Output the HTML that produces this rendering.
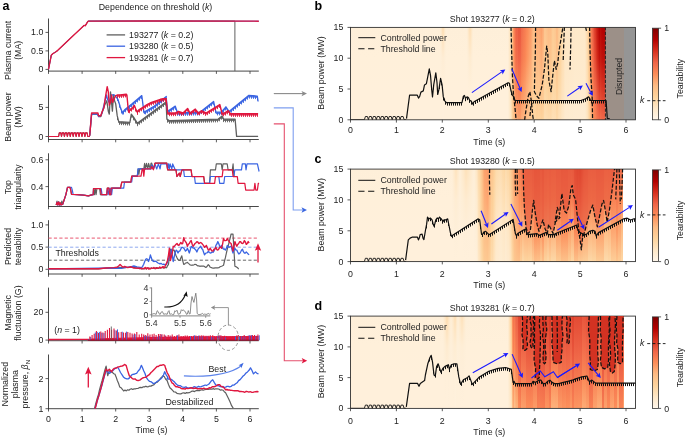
<!DOCTYPE html>
<html><head><meta charset="utf-8"><style>
html,body{margin:0;padding:0;background:#fff;}
svg{display:block;will-change:transform;}
text{font-family:"Liberation Sans", sans-serif;}
</style></head><body>
<svg width="685" height="437" viewBox="0 0 685 437">
<defs><linearGradient id="cmap" x1="0" y1="1" x2="0" y2="0"><stop offset="0.000" stop-color="#fff7ec"/><stop offset="0.125" stop-color="#fee8c8"/><stop offset="0.250" stop-color="#fdd49e"/><stop offset="0.375" stop-color="#fdbb84"/><stop offset="0.500" stop-color="#fc8d59"/><stop offset="0.625" stop-color="#ef6548"/><stop offset="0.750" stop-color="#d7301f"/><stop offset="0.875" stop-color="#b30000"/><stop offset="1.000" stop-color="#7f0000"/></linearGradient><clipPath id="clipb"><rect x="350.5" y="27.4" width="285" height="92.4"/></clipPath><clipPath id="clipc"><rect x="350.5" y="169.1" width="285" height="92.5"/></clipPath><clipPath id="clipd"><rect x="350.5" y="316.1" width="285" height="92.3"/></clipPath><linearGradient id="hb0" x1="0" y1="0" x2="0" y2="1"><stop offset="0" stop-color="#feefd9"/><stop offset=".33" stop-color="#fff0da"/><stop offset=".67" stop-color="#fff0db"/><stop offset="1" stop-color="#fff0db"/></linearGradient><linearGradient id="hb1" x1="0" y1="0" x2="0" y2="1"><stop offset="0" stop-color="#feedd3"/><stop offset=".33" stop-color="#feefd9"/><stop offset=".67" stop-color="#fff0db"/><stop offset="1" stop-color="#fff0db"/></linearGradient><linearGradient id="hb2" x1="0" y1="0" x2="0" y2="1"><stop offset="0" stop-color="#fee8c7"/><stop offset=".33" stop-color="#feeed7"/><stop offset=".67" stop-color="#fff0da"/><stop offset="1" stop-color="#fff0db"/></linearGradient><linearGradient id="hb3" x1="0" y1="0" x2="0" y2="1"><stop offset="0" stop-color="#fedfb6"/><stop offset=".33" stop-color="#feedd5"/><stop offset=".67" stop-color="#fff0db"/><stop offset="1" stop-color="#fff0dc"/></linearGradient><linearGradient id="hb4" x1="0" y1="0" x2="0" y2="1"><stop offset="0" stop-color="#feecd3"/><stop offset=".33" stop-color="#feefd8"/><stop offset=".67" stop-color="#fff0db"/><stop offset="1" stop-color="#fff0db"/></linearGradient><linearGradient id="hb5" x1="0" y1="0" x2="0" y2="1"><stop offset="0" stop-color="#fee7c5"/><stop offset=".33" stop-color="#feedd5"/><stop offset=".67" stop-color="#fff0da"/><stop offset="1" stop-color="#fff0db"/></linearGradient><linearGradient id="hb6" x1="0" y1="0" x2="0" y2="1"><stop offset="0" stop-color="#fee0b8"/><stop offset=".33" stop-color="#feecd1"/><stop offset=".67" stop-color="#fff0da"/><stop offset="1" stop-color="#fff0db"/></linearGradient><linearGradient id="hb7" x1="0" y1="0" x2="0" y2="1"><stop offset="0" stop-color="#feecd3"/><stop offset=".33" stop-color="#feedd4"/><stop offset=".67" stop-color="#feeed5"/><stop offset="1" stop-color="#feeed7"/></linearGradient><linearGradient id="hb8" x1="0" y1="0" x2="0" y2="1"><stop offset="0" stop-color="#fee7c5"/><stop offset=".33" stop-color="#fee8c8"/><stop offset=".67" stop-color="#fee9cb"/><stop offset="1" stop-color="#feebce"/></linearGradient><linearGradient id="hb9" x1="0" y1="0" x2="0" y2="1"><stop offset="0" stop-color="#fee0b7"/><stop offset=".33" stop-color="#fee1ba"/><stop offset=".67" stop-color="#fee4c0"/><stop offset="1" stop-color="#fee7c5"/></linearGradient><linearGradient id="hb10" x1="0" y1="0" x2="0" y2="1"><stop offset="0" stop-color="#fdd29c"/><stop offset=".33" stop-color="#fdd5a0"/><stop offset=".67" stop-color="#fddaaa"/><stop offset="1" stop-color="#fedeb4"/></linearGradient><linearGradient id="hb11" x1="0" y1="0" x2="0" y2="1"><stop offset="0" stop-color="#fdb780"/><stop offset=".33" stop-color="#fdbe87"/><stop offset=".67" stop-color="#fdc891"/><stop offset="1" stop-color="#fdd29c"/></linearGradient><linearGradient id="hb12" x1="0" y1="0" x2="0" y2="1"><stop offset="0" stop-color="#fc9560"/><stop offset=".33" stop-color="#fca06b"/><stop offset=".67" stop-color="#fdb780"/><stop offset="1" stop-color="#fdc690"/></linearGradient><linearGradient id="hb13" x1="0" y1="0" x2="0" y2="1"><stop offset="0" stop-color="#f77f53"/><stop offset=".33" stop-color="#fb8857"/><stop offset=".67" stop-color="#fca26c"/><stop offset="1" stop-color="#fdbd86"/></linearGradient><linearGradient id="hb14" x1="0" y1="0" x2="0" y2="1"><stop offset="0" stop-color="#f16c4b"/><stop offset=".33" stop-color="#f4754f"/><stop offset=".67" stop-color="#fc8e5a"/><stop offset="1" stop-color="#fdb07a"/></linearGradient><linearGradient id="hb15" x1="0" y1="0" x2="0" y2="1"><stop offset="0" stop-color="#ed6145"/><stop offset=".33" stop-color="#f16c4b"/><stop offset=".67" stop-color="#f98556"/><stop offset="1" stop-color="#fda973"/></linearGradient><linearGradient id="hb16" x1="0" y1="0" x2="0" y2="1"><stop offset="0" stop-color="#e9583e"/><stop offset=".33" stop-color="#ef6448"/><stop offset=".67" stop-color="#f77e53"/><stop offset="1" stop-color="#fca16b"/></linearGradient><linearGradient id="hb17" x1="0" y1="0" x2="0" y2="1"><stop offset="0" stop-color="#eb5b40"/><stop offset=".33" stop-color="#f06749"/><stop offset=".67" stop-color="#f88054"/><stop offset="1" stop-color="#fca26d"/></linearGradient><linearGradient id="hb18" x1="0" y1="0" x2="0" y2="1"><stop offset="0" stop-color="#f16c4b"/><stop offset=".33" stop-color="#f4754f"/><stop offset=".67" stop-color="#fc8d59"/><stop offset="1" stop-color="#fdae78"/></linearGradient><linearGradient id="hb19" x1="0" y1="0" x2="0" y2="1"><stop offset="0" stop-color="#f3714d"/><stop offset=".33" stop-color="#f67b51"/><stop offset=".67" stop-color="#fc925e"/><stop offset="1" stop-color="#fdb17b"/></linearGradient><linearGradient id="hb20" x1="0" y1="0" x2="0" y2="1"><stop offset="0" stop-color="#f5764f"/><stop offset=".33" stop-color="#f88053"/><stop offset=".67" stop-color="#fc9763"/><stop offset="1" stop-color="#fdb47e"/></linearGradient><linearGradient id="hb21" x1="0" y1="0" x2="0" y2="1"><stop offset="0" stop-color="#f67b51"/><stop offset=".33" stop-color="#f98455"/><stop offset=".67" stop-color="#fc9d68"/><stop offset="1" stop-color="#fdb982"/></linearGradient><linearGradient id="hb22" x1="0" y1="0" x2="0" y2="1"><stop offset="0" stop-color="#f88053"/><stop offset=".33" stop-color="#fb8957"/><stop offset=".67" stop-color="#fca26d"/><stop offset="1" stop-color="#fdbc85"/></linearGradient><linearGradient id="hb23" x1="0" y1="0" x2="0" y2="1"><stop offset="0" stop-color="#fa8656"/><stop offset=".33" stop-color="#fc905c"/><stop offset=".67" stop-color="#fdaa74"/><stop offset="1" stop-color="#fdc089"/></linearGradient><linearGradient id="hb24" x1="0" y1="0" x2="0" y2="1"><stop offset="0" stop-color="#fb8b58"/><stop offset=".33" stop-color="#fc9661"/><stop offset=".67" stop-color="#fdaf79"/><stop offset="1" stop-color="#fdc28c"/></linearGradient><linearGradient id="hb25" x1="0" y1="0" x2="0" y2="1"><stop offset="0" stop-color="#fc915d"/><stop offset=".33" stop-color="#fc9c67"/><stop offset=".67" stop-color="#fdb57e"/><stop offset="1" stop-color="#fdc58e"/></linearGradient><linearGradient id="hb26" x1="0" y1="0" x2="0" y2="1"><stop offset="0" stop-color="#fc9863"/><stop offset=".33" stop-color="#fca36d"/><stop offset=".67" stop-color="#fdba83"/><stop offset="1" stop-color="#fdc791"/></linearGradient><linearGradient id="hb27" x1="0" y1="0" x2="0" y2="1"><stop offset="0" stop-color="#fc9b66"/><stop offset=".33" stop-color="#fda671"/><stop offset=".67" stop-color="#fdbc85"/><stop offset="1" stop-color="#fdc892"/></linearGradient><linearGradient id="hb28" x1="0" y1="0" x2="0" y2="1"><stop offset="0" stop-color="#fda46f"/><stop offset=".33" stop-color="#fdaf79"/><stop offset=".67" stop-color="#fdc089"/><stop offset="1" stop-color="#fdcc95"/></linearGradient><linearGradient id="hb29" x1="0" y1="0" x2="0" y2="1"><stop offset="0" stop-color="#fdb17b"/><stop offset=".33" stop-color="#fdbc85"/><stop offset=".67" stop-color="#fdc790"/><stop offset="1" stop-color="#fdd09a"/></linearGradient><linearGradient id="hb30" x1="0" y1="0" x2="0" y2="1"><stop offset="0" stop-color="#fdbc85"/><stop offset=".33" stop-color="#fdc28b"/><stop offset=".67" stop-color="#fdcc96"/><stop offset="1" stop-color="#fdd49f"/></linearGradient><linearGradient id="hb31" x1="0" y1="0" x2="0" y2="1"><stop offset="0" stop-color="#fdbd86"/><stop offset=".33" stop-color="#fdc48d"/><stop offset=".67" stop-color="#fdce98"/><stop offset="1" stop-color="#fdd6a2"/></linearGradient><linearGradient id="hb32" x1="0" y1="0" x2="0" y2="1"><stop offset="0" stop-color="#fdba83"/><stop offset=".33" stop-color="#fdc28b"/><stop offset=".67" stop-color="#fdcd96"/><stop offset="1" stop-color="#fdd6a2"/></linearGradient><linearGradient id="hb33" x1="0" y1="0" x2="0" y2="1"><stop offset="0" stop-color="#fdae77"/><stop offset=".33" stop-color="#fdbb84"/><stop offset=".67" stop-color="#fdc790"/><stop offset="1" stop-color="#fdd39d"/></linearGradient><linearGradient id="hb34" x1="0" y1="0" x2="0" y2="1"><stop offset="0" stop-color="#fda973"/><stop offset=".33" stop-color="#fdb881"/><stop offset=".67" stop-color="#fdc68f"/><stop offset="1" stop-color="#fdd39d"/></linearGradient><linearGradient id="hb35" x1="0" y1="0" x2="0" y2="1"><stop offset="0" stop-color="#fdab75"/><stop offset=".33" stop-color="#fdba83"/><stop offset=".67" stop-color="#fdc891"/><stop offset="1" stop-color="#fdd59f"/></linearGradient><linearGradient id="hb36" x1="0" y1="0" x2="0" y2="1"><stop offset="0" stop-color="#fda772"/><stop offset=".33" stop-color="#fdb680"/><stop offset=".67" stop-color="#fdc790"/><stop offset="1" stop-color="#fdd49e"/></linearGradient><linearGradient id="hb37" x1="0" y1="0" x2="0" y2="1"><stop offset="0" stop-color="#fca46e"/><stop offset=".33" stop-color="#fdb37c"/><stop offset=".67" stop-color="#fdc68f"/><stop offset="1" stop-color="#fdd49e"/></linearGradient><linearGradient id="hb38" x1="0" y1="0" x2="0" y2="1"><stop offset="0" stop-color="#fca06a"/><stop offset=".33" stop-color="#fdae78"/><stop offset=".67" stop-color="#fdc38c"/><stop offset="1" stop-color="#fdd29c"/></linearGradient><linearGradient id="hb39" x1="0" y1="0" x2="0" y2="1"><stop offset="0" stop-color="#fda973"/><stop offset=".33" stop-color="#fdb680"/><stop offset=".67" stop-color="#fdc690"/><stop offset="1" stop-color="#fdd49f"/></linearGradient><linearGradient id="hb40" x1="0" y1="0" x2="0" y2="1"><stop offset="0" stop-color="#fdb27c"/><stop offset=".33" stop-color="#fdbd86"/><stop offset=".67" stop-color="#fdc993"/><stop offset="1" stop-color="#fdd7a3"/></linearGradient><linearGradient id="hb41" x1="0" y1="0" x2="0" y2="1"><stop offset="0" stop-color="#fdc58f"/><stop offset=".33" stop-color="#fdcb95"/><stop offset=".67" stop-color="#fdd5a1"/><stop offset="1" stop-color="#fddeb3"/></linearGradient><linearGradient id="hb42" x1="0" y1="0" x2="0" y2="1"><stop offset="0" stop-color="#fdc690"/><stop offset=".33" stop-color="#fdcc96"/><stop offset=".67" stop-color="#fdd6a2"/><stop offset="1" stop-color="#fedeb4"/></linearGradient><linearGradient id="hb43" x1="0" y1="0" x2="0" y2="1"><stop offset="0" stop-color="#fdc38c"/><stop offset=".33" stop-color="#fdca93"/><stop offset=".67" stop-color="#fdd49f"/><stop offset="1" stop-color="#fddeb2"/></linearGradient><linearGradient id="hb44" x1="0" y1="0" x2="0" y2="1"><stop offset="0" stop-color="#fdc089"/><stop offset=".33" stop-color="#fdc791"/><stop offset=".67" stop-color="#fdd39d"/><stop offset="1" stop-color="#fdddb1"/></linearGradient><linearGradient id="hb45" x1="0" y1="0" x2="0" y2="1"><stop offset="0" stop-color="#fdbd86"/><stop offset=".33" stop-color="#fdc48e"/><stop offset=".67" stop-color="#fdd09a"/><stop offset="1" stop-color="#fddcaf"/></linearGradient><linearGradient id="hb46" x1="0" y1="0" x2="0" y2="1"><stop offset="0" stop-color="#fdbe87"/><stop offset=".33" stop-color="#fdc58e"/><stop offset=".67" stop-color="#fdd19a"/><stop offset="1" stop-color="#fddcaf"/></linearGradient><linearGradient id="hb47" x1="0" y1="0" x2="0" y2="1"><stop offset="0" stop-color="#fdbe87"/><stop offset=".33" stop-color="#fdc58e"/><stop offset=".67" stop-color="#fdcf99"/><stop offset="1" stop-color="#fddbae"/></linearGradient><linearGradient id="hb48" x1="0" y1="0" x2="0" y2="1"><stop offset="0" stop-color="#fdc38c"/><stop offset=".33" stop-color="#fdc992"/><stop offset=".67" stop-color="#fdd29c"/><stop offset="1" stop-color="#fdddb1"/></linearGradient><linearGradient id="hb49" x1="0" y1="0" x2="0" y2="1"><stop offset="0" stop-color="#fdcb94"/><stop offset=".33" stop-color="#fdcf99"/><stop offset=".67" stop-color="#fdd6a3"/><stop offset="1" stop-color="#fee0b6"/></linearGradient><linearGradient id="hb50" x1="0" y1="0" x2="0" y2="1"><stop offset="0" stop-color="#fdcc95"/><stop offset=".33" stop-color="#fdd09a"/><stop offset=".67" stop-color="#fdd7a5"/><stop offset="1" stop-color="#fee0b7"/></linearGradient><linearGradient id="hb51" x1="0" y1="0" x2="0" y2="1"><stop offset="0" stop-color="#fdc992"/><stop offset=".33" stop-color="#fdce98"/><stop offset=".67" stop-color="#fdd6a3"/><stop offset="1" stop-color="#fedfb6"/></linearGradient><linearGradient id="hb52" x1="0" y1="0" x2="0" y2="1"><stop offset="0" stop-color="#fdc68f"/><stop offset=".33" stop-color="#fdcc96"/><stop offset=".67" stop-color="#fdd6a2"/><stop offset="1" stop-color="#fedfb4"/></linearGradient><linearGradient id="hb53" x1="0" y1="0" x2="0" y2="1"><stop offset="0" stop-color="#fdbc85"/><stop offset=".33" stop-color="#fdc38d"/><stop offset=".67" stop-color="#fdcf99"/><stop offset="1" stop-color="#fddbac"/></linearGradient><linearGradient id="hb54" x1="0" y1="0" x2="0" y2="1"><stop offset="0" stop-color="#fdbd86"/><stop offset=".33" stop-color="#fdc48e"/><stop offset=".67" stop-color="#fdd09a"/><stop offset="1" stop-color="#fddbad"/></linearGradient><linearGradient id="hb55" x1="0" y1="0" x2="0" y2="1"><stop offset="0" stop-color="#fdc791"/><stop offset=".33" stop-color="#fdce98"/><stop offset=".67" stop-color="#fdd7a5"/><stop offset="1" stop-color="#fedfb5"/></linearGradient><linearGradient id="hb56" x1="0" y1="0" x2="0" y2="1"><stop offset="0" stop-color="#fdcc96"/><stop offset=".33" stop-color="#fdd29c"/><stop offset=".67" stop-color="#fdd9a9"/><stop offset="1" stop-color="#fee1b9"/></linearGradient><linearGradient id="hb57" x1="0" y1="0" x2="0" y2="1"><stop offset="0" stop-color="#fdd19b"/><stop offset=".33" stop-color="#fdd5a1"/><stop offset=".67" stop-color="#fddcae"/><stop offset="1" stop-color="#fee2bc"/></linearGradient><linearGradient id="hb58" x1="0" y1="0" x2="0" y2="1"><stop offset="0" stop-color="#fdd7a5"/><stop offset=".33" stop-color="#fddaab"/><stop offset=".67" stop-color="#fedfb6"/><stop offset="1" stop-color="#fee5c1"/></linearGradient><linearGradient id="hb59" x1="0" y1="0" x2="0" y2="1"><stop offset="0" stop-color="#fddcae"/><stop offset=".33" stop-color="#fedeb3"/><stop offset=".67" stop-color="#fee2bc"/><stop offset="1" stop-color="#fee7c6"/></linearGradient><linearGradient id="hb60" x1="0" y1="0" x2="0" y2="1"><stop offset="0" stop-color="#fedeb4"/><stop offset=".33" stop-color="#fee0b8"/><stop offset=".67" stop-color="#fee4bf"/><stop offset="1" stop-color="#fee8c9"/></linearGradient><linearGradient id="hb61" x1="0" y1="0" x2="0" y2="1"><stop offset="0" stop-color="#fee3be"/><stop offset=".33" stop-color="#fee5c2"/><stop offset=".67" stop-color="#fee7c6"/><stop offset="1" stop-color="#feeacd"/></linearGradient><linearGradient id="hb62" x1="0" y1="0" x2="0" y2="1"><stop offset="0" stop-color="#fee6c3"/><stop offset=".33" stop-color="#fee7c7"/><stop offset=".67" stop-color="#fee9ca"/><stop offset="1" stop-color="#feebcf"/></linearGradient><linearGradient id="hb63" x1="0" y1="0" x2="0" y2="1"><stop offset="0" stop-color="#fee6c4"/><stop offset=".33" stop-color="#fee8c7"/><stop offset=".67" stop-color="#fee9ca"/><stop offset="1" stop-color="#feebd0"/></linearGradient><linearGradient id="hb64" x1="0" y1="0" x2="0" y2="1"><stop offset="0" stop-color="#fee6c5"/><stop offset=".33" stop-color="#fee8c8"/><stop offset=".67" stop-color="#fee9cb"/><stop offset="1" stop-color="#feebd0"/></linearGradient><linearGradient id="hb65" x1="0" y1="0" x2="0" y2="1"><stop offset="0" stop-color="#fee7c5"/><stop offset=".33" stop-color="#fee8c9"/><stop offset=".67" stop-color="#fee9cb"/><stop offset="1" stop-color="#feebd0"/></linearGradient><linearGradient id="hb66" x1="0" y1="0" x2="0" y2="1"><stop offset="0" stop-color="#fee7c6"/><stop offset=".33" stop-color="#fee8c9"/><stop offset=".67" stop-color="#feeacc"/><stop offset="1" stop-color="#feecd0"/></linearGradient><linearGradient id="hb67" x1="0" y1="0" x2="0" y2="1"><stop offset="0" stop-color="#fee7c7"/><stop offset=".33" stop-color="#fee9ca"/><stop offset=".67" stop-color="#feeacd"/><stop offset="1" stop-color="#feecd1"/></linearGradient><linearGradient id="hb68" x1="0" y1="0" x2="0" y2="1"><stop offset="0" stop-color="#fee8c7"/><stop offset=".33" stop-color="#fee9ca"/><stop offset=".67" stop-color="#feeacd"/><stop offset="1" stop-color="#feecd1"/></linearGradient><linearGradient id="hb69" x1="0" y1="0" x2="0" y2="1"><stop offset="0" stop-color="#fee8c8"/><stop offset=".33" stop-color="#fee9cb"/><stop offset=".67" stop-color="#feeace"/><stop offset="1" stop-color="#feecd1"/></linearGradient><linearGradient id="hb70" x1="0" y1="0" x2="0" y2="1"><stop offset="0" stop-color="#fee8c9"/><stop offset=".33" stop-color="#fee9cb"/><stop offset=".67" stop-color="#feebce"/><stop offset="1" stop-color="#feecd2"/></linearGradient><linearGradient id="hb71" x1="0" y1="0" x2="0" y2="1"><stop offset="0" stop-color="#fee8c9"/><stop offset=".33" stop-color="#feeacc"/><stop offset=".67" stop-color="#feebcf"/><stop offset="1" stop-color="#feecd2"/></linearGradient><linearGradient id="hb72" x1="0" y1="0" x2="0" y2="1"><stop offset="0" stop-color="#fee9c9"/><stop offset=".33" stop-color="#feeacc"/><stop offset=".67" stop-color="#feebcf"/><stop offset="1" stop-color="#feecd2"/></linearGradient><linearGradient id="hb73" x1="0" y1="0" x2="0" y2="1"><stop offset="0" stop-color="#fee5c2"/><stop offset=".33" stop-color="#fee7c6"/><stop offset=".67" stop-color="#fee9ca"/><stop offset="1" stop-color="#feebce"/></linearGradient><linearGradient id="hb74" x1="0" y1="0" x2="0" y2="1"><stop offset="0" stop-color="#fedfb6"/><stop offset=".33" stop-color="#fee1ba"/><stop offset=".67" stop-color="#fee4c1"/><stop offset="1" stop-color="#fee8c7"/></linearGradient><linearGradient id="hb75" x1="0" y1="0" x2="0" y2="1"><stop offset="0" stop-color="#fdd9a8"/><stop offset=".33" stop-color="#fddbad"/><stop offset=".67" stop-color="#fedfb6"/><stop offset="1" stop-color="#fee4bf"/></linearGradient><linearGradient id="hb76" x1="0" y1="0" x2="0" y2="1"><stop offset="0" stop-color="#fdca93"/><stop offset=".33" stop-color="#fdce98"/><stop offset=".67" stop-color="#fdd6a1"/><stop offset="1" stop-color="#fddcaf"/></linearGradient><linearGradient id="hb77" x1="0" y1="0" x2="0" y2="1"><stop offset="0" stop-color="#fdbb84"/><stop offset=".33" stop-color="#fdbf88"/><stop offset=".67" stop-color="#fdc892"/><stop offset="1" stop-color="#fdd29c"/></linearGradient><linearGradient id="hb78" x1="0" y1="0" x2="0" y2="1"><stop offset="0" stop-color="#fc9762"/><stop offset=".33" stop-color="#fc9e69"/><stop offset=".67" stop-color="#fdb27c"/><stop offset="1" stop-color="#fdc18a"/></linearGradient><linearGradient id="hb79" x1="0" y1="0" x2="0" y2="1"><stop offset="0" stop-color="#f77d52"/><stop offset=".33" stop-color="#f98455"/><stop offset=".67" stop-color="#fc9a65"/><stop offset="1" stop-color="#fdb27b"/></linearGradient><linearGradient id="hb80" x1="0" y1="0" x2="0" y2="1"><stop offset="0" stop-color="#f16a4a"/><stop offset=".33" stop-color="#f4744e"/><stop offset=".67" stop-color="#fb8957"/><stop offset="1" stop-color="#fca46e"/></linearGradient><linearGradient id="hb81" x1="0" y1="0" x2="0" y2="1"><stop offset="0" stop-color="#e8563c"/><stop offset=".33" stop-color="#ef6548"/><stop offset=".67" stop-color="#f67b51"/><stop offset="1" stop-color="#fc9863"/></linearGradient><linearGradient id="hb82" x1="0" y1="0" x2="0" y2="1"><stop offset="0" stop-color="#df422d"/><stop offset=".33" stop-color="#e7533a"/><stop offset=".67" stop-color="#f26f4c"/><stop offset="1" stop-color="#fc8c59"/></linearGradient><linearGradient id="hb83" x1="0" y1="0" x2="0" y2="1"><stop offset="0" stop-color="#d93523"/><stop offset=".33" stop-color="#e14630"/><stop offset=".67" stop-color="#f06949"/><stop offset="1" stop-color="#fa8556"/></linearGradient><linearGradient id="hb84" x1="0" y1="0" x2="0" y2="1"><stop offset="0" stop-color="#cf2518"/><stop offset=".33" stop-color="#d93523"/><stop offset=".67" stop-color="#eb5d42"/><stop offset="1" stop-color="#f67c52"/></linearGradient><linearGradient id="hb85" x1="0" y1="0" x2="0" y2="1"><stop offset="0" stop-color="#c51810"/><stop offset=".33" stop-color="#d12719"/><stop offset=".67" stop-color="#e65138"/><stop offset="1" stop-color="#f4744e"/></linearGradient><linearGradient id="hb86" x1="0" y1="0" x2="0" y2="1"><stop offset="0" stop-color="#bd0e09"/><stop offset=".33" stop-color="#c91d13"/><stop offset=".67" stop-color="#e14630"/><stop offset="1" stop-color="#f26f4c"/></linearGradient><linearGradient id="hb87" x1="0" y1="0" x2="0" y2="1"><stop offset="0" stop-color="#b60402"/><stop offset=".33" stop-color="#c1130c"/><stop offset=".67" stop-color="#dc3a27"/><stop offset="1" stop-color="#f06a4a"/></linearGradient><linearGradient id="hb88" x1="0" y1="0" x2="0" y2="1"><stop offset="0" stop-color="#ba0a06"/><stop offset=".33" stop-color="#c61910"/><stop offset=".67" stop-color="#df412c"/><stop offset="1" stop-color="#f3704d"/></linearGradient><linearGradient id="hb89" x1="0" y1="0" x2="0" y2="1"><stop offset="0" stop-color="#b60403"/><stop offset=".33" stop-color="#c2140d"/><stop offset=".67" stop-color="#dc3b28"/><stop offset="1" stop-color="#f16c4b"/></linearGradient><linearGradient id="hb90" x1="0" y1="0" x2="0" y2="1"><stop offset="0" stop-color="#b40101"/><stop offset=".33" stop-color="#bf100b"/><stop offset=".67" stop-color="#da3825"/><stop offset="1" stop-color="#f0694a"/></linearGradient><linearGradient id="hb91" x1="0" y1="0" x2="0" y2="1"><stop offset="0" stop-color="#b30000"/><stop offset=".33" stop-color="#bf0f0a"/><stop offset=".67" stop-color="#da3624"/><stop offset="1" stop-color="#f06849"/></linearGradient><linearGradient id="hb92" x1="0" y1="0" x2="0" y2="1"><stop offset="0" stop-color="#b50302"/><stop offset=".33" stop-color="#c1130c"/><stop offset=".67" stop-color="#db3a27"/><stop offset="1" stop-color="#f16b4a"/></linearGradient><linearGradient id="hb93" x1="0" y1="0" x2="0" y2="1"><stop offset="0" stop-color="#b70504"/><stop offset=".33" stop-color="#c3150d"/><stop offset=".67" stop-color="#dd3c29"/><stop offset="1" stop-color="#f26d4b"/></linearGradient><linearGradient id="hc0" x1="0" y1="0" x2="0" y2="1"><stop offset="0" stop-color="#feefd9"/><stop offset=".33" stop-color="#fff0da"/><stop offset=".67" stop-color="#fff0db"/><stop offset="1" stop-color="#fff0db"/></linearGradient><linearGradient id="hc1" x1="0" y1="0" x2="0" y2="1"><stop offset="0" stop-color="#feeed6"/><stop offset=".33" stop-color="#feefd9"/><stop offset=".67" stop-color="#fff0db"/><stop offset="1" stop-color="#fff0db"/></linearGradient><linearGradient id="hc2" x1="0" y1="0" x2="0" y2="1"><stop offset="0" stop-color="#feebcf"/><stop offset=".33" stop-color="#feeed7"/><stop offset=".67" stop-color="#fff0da"/><stop offset="1" stop-color="#fff0db"/></linearGradient><linearGradient id="hc3" x1="0" y1="0" x2="0" y2="1"><stop offset="0" stop-color="#fee8c8"/><stop offset=".33" stop-color="#feedd5"/><stop offset=".67" stop-color="#feefda"/><stop offset="1" stop-color="#fff0db"/></linearGradient><linearGradient id="hc4" x1="0" y1="0" x2="0" y2="1"><stop offset="0" stop-color="#fee4c0"/><stop offset=".33" stop-color="#feedd3"/><stop offset=".67" stop-color="#feefd9"/><stop offset="1" stop-color="#fff0db"/></linearGradient><linearGradient id="hc5" x1="0" y1="0" x2="0" y2="1"><stop offset="0" stop-color="#feeed7"/><stop offset=".33" stop-color="#feefd9"/><stop offset=".67" stop-color="#fff0db"/><stop offset="1" stop-color="#fff0db"/></linearGradient><linearGradient id="hc6" x1="0" y1="0" x2="0" y2="1"><stop offset="0" stop-color="#feecd2"/><stop offset=".33" stop-color="#feeed7"/><stop offset=".67" stop-color="#fff0da"/><stop offset="1" stop-color="#fff0db"/></linearGradient><linearGradient id="hc7" x1="0" y1="0" x2="0" y2="1"><stop offset="0" stop-color="#feeacd"/><stop offset=".33" stop-color="#feeed6"/><stop offset=".67" stop-color="#fff0da"/><stop offset="1" stop-color="#fff0db"/></linearGradient><linearGradient id="hc8" x1="0" y1="0" x2="0" y2="1"><stop offset="0" stop-color="#fee8c8"/><stop offset=".33" stop-color="#feedd4"/><stop offset=".67" stop-color="#feefda"/><stop offset="1" stop-color="#fff0db"/></linearGradient><linearGradient id="hc9" x1="0" y1="0" x2="0" y2="1"><stop offset="0" stop-color="#fee5c2"/><stop offset=".33" stop-color="#feecd2"/><stop offset=".67" stop-color="#feefda"/><stop offset="1" stop-color="#fff0db"/></linearGradient><linearGradient id="hc10" x1="0" y1="0" x2="0" y2="1"><stop offset="0" stop-color="#fee2bc"/><stop offset=".33" stop-color="#feebd0"/><stop offset=".67" stop-color="#feefd9"/><stop offset="1" stop-color="#fff0db"/></linearGradient><linearGradient id="hc11" x1="0" y1="0" x2="0" y2="1"><stop offset="0" stop-color="#fee2bb"/><stop offset=".33" stop-color="#feebd0"/><stop offset=".67" stop-color="#feefd9"/><stop offset="1" stop-color="#fff0db"/></linearGradient><linearGradient id="hc12" x1="0" y1="0" x2="0" y2="1"><stop offset="0" stop-color="#fee4c0"/><stop offset=".33" stop-color="#feecd1"/><stop offset=".67" stop-color="#feefda"/><stop offset="1" stop-color="#fff0db"/></linearGradient><linearGradient id="hc13" x1="0" y1="0" x2="0" y2="1"><stop offset="0" stop-color="#fee6c4"/><stop offset=".33" stop-color="#feecd3"/><stop offset=".67" stop-color="#feefda"/><stop offset="1" stop-color="#fff0db"/></linearGradient><linearGradient id="hc14" x1="0" y1="0" x2="0" y2="1"><stop offset="0" stop-color="#feeacc"/><stop offset=".33" stop-color="#feeed5"/><stop offset=".67" stop-color="#fff0da"/><stop offset="1" stop-color="#fff0db"/></linearGradient><linearGradient id="hc15" x1="0" y1="0" x2="0" y2="1"><stop offset="0" stop-color="#feebd0"/><stop offset=".33" stop-color="#feeed7"/><stop offset=".67" stop-color="#fff0da"/><stop offset="1" stop-color="#fff0db"/></linearGradient><linearGradient id="hc16" x1="0" y1="0" x2="0" y2="1"><stop offset="0" stop-color="#feedd4"/><stop offset=".33" stop-color="#feefd8"/><stop offset=".67" stop-color="#fff0da"/><stop offset="1" stop-color="#fff0db"/></linearGradient><linearGradient id="hc17" x1="0" y1="0" x2="0" y2="1"><stop offset="0" stop-color="#feeed6"/><stop offset=".33" stop-color="#feefd8"/><stop offset=".67" stop-color="#feefda"/><stop offset="1" stop-color="#fff0db"/></linearGradient><linearGradient id="hc18" x1="0" y1="0" x2="0" y2="1"><stop offset="0" stop-color="#feebce"/><stop offset=".33" stop-color="#feedd5"/><stop offset=".67" stop-color="#feefd8"/><stop offset="1" stop-color="#fff0da"/></linearGradient><linearGradient id="hc19" x1="0" y1="0" x2="0" y2="1"><stop offset="0" stop-color="#fee8c7"/><stop offset=".33" stop-color="#feecd1"/><stop offset=".67" stop-color="#feeed6"/><stop offset="1" stop-color="#feefda"/></linearGradient><linearGradient id="hc20" x1="0" y1="0" x2="0" y2="1"><stop offset="0" stop-color="#fee1ba"/><stop offset=".33" stop-color="#fee8c7"/><stop offset=".67" stop-color="#feeacd"/><stop offset="1" stop-color="#feedd3"/></linearGradient><linearGradient id="hc21" x1="0" y1="0" x2="0" y2="1"><stop offset="0" stop-color="#fddaab"/><stop offset=".33" stop-color="#fee0b7"/><stop offset=".67" stop-color="#fee3bd"/><stop offset="1" stop-color="#fee7c6"/></linearGradient><linearGradient id="hc22" x1="0" y1="0" x2="0" y2="1"><stop offset="0" stop-color="#fdd7a4"/><stop offset=".33" stop-color="#fddcae"/><stop offset=".67" stop-color="#fedfb6"/><stop offset="1" stop-color="#fee4bf"/></linearGradient><linearGradient id="hc23" x1="0" y1="0" x2="0" y2="1"><stop offset="0" stop-color="#fdd09a"/><stop offset=".33" stop-color="#fdd5a0"/><stop offset=".67" stop-color="#fdd9a8"/><stop offset="1" stop-color="#fedeb4"/></linearGradient><linearGradient id="hc24" x1="0" y1="0" x2="0" y2="1"><stop offset="0" stop-color="#fdc791"/><stop offset=".33" stop-color="#fdcc96"/><stop offset=".67" stop-color="#fdd39d"/><stop offset="1" stop-color="#fdd9a9"/></linearGradient><linearGradient id="hc25" x1="0" y1="0" x2="0" y2="1"><stop offset="0" stop-color="#fdbd86"/><stop offset=".33" stop-color="#fdc38c"/><stop offset=".67" stop-color="#fdcb94"/><stop offset="1" stop-color="#fdd5a0"/></linearGradient><linearGradient id="hc26" x1="0" y1="0" x2="0" y2="1"><stop offset="0" stop-color="#fdad77"/><stop offset=".33" stop-color="#fdb982"/><stop offset=".67" stop-color="#fdc38c"/><stop offset="1" stop-color="#fdcf98"/></linearGradient><linearGradient id="hc27" x1="0" y1="0" x2="0" y2="1"><stop offset="0" stop-color="#fca26d"/><stop offset=".33" stop-color="#fdaf78"/><stop offset=".67" stop-color="#fdbe87"/><stop offset="1" stop-color="#fdcb94"/></linearGradient><linearGradient id="hc28" x1="0" y1="0" x2="0" y2="1"><stop offset="0" stop-color="#fc9f6a"/><stop offset=".33" stop-color="#fdac76"/><stop offset=".67" stop-color="#fdbd86"/><stop offset="1" stop-color="#fdca93"/></linearGradient><linearGradient id="hc29" x1="0" y1="0" x2="0" y2="1"><stop offset="0" stop-color="#fc9d68"/><stop offset=".33" stop-color="#fda973"/><stop offset=".67" stop-color="#fdbc85"/><stop offset="1" stop-color="#fdc992"/></linearGradient><linearGradient id="hc30" x1="0" y1="0" x2="0" y2="1"><stop offset="0" stop-color="#fc9a65"/><stop offset=".33" stop-color="#fda671"/><stop offset=".67" stop-color="#fdbb84"/><stop offset="1" stop-color="#fdc891"/></linearGradient><linearGradient id="hc31" x1="0" y1="0" x2="0" y2="1"><stop offset="0" stop-color="#fca16c"/><stop offset=".33" stop-color="#fdae78"/><stop offset=".67" stop-color="#fdbf88"/><stop offset="1" stop-color="#fdcb95"/></linearGradient><linearGradient id="hc32" x1="0" y1="0" x2="0" y2="1"><stop offset="0" stop-color="#fdad77"/><stop offset=".33" stop-color="#fdba83"/><stop offset=".67" stop-color="#fdc48d"/><stop offset="1" stop-color="#fdce98"/></linearGradient><linearGradient id="hc33" x1="0" y1="0" x2="0" y2="1"><stop offset="0" stop-color="#fdbd86"/><stop offset=".33" stop-color="#fdc48d"/><stop offset=".67" stop-color="#fdcd96"/><stop offset="1" stop-color="#fdd6a2"/></linearGradient><linearGradient id="hc34" x1="0" y1="0" x2="0" y2="1"><stop offset="0" stop-color="#fdc68f"/><stop offset=".33" stop-color="#fdcd97"/><stop offset=".67" stop-color="#fdd5a1"/><stop offset="1" stop-color="#fddcaf"/></linearGradient><linearGradient id="hc35" x1="0" y1="0" x2="0" y2="1"><stop offset="0" stop-color="#fdc791"/><stop offset=".33" stop-color="#fdcf98"/><stop offset=".67" stop-color="#fdd5a1"/><stop offset="1" stop-color="#fddcb0"/></linearGradient><linearGradient id="hc36" x1="0" y1="0" x2="0" y2="1"><stop offset="0" stop-color="#fdcd96"/><stop offset=".33" stop-color="#fdd49f"/><stop offset=".67" stop-color="#fddbac"/><stop offset="1" stop-color="#fee1b8"/></linearGradient><linearGradient id="hc37" x1="0" y1="0" x2="0" y2="1"><stop offset="0" stop-color="#fdd29c"/><stop offset=".33" stop-color="#fdd9a9"/><stop offset=".67" stop-color="#fee0b6"/><stop offset="1" stop-color="#fee5c1"/></linearGradient><linearGradient id="hc38" x1="0" y1="0" x2="0" y2="1"><stop offset="0" stop-color="#fdd7a5"/><stop offset=".33" stop-color="#fddeb3"/><stop offset=".67" stop-color="#fee5c1"/><stop offset="1" stop-color="#fee9ca"/></linearGradient><linearGradient id="hc39" x1="0" y1="0" x2="0" y2="1"><stop offset="0" stop-color="#fddbac"/><stop offset=".33" stop-color="#fee1ba"/><stop offset=".67" stop-color="#fee8c8"/><stop offset="1" stop-color="#feebce"/></linearGradient><linearGradient id="hc40" x1="0" y1="0" x2="0" y2="1"><stop offset="0" stop-color="#fddcae"/><stop offset=".33" stop-color="#fee2bc"/><stop offset=".67" stop-color="#fee9ca"/><stop offset="1" stop-color="#feebcf"/></linearGradient><linearGradient id="hc41" x1="0" y1="0" x2="0" y2="1"><stop offset="0" stop-color="#fdddb1"/><stop offset=".33" stop-color="#fee3be"/><stop offset=".67" stop-color="#feeacc"/><stop offset="1" stop-color="#feebd0"/></linearGradient><linearGradient id="hc42" x1="0" y1="0" x2="0" y2="1"><stop offset="0" stop-color="#fddeb2"/><stop offset=".33" stop-color="#fee4c0"/><stop offset=".67" stop-color="#feeace"/><stop offset="1" stop-color="#feecd1"/></linearGradient><linearGradient id="hc43" x1="0" y1="0" x2="0" y2="1"><stop offset="0" stop-color="#fdddb2"/><stop offset=".33" stop-color="#fee4c0"/><stop offset=".67" stop-color="#feeace"/><stop offset="1" stop-color="#feecd1"/></linearGradient><linearGradient id="hc44" x1="0" y1="0" x2="0" y2="1"><stop offset="0" stop-color="#fddcaf"/><stop offset=".33" stop-color="#fee3be"/><stop offset=".67" stop-color="#feeacc"/><stop offset="1" stop-color="#feecd1"/></linearGradient><linearGradient id="hc45" x1="0" y1="0" x2="0" y2="1"><stop offset="0" stop-color="#fdd9a9"/><stop offset=".33" stop-color="#fee1b9"/><stop offset=".67" stop-color="#fee9ca"/><stop offset="1" stop-color="#feebcf"/></linearGradient><linearGradient id="hc46" x1="0" y1="0" x2="0" y2="1"><stop offset="0" stop-color="#fdd8a6"/><stop offset=".33" stop-color="#fee0b6"/><stop offset=".67" stop-color="#fee8c8"/><stop offset="1" stop-color="#feebce"/></linearGradient><linearGradient id="hc47" x1="0" y1="0" x2="0" y2="1"><stop offset="0" stop-color="#fdd6a3"/><stop offset=".33" stop-color="#fedfb4"/><stop offset=".67" stop-color="#fee7c7"/><stop offset="1" stop-color="#feeace"/></linearGradient><linearGradient id="hc48" x1="0" y1="0" x2="0" y2="1"><stop offset="0" stop-color="#fddbad"/><stop offset=".33" stop-color="#fee3bd"/><stop offset=".67" stop-color="#feeacc"/><stop offset="1" stop-color="#feecd1"/></linearGradient><linearGradient id="hc49" x1="0" y1="0" x2="0" y2="1"><stop offset="0" stop-color="#fddbac"/><stop offset=".33" stop-color="#fee2bc"/><stop offset=".67" stop-color="#fee9cb"/><stop offset="1" stop-color="#feebd0"/></linearGradient><linearGradient id="hc50" x1="0" y1="0" x2="0" y2="1"><stop offset="0" stop-color="#fdd8a7"/><stop offset=".33" stop-color="#fee0b7"/><stop offset=".67" stop-color="#fee8c7"/><stop offset="1" stop-color="#feeace"/></linearGradient><linearGradient id="hc51" x1="0" y1="0" x2="0" y2="1"><stop offset="0" stop-color="#fdd7a5"/><stop offset=".33" stop-color="#fedfb5"/><stop offset=".67" stop-color="#fee7c5"/><stop offset="1" stop-color="#feeacd"/></linearGradient><linearGradient id="hc52" x1="0" y1="0" x2="0" y2="1"><stop offset="0" stop-color="#fdd39d"/><stop offset=".33" stop-color="#fddbad"/><stop offset=".67" stop-color="#fee3be"/><stop offset="1" stop-color="#fee8c9"/></linearGradient><linearGradient id="hc53" x1="0" y1="0" x2="0" y2="1"><stop offset="0" stop-color="#fdce97"/><stop offset=".33" stop-color="#fdd7a4"/><stop offset=".67" stop-color="#fedfb5"/><stop offset="1" stop-color="#fee5c1"/></linearGradient><linearGradient id="hc54" x1="0" y1="0" x2="0" y2="1"><stop offset="0" stop-color="#fdc58e"/><stop offset=".33" stop-color="#fdce98"/><stop offset=".67" stop-color="#fdd7a5"/><stop offset="1" stop-color="#fedfb4"/></linearGradient><linearGradient id="hc55" x1="0" y1="0" x2="0" y2="1"><stop offset="0" stop-color="#fdbc85"/><stop offset=".33" stop-color="#fdc38d"/><stop offset=".67" stop-color="#fdcd97"/><stop offset="1" stop-color="#fdd7a5"/></linearGradient><linearGradient id="hc56" x1="0" y1="0" x2="0" y2="1"><stop offset="0" stop-color="#fdad77"/><stop offset=".33" stop-color="#fdba83"/><stop offset=".67" stop-color="#fdc48e"/><stop offset="1" stop-color="#fdd09a"/></linearGradient><linearGradient id="hc57" x1="0" y1="0" x2="0" y2="1"><stop offset="0" stop-color="#fca06b"/><stop offset=".33" stop-color="#fdac76"/><stop offset=".67" stop-color="#fdbc85"/><stop offset="1" stop-color="#fdc891"/></linearGradient><linearGradient id="hc58" x1="0" y1="0" x2="0" y2="1"><stop offset="0" stop-color="#fc9c67"/><stop offset=".33" stop-color="#fda872"/><stop offset=".67" stop-color="#fdb982"/><stop offset="1" stop-color="#fdc58f"/></linearGradient><linearGradient id="hc59" x1="0" y1="0" x2="0" y2="1"><stop offset="0" stop-color="#fc9762"/><stop offset=".33" stop-color="#fca36e"/><stop offset=".67" stop-color="#fdb47e"/><stop offset="1" stop-color="#fdc38c"/></linearGradient><linearGradient id="hc60" x1="0" y1="0" x2="0" y2="1"><stop offset="0" stop-color="#fc935f"/><stop offset=".33" stop-color="#fc9f6a"/><stop offset=".67" stop-color="#fdb17a"/><stop offset="1" stop-color="#fdc28b"/></linearGradient><linearGradient id="hc61" x1="0" y1="0" x2="0" y2="1"><stop offset="0" stop-color="#fc8c58"/><stop offset=".33" stop-color="#fc9864"/><stop offset=".67" stop-color="#fdac76"/><stop offset="1" stop-color="#fdc18b"/></linearGradient><linearGradient id="hc62" x1="0" y1="0" x2="0" y2="1"><stop offset="0" stop-color="#f88254"/><stop offset=".33" stop-color="#fc8f5b"/><stop offset=".67" stop-color="#fda771"/><stop offset="1" stop-color="#fdc28b"/></linearGradient><linearGradient id="hc63" x1="0" y1="0" x2="0" y2="1"><stop offset="0" stop-color="#f88054"/><stop offset=".33" stop-color="#fc915d"/><stop offset=".67" stop-color="#fdb37d"/><stop offset="1" stop-color="#fdce98"/></linearGradient><linearGradient id="hc64" x1="0" y1="0" x2="0" y2="1"><stop offset="0" stop-color="#f5764f"/><stop offset=".33" stop-color="#fa8857"/><stop offset=".67" stop-color="#fdae78"/><stop offset="1" stop-color="#fdcf99"/></linearGradient><linearGradient id="hc65" x1="0" y1="0" x2="0" y2="1"><stop offset="0" stop-color="#f4744e"/><stop offset=".33" stop-color="#fb8957"/><stop offset=".67" stop-color="#fdb982"/><stop offset="1" stop-color="#fdd9a8"/></linearGradient><linearGradient id="hc66" x1="0" y1="0" x2="0" y2="1"><stop offset="0" stop-color="#f26f4c"/><stop offset=".33" stop-color="#f98556"/><stop offset=".67" stop-color="#fdb67f"/><stop offset="1" stop-color="#fdd9a8"/></linearGradient><linearGradient id="hc67" x1="0" y1="0" x2="0" y2="1"><stop offset="0" stop-color="#f16c4b"/><stop offset=".33" stop-color="#f88254"/><stop offset=".67" stop-color="#fdb07a"/><stop offset="1" stop-color="#fdd6a2"/></linearGradient><linearGradient id="hc68" x1="0" y1="0" x2="0" y2="1"><stop offset="0" stop-color="#f16b4a"/><stop offset=".33" stop-color="#f88154"/><stop offset=".67" stop-color="#fdaf79"/><stop offset="1" stop-color="#fdd5a1"/></linearGradient><linearGradient id="hc69" x1="0" y1="0" x2="0" y2="1"><stop offset="0" stop-color="#f16a4a"/><stop offset=".33" stop-color="#f88154"/><stop offset=".67" stop-color="#fdae78"/><stop offset="1" stop-color="#fdd5a0"/></linearGradient><linearGradient id="hc70" x1="0" y1="0" x2="0" y2="1"><stop offset="0" stop-color="#f0694a"/><stop offset=".33" stop-color="#f88054"/><stop offset=".67" stop-color="#fdad77"/><stop offset="1" stop-color="#fdd49f"/></linearGradient><linearGradient id="hc71" x1="0" y1="0" x2="0" y2="1"><stop offset="0" stop-color="#f06a4a"/><stop offset=".33" stop-color="#f88254"/><stop offset=".67" stop-color="#fdb079"/><stop offset="1" stop-color="#fdd6a2"/></linearGradient><linearGradient id="hc72" x1="0" y1="0" x2="0" y2="1"><stop offset="0" stop-color="#f0694a"/><stop offset=".33" stop-color="#f88254"/><stop offset=".67" stop-color="#fdaf78"/><stop offset="1" stop-color="#fdd6a1"/></linearGradient><linearGradient id="hc73" x1="0" y1="0" x2="0" y2="1"><stop offset="0" stop-color="#f0694a"/><stop offset=".33" stop-color="#f98355"/><stop offset=".67" stop-color="#fdb07a"/><stop offset="1" stop-color="#fdd7a3"/></linearGradient><linearGradient id="hc74" x1="0" y1="0" x2="0" y2="1"><stop offset="0" stop-color="#f0694a"/><stop offset=".33" stop-color="#f98254"/><stop offset=".67" stop-color="#fdb07a"/><stop offset="1" stop-color="#fdd6a3"/></linearGradient><linearGradient id="hc75" x1="0" y1="0" x2="0" y2="1"><stop offset="0" stop-color="#ee6246"/><stop offset=".33" stop-color="#f67951"/><stop offset=".67" stop-color="#fca06b"/><stop offset="1" stop-color="#fdcd97"/></linearGradient><linearGradient id="hc76" x1="0" y1="0" x2="0" y2="1"><stop offset="0" stop-color="#ee6246"/><stop offset=".33" stop-color="#f57950"/><stop offset=".67" stop-color="#fca06b"/><stop offset="1" stop-color="#fdcd97"/></linearGradient><linearGradient id="hc77" x1="0" y1="0" x2="0" y2="1"><stop offset="0" stop-color="#e9573d"/><stop offset=".33" stop-color="#f26d4b"/><stop offset=".67" stop-color="#fc8c59"/><stop offset="1" stop-color="#fdc08a"/></linearGradient><linearGradient id="hc78" x1="0" y1="0" x2="0" y2="1"><stop offset="0" stop-color="#e9573d"/><stop offset=".33" stop-color="#f26d4b"/><stop offset=".67" stop-color="#fc8c59"/><stop offset="1" stop-color="#fdc089"/></linearGradient><linearGradient id="hc79" x1="0" y1="0" x2="0" y2="1"><stop offset="0" stop-color="#e9573d"/><stop offset=".33" stop-color="#f16c4b"/><stop offset=".67" stop-color="#fc8c58"/><stop offset="1" stop-color="#fdc089"/></linearGradient><linearGradient id="hc80" x1="0" y1="0" x2="0" y2="1"><stop offset="0" stop-color="#e9593e"/><stop offset=".33" stop-color="#f26e4c"/><stop offset=".67" stop-color="#fc8f5a"/><stop offset="1" stop-color="#fdc28b"/></linearGradient><linearGradient id="hc81" x1="0" y1="0" x2="0" y2="1"><stop offset="0" stop-color="#e9593e"/><stop offset=".33" stop-color="#f26e4c"/><stop offset=".67" stop-color="#fc8e5a"/><stop offset="1" stop-color="#fdc28b"/></linearGradient><linearGradient id="hc82" x1="0" y1="0" x2="0" y2="1"><stop offset="0" stop-color="#ee6245"/><stop offset=".33" stop-color="#f5764f"/><stop offset=".67" stop-color="#fc9d68"/><stop offset="1" stop-color="#fdcb95"/></linearGradient><linearGradient id="hc83" x1="0" y1="0" x2="0" y2="1"><stop offset="0" stop-color="#ee6246"/><stop offset=".33" stop-color="#f57750"/><stop offset=".67" stop-color="#fc9e69"/><stop offset="1" stop-color="#fdcc95"/></linearGradient><linearGradient id="hc84" x1="0" y1="0" x2="0" y2="1"><stop offset="0" stop-color="#e9583e"/><stop offset=".33" stop-color="#f16d4b"/><stop offset=".67" stop-color="#fc8c59"/><stop offset="1" stop-color="#fdc18a"/></linearGradient><linearGradient id="hc85" x1="0" y1="0" x2="0" y2="1"><stop offset="0" stop-color="#e9593e"/><stop offset=".33" stop-color="#f26d4b"/><stop offset=".67" stop-color="#fc8c59"/><stop offset="1" stop-color="#fdc18a"/></linearGradient><linearGradient id="hc86" x1="0" y1="0" x2="0" y2="1"><stop offset="0" stop-color="#f06849"/><stop offset=".33" stop-color="#f77e53"/><stop offset=".67" stop-color="#fda973"/><stop offset="1" stop-color="#fdd49e"/></linearGradient><linearGradient id="hc87" x1="0" y1="0" x2="0" y2="1"><stop offset="0" stop-color="#f0694a"/><stop offset=".33" stop-color="#f77e53"/><stop offset=".67" stop-color="#fda974"/><stop offset="1" stop-color="#fdd49e"/></linearGradient><linearGradient id="hc88" x1="0" y1="0" x2="0" y2="1"><stop offset="0" stop-color="#f0694a"/><stop offset=".33" stop-color="#f77e53"/><stop offset=".67" stop-color="#fdaa74"/><stop offset="1" stop-color="#fdd49f"/></linearGradient><linearGradient id="hc89" x1="0" y1="0" x2="0" y2="1"><stop offset="0" stop-color="#f16c4b"/><stop offset=".33" stop-color="#f98255"/><stop offset=".67" stop-color="#fdb17a"/><stop offset="1" stop-color="#fdd8a6"/></linearGradient><linearGradient id="hc90" x1="0" y1="0" x2="0" y2="1"><stop offset="0" stop-color="#f16c4b"/><stop offset=".33" stop-color="#f98355"/><stop offset=".67" stop-color="#fdb17b"/><stop offset="1" stop-color="#fdd8a7"/></linearGradient><linearGradient id="hc91" x1="0" y1="0" x2="0" y2="1"><stop offset="0" stop-color="#f06749"/><stop offset=".33" stop-color="#f67c52"/><stop offset=".67" stop-color="#fda56f"/><stop offset="1" stop-color="#fdd29c"/></linearGradient><linearGradient id="hc92" x1="0" y1="0" x2="0" y2="1"><stop offset="0" stop-color="#f06849"/><stop offset=".33" stop-color="#f77c52"/><stop offset=".67" stop-color="#fda570"/><stop offset="1" stop-color="#fdd29c"/></linearGradient><linearGradient id="hc93" x1="0" y1="0" x2="0" y2="1"><stop offset="0" stop-color="#f26d4b"/><stop offset=".33" stop-color="#f98355"/><stop offset=".67" stop-color="#fdb17b"/><stop offset="1" stop-color="#fdd8a7"/></linearGradient><linearGradient id="hc94" x1="0" y1="0" x2="0" y2="1"><stop offset="0" stop-color="#f26e4c"/><stop offset=".33" stop-color="#f98455"/><stop offset=".67" stop-color="#fdb27b"/><stop offset="1" stop-color="#fdd8a7"/></linearGradient><linearGradient id="hc95" x1="0" y1="0" x2="0" y2="1"><stop offset="0" stop-color="#f26e4c"/><stop offset=".33" stop-color="#f98455"/><stop offset=".67" stop-color="#fdb27c"/><stop offset="1" stop-color="#fdd8a7"/></linearGradient><linearGradient id="hc96" x1="0" y1="0" x2="0" y2="1"><stop offset="0" stop-color="#ef6447"/><stop offset=".33" stop-color="#f57750"/><stop offset=".67" stop-color="#fc9c67"/><stop offset="1" stop-color="#fdcb94"/></linearGradient><linearGradient id="hc97" x1="0" y1="0" x2="0" y2="1"><stop offset="0" stop-color="#ef6548"/><stop offset=".33" stop-color="#f57850"/><stop offset=".67" stop-color="#fc9c67"/><stop offset="1" stop-color="#fdcb94"/></linearGradient><linearGradient id="hc98" x1="0" y1="0" x2="0" y2="1"><stop offset="0" stop-color="#ef6548"/><stop offset=".33" stop-color="#f57850"/><stop offset=".67" stop-color="#fc9d68"/><stop offset="1" stop-color="#fdcb94"/></linearGradient><linearGradient id="hc99" x1="0" y1="0" x2="0" y2="1"><stop offset="0" stop-color="#ef6648"/><stop offset=".33" stop-color="#f57850"/><stop offset=".67" stop-color="#fc9d68"/><stop offset="1" stop-color="#fdcb94"/></linearGradient><linearGradient id="hc100" x1="0" y1="0" x2="0" y2="1"><stop offset="0" stop-color="#eb5d42"/><stop offset=".33" stop-color="#f2704c"/><stop offset=".67" stop-color="#fc8e5a"/><stop offset="1" stop-color="#fdc18a"/></linearGradient><linearGradient id="hc101" x1="0" y1="0" x2="0" y2="1"><stop offset="0" stop-color="#ec5e43"/><stop offset=".33" stop-color="#f3714d"/><stop offset=".67" stop-color="#fc8f5b"/><stop offset="1" stop-color="#fdc28b"/></linearGradient><linearGradient id="hc102" x1="0" y1="0" x2="0" y2="1"><stop offset="0" stop-color="#f06749"/><stop offset=".33" stop-color="#f67a51"/><stop offset=".67" stop-color="#fca16b"/><stop offset="1" stop-color="#fdcd96"/></linearGradient><linearGradient id="hc103" x1="0" y1="0" x2="0" y2="1"><stop offset="0" stop-color="#ef6548"/><stop offset=".33" stop-color="#f57950"/><stop offset=".67" stop-color="#fca06a"/><stop offset="1" stop-color="#fdcd96"/></linearGradient><linearGradient id="hc104" x1="0" y1="0" x2="0" y2="1"><stop offset="0" stop-color="#f06849"/><stop offset=".33" stop-color="#f77f53"/><stop offset=".67" stop-color="#fdaf78"/><stop offset="1" stop-color="#fdd6a3"/></linearGradient><linearGradient id="hc105" x1="0" y1="0" x2="0" y2="1"><stop offset="0" stop-color="#ee6347"/><stop offset=".33" stop-color="#f67b51"/><stop offset=".67" stop-color="#fdad77"/><stop offset="1" stop-color="#fdd6a2"/></linearGradient><linearGradient id="hc106" x1="0" y1="0" x2="0" y2="1"><stop offset="0" stop-color="#ec5e42"/><stop offset=".33" stop-color="#f57750"/><stop offset=".67" stop-color="#fdab75"/><stop offset="1" stop-color="#fdd6a2"/></linearGradient><linearGradient id="hc107" x1="0" y1="0" x2="0" y2="1"><stop offset="0" stop-color="#e1452f"/><stop offset=".33" stop-color="#ec5f43"/><stop offset=".67" stop-color="#fb8957"/><stop offset="1" stop-color="#fdc18a"/></linearGradient><linearGradient id="hc108" x1="0" y1="0" x2="0" y2="1"><stop offset="0" stop-color="#de3f2b"/><stop offset=".33" stop-color="#ea5a3f"/><stop offset=".67" stop-color="#fa8757"/><stop offset="1" stop-color="#fdc18a"/></linearGradient><linearGradient id="hc109" x1="0" y1="0" x2="0" y2="1"><stop offset="0" stop-color="#dc3a27"/><stop offset=".33" stop-color="#e8553c"/><stop offset=".67" stop-color="#fa8656"/><stop offset="1" stop-color="#fdc18a"/></linearGradient><linearGradient id="hc110" x1="0" y1="0" x2="0" y2="1"><stop offset="0" stop-color="#d93523"/><stop offset=".33" stop-color="#e65139"/><stop offset=".67" stop-color="#f98455"/><stop offset="1" stop-color="#fdc18a"/></linearGradient><linearGradient id="hc111" x1="0" y1="0" x2="0" y2="1"><stop offset="0" stop-color="#db3926"/><stop offset=".33" stop-color="#ea5a40"/><stop offset=".67" stop-color="#fc925e"/><stop offset="1" stop-color="#fdcb95"/></linearGradient><linearGradient id="hc112" x1="0" y1="0" x2="0" y2="1"><stop offset="0" stop-color="#d93422"/><stop offset=".33" stop-color="#e8563c"/><stop offset=".67" stop-color="#fc905c"/><stop offset="1" stop-color="#fdcb95"/></linearGradient><linearGradient id="hc113" x1="0" y1="0" x2="0" y2="1"><stop offset="0" stop-color="#d93422"/><stop offset=".33" stop-color="#e8563c"/><stop offset=".67" stop-color="#fc8e5a"/><stop offset="1" stop-color="#fdca94"/></linearGradient><linearGradient id="hc114" x1="0" y1="0" x2="0" y2="1"><stop offset="0" stop-color="#dd3e2a"/><stop offset=".33" stop-color="#ed6044"/><stop offset=".67" stop-color="#fc935f"/><stop offset="1" stop-color="#fdcb95"/></linearGradient><linearGradient id="hc115" x1="0" y1="0" x2="0" y2="1"><stop offset="0" stop-color="#e24731"/><stop offset=".33" stop-color="#f06849"/><stop offset=".67" stop-color="#fc9863"/><stop offset="1" stop-color="#fdcc96"/></linearGradient><linearGradient id="hc116" x1="0" y1="0" x2="0" y2="1"><stop offset="0" stop-color="#e65239"/><stop offset=".33" stop-color="#f3704d"/><stop offset=".67" stop-color="#fc9e69"/><stop offset="1" stop-color="#fdce98"/></linearGradient><linearGradient id="hc117" x1="0" y1="0" x2="0" y2="1"><stop offset="0" stop-color="#e9583e"/><stop offset=".33" stop-color="#f4744f"/><stop offset=".67" stop-color="#fca06b"/><stop offset="1" stop-color="#fdce98"/></linearGradient><linearGradient id="hc118" x1="0" y1="0" x2="0" y2="1"><stop offset="0" stop-color="#ea5a3f"/><stop offset=".33" stop-color="#f4764f"/><stop offset=".67" stop-color="#fca16c"/><stop offset="1" stop-color="#fdcf99"/></linearGradient><linearGradient id="hc119" x1="0" y1="0" x2="0" y2="1"><stop offset="0" stop-color="#eb5c41"/><stop offset=".33" stop-color="#f57750"/><stop offset=".67" stop-color="#fca26d"/><stop offset="1" stop-color="#fdcf99"/></linearGradient><linearGradient id="hc120" x1="0" y1="0" x2="0" y2="1"><stop offset="0" stop-color="#ec5e43"/><stop offset=".33" stop-color="#f57850"/><stop offset=".67" stop-color="#fca36e"/><stop offset="1" stop-color="#fdcf99"/></linearGradient><linearGradient id="hc121" x1="0" y1="0" x2="0" y2="1"><stop offset="0" stop-color="#f06849"/><stop offset=".33" stop-color="#f88254"/><stop offset=".67" stop-color="#fdb37d"/><stop offset="1" stop-color="#fdd8a6"/></linearGradient><linearGradient id="hc122" x1="0" y1="0" x2="0" y2="1"><stop offset="0" stop-color="#f0694a"/><stop offset=".33" stop-color="#f98355"/><stop offset=".67" stop-color="#fdb47e"/><stop offset="1" stop-color="#fdd8a6"/></linearGradient><linearGradient id="hc123" x1="0" y1="0" x2="0" y2="1"><stop offset="0" stop-color="#f16b4b"/><stop offset=".33" stop-color="#f98455"/><stop offset=".67" stop-color="#fdb57e"/><stop offset="1" stop-color="#fdd8a7"/></linearGradient><linearGradient id="hc124" x1="0" y1="0" x2="0" y2="1"><stop offset="0" stop-color="#f16d4b"/><stop offset=".33" stop-color="#fa8656"/><stop offset=".67" stop-color="#fdb67f"/><stop offset="1" stop-color="#fdd8a7"/></linearGradient><linearGradient id="hc125" x1="0" y1="0" x2="0" y2="1"><stop offset="0" stop-color="#f16b4b"/><stop offset=".33" stop-color="#f98355"/><stop offset=".67" stop-color="#fdb17b"/><stop offset="1" stop-color="#fdd6a2"/></linearGradient><linearGradient id="hc126" x1="0" y1="0" x2="0" y2="1"><stop offset="0" stop-color="#ee6347"/><stop offset=".33" stop-color="#f67951"/><stop offset=".67" stop-color="#fca06b"/><stop offset="1" stop-color="#fdcc96"/></linearGradient><linearGradient id="hc127" x1="0" y1="0" x2="0" y2="1"><stop offset="0" stop-color="#ee6447"/><stop offset=".33" stop-color="#f67a51"/><stop offset=".67" stop-color="#fca06b"/><stop offset="1" stop-color="#fdcb95"/></linearGradient><linearGradient id="hc128" x1="0" y1="0" x2="0" y2="1"><stop offset="0" stop-color="#ef6447"/><stop offset=".33" stop-color="#f67b51"/><stop offset=".67" stop-color="#fca06b"/><stop offset="1" stop-color="#fdcb95"/></linearGradient><linearGradient id="hc129" x1="0" y1="0" x2="0" y2="1"><stop offset="0" stop-color="#ef6548"/><stop offset=".33" stop-color="#f67b52"/><stop offset=".67" stop-color="#fca16c"/><stop offset="1" stop-color="#fdcb95"/></linearGradient><linearGradient id="hc130" x1="0" y1="0" x2="0" y2="1"><stop offset="0" stop-color="#f3714d"/><stop offset=".33" stop-color="#fc8d59"/><stop offset=".67" stop-color="#fdbc85"/><stop offset="1" stop-color="#fddbac"/></linearGradient><linearGradient id="hc131" x1="0" y1="0" x2="0" y2="1"><stop offset="0" stop-color="#f3724d"/><stop offset=".33" stop-color="#fc8d59"/><stop offset=".67" stop-color="#fdbd86"/><stop offset="1" stop-color="#fddbac"/></linearGradient><linearGradient id="hc132" x1="0" y1="0" x2="0" y2="1"><stop offset="0" stop-color="#f3724e"/><stop offset=".33" stop-color="#fc8e5a"/><stop offset=".67" stop-color="#fdbd86"/><stop offset="1" stop-color="#fddbac"/></linearGradient><linearGradient id="hc133" x1="0" y1="0" x2="0" y2="1"><stop offset="0" stop-color="#f3734e"/><stop offset=".33" stop-color="#fc8f5b"/><stop offset=".67" stop-color="#fdbd86"/><stop offset="1" stop-color="#fddbac"/></linearGradient><linearGradient id="hc134" x1="0" y1="0" x2="0" y2="1"><stop offset="0" stop-color="#f3704d"/><stop offset=".33" stop-color="#fc8c59"/><stop offset=".67" stop-color="#fdb982"/><stop offset="1" stop-color="#fdd8a6"/></linearGradient><linearGradient id="hc135" x1="0" y1="0" x2="0" y2="1"><stop offset="0" stop-color="#f3714d"/><stop offset=".33" stop-color="#fc8d59"/><stop offset=".67" stop-color="#fdba83"/><stop offset="1" stop-color="#fdd8a7"/></linearGradient><linearGradient id="hc136" x1="0" y1="0" x2="0" y2="1"><stop offset="0" stop-color="#f0694a"/><stop offset=".33" stop-color="#f88254"/><stop offset=".67" stop-color="#fda671"/><stop offset="1" stop-color="#fdce97"/></linearGradient><linearGradient id="hc137" x1="0" y1="0" x2="0" y2="1"><stop offset="0" stop-color="#f0694a"/><stop offset=".33" stop-color="#f88254"/><stop offset=".67" stop-color="#fda771"/><stop offset="1" stop-color="#fdce98"/></linearGradient><linearGradient id="hc138" x1="0" y1="0" x2="0" y2="1"><stop offset="0" stop-color="#f16a4a"/><stop offset=".33" stop-color="#f98255"/><stop offset=".67" stop-color="#fda772"/><stop offset="1" stop-color="#fdce98"/></linearGradient><linearGradient id="hc139" x1="0" y1="0" x2="0" y2="1"><stop offset="0" stop-color="#f16a4a"/><stop offset=".33" stop-color="#f98355"/><stop offset=".67" stop-color="#fda872"/><stop offset="1" stop-color="#fdce98"/></linearGradient><linearGradient id="hc140" x1="0" y1="0" x2="0" y2="1"><stop offset="0" stop-color="#f16b4a"/><stop offset=".33" stop-color="#f98355"/><stop offset=".67" stop-color="#fda873"/><stop offset="1" stop-color="#fdcf98"/></linearGradient><linearGradient id="hc141" x1="0" y1="0" x2="0" y2="1"><stop offset="0" stop-color="#ef6447"/><stop offset=".33" stop-color="#f67b51"/><stop offset=".67" stop-color="#fc9964"/><stop offset="1" stop-color="#fdc68f"/></linearGradient><linearGradient id="hc142" x1="0" y1="0" x2="0" y2="1"><stop offset="0" stop-color="#ef6548"/><stop offset=".33" stop-color="#f67b51"/><stop offset=".67" stop-color="#fc9a65"/><stop offset="1" stop-color="#fdc68f"/></linearGradient><linearGradient id="hc143" x1="0" y1="0" x2="0" y2="1"><stop offset="0" stop-color="#f16a4a"/><stop offset=".33" stop-color="#f98355"/><stop offset=".67" stop-color="#fda771"/><stop offset="1" stop-color="#fdcd96"/></linearGradient><linearGradient id="hc144" x1="0" y1="0" x2="0" y2="1"><stop offset="0" stop-color="#f16b4b"/><stop offset=".33" stop-color="#f98355"/><stop offset=".67" stop-color="#fda771"/><stop offset="1" stop-color="#fdcd96"/></linearGradient><linearGradient id="hc145" x1="0" y1="0" x2="0" y2="1"><stop offset="0" stop-color="#f16b4b"/><stop offset=".33" stop-color="#f98455"/><stop offset=".67" stop-color="#fda872"/><stop offset="1" stop-color="#fdcd96"/></linearGradient><linearGradient id="hc146" x1="0" y1="0" x2="0" y2="1"><stop offset="0" stop-color="#f4754f"/><stop offset=".33" stop-color="#fc905c"/><stop offset=".67" stop-color="#fdbc85"/><stop offset="1" stop-color="#fdd7a5"/></linearGradient><linearGradient id="hc147" x1="0" y1="0" x2="0" y2="1"><stop offset="0" stop-color="#f4754f"/><stop offset=".33" stop-color="#fc915c"/><stop offset=".67" stop-color="#fdbc85"/><stop offset="1" stop-color="#fdd7a5"/></linearGradient><linearGradient id="hd0" x1="0" y1="0" x2="0" y2="1"><stop offset="0" stop-color="#feefd9"/><stop offset=".33" stop-color="#fff0da"/><stop offset=".67" stop-color="#fff0db"/><stop offset="1" stop-color="#fff0db"/></linearGradient><linearGradient id="hd1" x1="0" y1="0" x2="0" y2="1"><stop offset="0" stop-color="#feedd4"/><stop offset=".33" stop-color="#feefd9"/><stop offset=".67" stop-color="#fff0db"/><stop offset="1" stop-color="#fff0db"/></linearGradient><linearGradient id="hd2" x1="0" y1="0" x2="0" y2="1"><stop offset="0" stop-color="#fee9cb"/><stop offset=".33" stop-color="#feeed6"/><stop offset=".67" stop-color="#fff0da"/><stop offset="1" stop-color="#fff0db"/></linearGradient><linearGradient id="hd3" x1="0" y1="0" x2="0" y2="1"><stop offset="0" stop-color="#fee4c0"/><stop offset=".33" stop-color="#feedd3"/><stop offset=".67" stop-color="#feefda"/><stop offset="1" stop-color="#fff0db"/></linearGradient><linearGradient id="hd4" x1="0" y1="0" x2="0" y2="1"><stop offset="0" stop-color="#fdddb2"/><stop offset=".33" stop-color="#feebd0"/><stop offset=".67" stop-color="#fff0da"/><stop offset="1" stop-color="#fff0dc"/></linearGradient><linearGradient id="hd5" x1="0" y1="0" x2="0" y2="1"><stop offset="0" stop-color="#feedd5"/><stop offset=".33" stop-color="#feefd9"/><stop offset=".67" stop-color="#fff0db"/><stop offset="1" stop-color="#fff0db"/></linearGradient><linearGradient id="hd6" x1="0" y1="0" x2="0" y2="1"><stop offset="0" stop-color="#feeacd"/><stop offset=".33" stop-color="#feeed7"/><stop offset=".67" stop-color="#fff0da"/><stop offset="1" stop-color="#fff0db"/></linearGradient><linearGradient id="hd7" x1="0" y1="0" x2="0" y2="1"><stop offset="0" stop-color="#fee6c4"/><stop offset=".33" stop-color="#feedd5"/><stop offset=".67" stop-color="#feefda"/><stop offset="1" stop-color="#fff0db"/></linearGradient><linearGradient id="hd8" x1="0" y1="0" x2="0" y2="1"><stop offset="0" stop-color="#fee0b8"/><stop offset=".33" stop-color="#feedd3"/><stop offset=".67" stop-color="#fff0da"/><stop offset="1" stop-color="#fff0dc"/></linearGradient><linearGradient id="hd9" x1="0" y1="0" x2="0" y2="1"><stop offset="0" stop-color="#fee0b7"/><stop offset=".33" stop-color="#feedd3"/><stop offset=".67" stop-color="#fff0db"/><stop offset="1" stop-color="#fff1dd"/></linearGradient><linearGradient id="hd10" x1="0" y1="0" x2="0" y2="1"><stop offset="0" stop-color="#fee8c9"/><stop offset=".33" stop-color="#feeed6"/><stop offset=".67" stop-color="#fef0da"/><stop offset="1" stop-color="#fff0db"/></linearGradient><linearGradient id="hd11" x1="0" y1="0" x2="0" y2="1"><stop offset="0" stop-color="#feedd4"/><stop offset=".33" stop-color="#feefd9"/><stop offset=".67" stop-color="#fff0da"/><stop offset="1" stop-color="#fff0db"/></linearGradient><linearGradient id="hd12" x1="0" y1="0" x2="0" y2="1"><stop offset="0" stop-color="#feeed6"/><stop offset=".33" stop-color="#feefd9"/><stop offset=".67" stop-color="#fff0db"/><stop offset="1" stop-color="#fff0db"/></linearGradient><linearGradient id="hd13" x1="0" y1="0" x2="0" y2="1"><stop offset="0" stop-color="#feeace"/><stop offset=".33" stop-color="#feefd8"/><stop offset=".67" stop-color="#fff0da"/><stop offset="1" stop-color="#fff0db"/></linearGradient><linearGradient id="hd14" x1="0" y1="0" x2="0" y2="1"><stop offset="0" stop-color="#fee7c6"/><stop offset=".33" stop-color="#feeed7"/><stop offset=".67" stop-color="#feefda"/><stop offset="1" stop-color="#fff0db"/></linearGradient><linearGradient id="hd15" x1="0" y1="0" x2="0" y2="1"><stop offset="0" stop-color="#fee2bc"/><stop offset=".33" stop-color="#feeed6"/><stop offset=".67" stop-color="#feefda"/><stop offset="1" stop-color="#fff0db"/></linearGradient><linearGradient id="hd16" x1="0" y1="0" x2="0" y2="1"><stop offset="0" stop-color="#feeace"/><stop offset=".33" stop-color="#feecd1"/><stop offset=".67" stop-color="#feedd4"/><stop offset="1" stop-color="#feeed7"/></linearGradient><linearGradient id="hd17" x1="0" y1="0" x2="0" y2="1"><stop offset="0" stop-color="#fee1b9"/><stop offset=".33" stop-color="#fee5c2"/><stop offset=".67" stop-color="#fee9ca"/><stop offset="1" stop-color="#feebd0"/></linearGradient><linearGradient id="hd18" x1="0" y1="0" x2="0" y2="1"><stop offset="0" stop-color="#fdd6a3"/><stop offset=".33" stop-color="#fdddb1"/><stop offset=".67" stop-color="#fee3be"/><stop offset="1" stop-color="#fee9ca"/></linearGradient><linearGradient id="hd19" x1="0" y1="0" x2="0" y2="1"><stop offset="0" stop-color="#fdc58e"/><stop offset=".33" stop-color="#fdd09a"/><stop offset=".67" stop-color="#fddbac"/><stop offset="1" stop-color="#fee2bc"/></linearGradient><linearGradient id="hd20" x1="0" y1="0" x2="0" y2="1"><stop offset="0" stop-color="#fc8c59"/><stop offset=".33" stop-color="#fc9b66"/><stop offset=".67" stop-color="#fdab75"/><stop offset="1" stop-color="#fdbf89"/></linearGradient><linearGradient id="hd21" x1="0" y1="0" x2="0" y2="1"><stop offset="0" stop-color="#f4744e"/><stop offset=".33" stop-color="#f88154"/><stop offset=".67" stop-color="#fc925d"/><stop offset="1" stop-color="#fdad77"/></linearGradient><linearGradient id="hd22" x1="0" y1="0" x2="0" y2="1"><stop offset="0" stop-color="#f57850"/><stop offset=".33" stop-color="#fb8957"/><stop offset=".67" stop-color="#fda570"/><stop offset="1" stop-color="#fdc28b"/></linearGradient><linearGradient id="hd23" x1="0" y1="0" x2="0" y2="1"><stop offset="0" stop-color="#f16b4b"/><stop offset=".33" stop-color="#f77d52"/><stop offset=".67" stop-color="#fc9762"/><stop offset="1" stop-color="#fdbb84"/></linearGradient><linearGradient id="hd24" x1="0" y1="0" x2="0" y2="1"><stop offset="0" stop-color="#ee6347"/><stop offset=".33" stop-color="#f4754f"/><stop offset=".67" stop-color="#fc8e5a"/><stop offset="1" stop-color="#fdb47d"/></linearGradient><linearGradient id="hd25" x1="0" y1="0" x2="0" y2="1"><stop offset="0" stop-color="#ed6044"/><stop offset=".33" stop-color="#f3724e"/><stop offset=".67" stop-color="#fc8c58"/><stop offset="1" stop-color="#fdb17a"/></linearGradient><linearGradient id="hd26" x1="0" y1="0" x2="0" y2="1"><stop offset="0" stop-color="#e24832"/><stop offset=".33" stop-color="#ea5a40"/><stop offset=".67" stop-color="#f26f4c"/><stop offset="1" stop-color="#fc8c58"/></linearGradient><linearGradient id="hd27" x1="0" y1="0" x2="0" y2="1"><stop offset="0" stop-color="#e0452f"/><stop offset=".33" stop-color="#e9573d"/><stop offset=".67" stop-color="#f26d4c"/><stop offset="1" stop-color="#fb8957"/></linearGradient><linearGradient id="hd28" x1="0" y1="0" x2="0" y2="1"><stop offset="0" stop-color="#df412c"/><stop offset=".33" stop-color="#e7533a"/><stop offset=".67" stop-color="#f16b4b"/><stop offset="1" stop-color="#fa8656"/></linearGradient><linearGradient id="hd29" x1="0" y1="0" x2="0" y2="1"><stop offset="0" stop-color="#e54f37"/><stop offset=".33" stop-color="#ef6548"/><stop offset=".67" stop-color="#f88054"/><stop offset="1" stop-color="#fca16c"/></linearGradient><linearGradient id="hd30" x1="0" y1="0" x2="0" y2="1"><stop offset="0" stop-color="#e44d36"/><stop offset=".33" stop-color="#ee6447"/><stop offset=".67" stop-color="#f77f53"/><stop offset="1" stop-color="#fc9f6a"/></linearGradient><linearGradient id="hd31" x1="0" y1="0" x2="0" y2="1"><stop offset="0" stop-color="#e44d35"/><stop offset=".33" stop-color="#ee6347"/><stop offset=".67" stop-color="#f77f53"/><stop offset="1" stop-color="#fc9f69"/></linearGradient><linearGradient id="hd32" x1="0" y1="0" x2="0" y2="1"><stop offset="0" stop-color="#e44c35"/><stop offset=".33" stop-color="#ee6346"/><stop offset=".67" stop-color="#f77e53"/><stop offset="1" stop-color="#fc9e69"/></linearGradient><linearGradient id="hd33" x1="0" y1="0" x2="0" y2="1"><stop offset="0" stop-color="#e44c34"/><stop offset=".33" stop-color="#ee6246"/><stop offset=".67" stop-color="#f77e53"/><stop offset="1" stop-color="#fc9e69"/></linearGradient><linearGradient id="hd34" x1="0" y1="0" x2="0" y2="1"><stop offset="0" stop-color="#df422d"/><stop offset=".33" stop-color="#e8563d"/><stop offset=".67" stop-color="#f3724d"/><stop offset="1" stop-color="#fc8d59"/></linearGradient><linearGradient id="hd35" x1="0" y1="0" x2="0" y2="1"><stop offset="0" stop-color="#df422d"/><stop offset=".33" stop-color="#e8563c"/><stop offset=".67" stop-color="#f3714d"/><stop offset="1" stop-color="#fc8d59"/></linearGradient><linearGradient id="hd36" x1="0" y1="0" x2="0" y2="1"><stop offset="0" stop-color="#df412c"/><stop offset=".33" stop-color="#e8553c"/><stop offset=".67" stop-color="#f3714d"/><stop offset="1" stop-color="#fc8d59"/></linearGradient><linearGradient id="hd37" x1="0" y1="0" x2="0" y2="1"><stop offset="0" stop-color="#df412c"/><stop offset=".33" stop-color="#e8553b"/><stop offset=".67" stop-color="#f3704d"/><stop offset="1" stop-color="#fc8c59"/></linearGradient><linearGradient id="hd38" x1="0" y1="0" x2="0" y2="1"><stop offset="0" stop-color="#df422d"/><stop offset=".33" stop-color="#e8573d"/><stop offset=".67" stop-color="#f3724e"/><stop offset="1" stop-color="#fc8e5a"/></linearGradient><linearGradient id="hd39" x1="0" y1="0" x2="0" y2="1"><stop offset="0" stop-color="#e0432e"/><stop offset=".33" stop-color="#e9573d"/><stop offset=".67" stop-color="#f3734e"/><stop offset="1" stop-color="#fc8f5b"/></linearGradient><linearGradient id="hd40" x1="0" y1="0" x2="0" y2="1"><stop offset="0" stop-color="#e34b34"/><stop offset=".33" stop-color="#ed6044"/><stop offset=".67" stop-color="#f67c52"/><stop offset="1" stop-color="#fc9b66"/></linearGradient><linearGradient id="hd41" x1="0" y1="0" x2="0" y2="1"><stop offset="0" stop-color="#e34b34"/><stop offset=".33" stop-color="#ed6145"/><stop offset=".67" stop-color="#f77d52"/><stop offset="1" stop-color="#fc9c67"/></linearGradient><linearGradient id="hd42" x1="0" y1="0" x2="0" y2="1"><stop offset="0" stop-color="#e44c35"/><stop offset=".33" stop-color="#ee6246"/><stop offset=".67" stop-color="#f77d52"/><stop offset="1" stop-color="#fc9c67"/></linearGradient><linearGradient id="hd43" x1="0" y1="0" x2="0" y2="1"><stop offset="0" stop-color="#e44d35"/><stop offset=".33" stop-color="#ee6346"/><stop offset=".67" stop-color="#f77e53"/><stop offset="1" stop-color="#fc9d68"/></linearGradient><linearGradient id="hd44" x1="0" y1="0" x2="0" y2="1"><stop offset="0" stop-color="#dd3d29"/><stop offset=".33" stop-color="#e54e36"/><stop offset=".67" stop-color="#f06849"/><stop offset="1" stop-color="#f88254"/></linearGradient><linearGradient id="hd45" x1="0" y1="0" x2="0" y2="1"><stop offset="0" stop-color="#dd3e2a"/><stop offset=".33" stop-color="#e54f37"/><stop offset=".67" stop-color="#f06849"/><stop offset="1" stop-color="#f98255"/></linearGradient><linearGradient id="hd46" x1="0" y1="0" x2="0" y2="1"><stop offset="0" stop-color="#de3e2a"/><stop offset=".33" stop-color="#e55038"/><stop offset=".67" stop-color="#f0694a"/><stop offset="1" stop-color="#f98355"/></linearGradient><linearGradient id="hd47" x1="0" y1="0" x2="0" y2="1"><stop offset="0" stop-color="#dd3d29"/><stop offset=".33" stop-color="#e54e36"/><stop offset=".67" stop-color="#f06749"/><stop offset="1" stop-color="#f88154"/></linearGradient><linearGradient id="hd48" x1="0" y1="0" x2="0" y2="1"><stop offset="0" stop-color="#dd3c28"/><stop offset=".33" stop-color="#e44d36"/><stop offset=".67" stop-color="#f06749"/><stop offset="1" stop-color="#f88054"/></linearGradient><linearGradient id="hd49" x1="0" y1="0" x2="0" y2="1"><stop offset="0" stop-color="#dc3b28"/><stop offset=".33" stop-color="#e44d35"/><stop offset=".67" stop-color="#ef6648"/><stop offset="1" stop-color="#f88053"/></linearGradient><linearGradient id="hd50" x1="0" y1="0" x2="0" y2="1"><stop offset="0" stop-color="#dc3b27"/><stop offset=".33" stop-color="#e44c34"/><stop offset=".67" stop-color="#ef6548"/><stop offset="1" stop-color="#f77f53"/></linearGradient><linearGradient id="hd51" x1="0" y1="0" x2="0" y2="1"><stop offset="0" stop-color="#db3a26"/><stop offset=".33" stop-color="#e34b34"/><stop offset=".67" stop-color="#ef6548"/><stop offset="1" stop-color="#f77e53"/></linearGradient><linearGradient id="hd52" x1="0" y1="0" x2="0" y2="1"><stop offset="0" stop-color="#e24731"/><stop offset=".33" stop-color="#eb5c41"/><stop offset=".67" stop-color="#f57750"/><stop offset="1" stop-color="#fc9560"/></linearGradient><linearGradient id="hd53" x1="0" y1="0" x2="0" y2="1"><stop offset="0" stop-color="#e14730"/><stop offset=".33" stop-color="#eb5b41"/><stop offset=".67" stop-color="#f57750"/><stop offset="1" stop-color="#fc9460"/></linearGradient><linearGradient id="hd54" x1="0" y1="0" x2="0" y2="1"><stop offset="0" stop-color="#e14630"/><stop offset=".33" stop-color="#ea5a40"/><stop offset=".67" stop-color="#f5764f"/><stop offset="1" stop-color="#fc935f"/></linearGradient><linearGradient id="hd55" x1="0" y1="0" x2="0" y2="1"><stop offset="0" stop-color="#e0452f"/><stop offset=".33" stop-color="#ea5a3f"/><stop offset=".67" stop-color="#f4754f"/><stop offset="1" stop-color="#fc935e"/></linearGradient><linearGradient id="hd56" x1="0" y1="0" x2="0" y2="1"><stop offset="0" stop-color="#dc3c28"/><stop offset=".33" stop-color="#e54f37"/><stop offset=".67" stop-color="#f16a4a"/><stop offset="1" stop-color="#f98556"/></linearGradient><linearGradient id="hd57" x1="0" y1="0" x2="0" y2="1"><stop offset="0" stop-color="#dc3c28"/><stop offset=".33" stop-color="#e54e37"/><stop offset=".67" stop-color="#f16a4a"/><stop offset="1" stop-color="#f98556"/></linearGradient><linearGradient id="hd58" x1="0" y1="0" x2="0" y2="1"><stop offset="0" stop-color="#e8563c"/><stop offset=".33" stop-color="#f26d4b"/><stop offset=".67" stop-color="#fc8d59"/><stop offset="1" stop-color="#fdb17b"/></linearGradient><linearGradient id="hd59" x1="0" y1="0" x2="0" y2="1"><stop offset="0" stop-color="#e8573d"/><stop offset=".33" stop-color="#f26d4b"/><stop offset=".67" stop-color="#fc8d59"/><stop offset="1" stop-color="#fdb27b"/></linearGradient><linearGradient id="hd60" x1="0" y1="0" x2="0" y2="1"><stop offset="0" stop-color="#e9573d"/><stop offset=".33" stop-color="#f26d4c"/><stop offset=".67" stop-color="#fc8d59"/><stop offset="1" stop-color="#fdb27c"/></linearGradient><linearGradient id="hd61" x1="0" y1="0" x2="0" y2="1"><stop offset="0" stop-color="#e9573d"/><stop offset=".33" stop-color="#f26e4c"/><stop offset=".67" stop-color="#fc8e5a"/><stop offset="1" stop-color="#fdb27c"/></linearGradient><linearGradient id="hd62" x1="0" y1="0" x2="0" y2="1"><stop offset="0" stop-color="#e8563d"/><stop offset=".33" stop-color="#f26d4b"/><stop offset=".67" stop-color="#fc8c59"/><stop offset="1" stop-color="#fdb07a"/></linearGradient><linearGradient id="hd63" x1="0" y1="0" x2="0" y2="1"><stop offset="0" stop-color="#e9573d"/><stop offset=".33" stop-color="#f26d4b"/><stop offset=".67" stop-color="#fc8c59"/><stop offset="1" stop-color="#fdb17a"/></linearGradient><linearGradient id="hd64" x1="0" y1="0" x2="0" y2="1"><stop offset="0" stop-color="#e9573d"/><stop offset=".33" stop-color="#f26d4c"/><stop offset=".67" stop-color="#fc8d59"/><stop offset="1" stop-color="#fdb17b"/></linearGradient><linearGradient id="hd65" x1="0" y1="0" x2="0" y2="1"><stop offset="0" stop-color="#e34a33"/><stop offset=".33" stop-color="#ec5f44"/><stop offset=".67" stop-color="#f67b51"/><stop offset="1" stop-color="#fc9965"/></linearGradient><linearGradient id="hd66" x1="0" y1="0" x2="0" y2="1"><stop offset="0" stop-color="#e34a33"/><stop offset=".33" stop-color="#ed6044"/><stop offset=".67" stop-color="#f67b51"/><stop offset="1" stop-color="#fc9a65"/></linearGradient><linearGradient id="hd67" x1="0" y1="0" x2="0" y2="1"><stop offset="0" stop-color="#e34b34"/><stop offset=".33" stop-color="#ed6045"/><stop offset=".67" stop-color="#f67c52"/><stop offset="1" stop-color="#fc9a66"/></linearGradient><linearGradient id="hd68" x1="0" y1="0" x2="0" y2="1"><stop offset="0" stop-color="#e44c35"/><stop offset=".33" stop-color="#ed6145"/><stop offset=".67" stop-color="#f77c52"/><stop offset="1" stop-color="#fc9b66"/></linearGradient><linearGradient id="hd69" x1="0" y1="0" x2="0" y2="1"><stop offset="0" stop-color="#e24831"/><stop offset=".33" stop-color="#eb5c41"/><stop offset=".67" stop-color="#f5774f"/><stop offset="1" stop-color="#fc935f"/></linearGradient><linearGradient id="hd70" x1="0" y1="0" x2="0" y2="1"><stop offset="0" stop-color="#e24932"/><stop offset=".33" stop-color="#eb5d42"/><stop offset=".67" stop-color="#f57750"/><stop offset="1" stop-color="#fc9460"/></linearGradient><linearGradient id="hd71" x1="0" y1="0" x2="0" y2="1"><stop offset="0" stop-color="#e34a33"/><stop offset=".33" stop-color="#ec5e42"/><stop offset=".67" stop-color="#f57850"/><stop offset="1" stop-color="#fc9560"/></linearGradient><linearGradient id="hd72" x1="0" y1="0" x2="0" y2="1"><stop offset="0" stop-color="#e34a33"/><stop offset=".33" stop-color="#ec5f43"/><stop offset=".67" stop-color="#f57850"/><stop offset="1" stop-color="#fc9661"/></linearGradient><linearGradient id="hd73" x1="0" y1="0" x2="0" y2="1"><stop offset="0" stop-color="#e14731"/><stop offset=".33" stop-color="#ea5a40"/><stop offset=".67" stop-color="#f4734e"/><stop offset="1" stop-color="#fc8f5b"/></linearGradient><linearGradient id="hd74" x1="0" y1="0" x2="0" y2="1"><stop offset="0" stop-color="#e24831"/><stop offset=".33" stop-color="#ea5b40"/><stop offset=".67" stop-color="#f4744e"/><stop offset="1" stop-color="#fc905b"/></linearGradient><linearGradient id="hd75" x1="0" y1="0" x2="0" y2="1"><stop offset="0" stop-color="#e24932"/><stop offset=".33" stop-color="#eb5c41"/><stop offset=".67" stop-color="#f4754f"/><stop offset="1" stop-color="#fc905c"/></linearGradient><linearGradient id="hd76" x1="0" y1="0" x2="0" y2="1"><stop offset="0" stop-color="#e34933"/><stop offset=".33" stop-color="#eb5d42"/><stop offset=".67" stop-color="#f4754f"/><stop offset="1" stop-color="#fc915d"/></linearGradient><linearGradient id="hd77" x1="0" y1="0" x2="0" y2="1"><stop offset="0" stop-color="#e54f37"/><stop offset=".33" stop-color="#ee6347"/><stop offset=".67" stop-color="#f67c52"/><stop offset="1" stop-color="#fc9a65"/></linearGradient><linearGradient id="hd78" x1="0" y1="0" x2="0" y2="1"><stop offset="0" stop-color="#e54e36"/><stop offset=".33" stop-color="#ee6346"/><stop offset=".67" stop-color="#f67c52"/><stop offset="1" stop-color="#fc9a65"/></linearGradient><linearGradient id="hd79" x1="0" y1="0" x2="0" y2="1"><stop offset="0" stop-color="#df412c"/><stop offset=".33" stop-color="#e7523a"/><stop offset=".67" stop-color="#f16b4a"/><stop offset="1" stop-color="#f98455"/></linearGradient><linearGradient id="hd80" x1="0" y1="0" x2="0" y2="1"><stop offset="0" stop-color="#df412c"/><stop offset=".33" stop-color="#e65239"/><stop offset=".67" stop-color="#f16a4a"/><stop offset="1" stop-color="#f98455"/></linearGradient><linearGradient id="hd81" x1="0" y1="0" x2="0" y2="1"><stop offset="0" stop-color="#e44c34"/><stop offset=".33" stop-color="#ed6044"/><stop offset=".67" stop-color="#f67951"/><stop offset="1" stop-color="#fc9662"/></linearGradient><linearGradient id="hd82" x1="0" y1="0" x2="0" y2="1"><stop offset="0" stop-color="#e34b34"/><stop offset=".33" stop-color="#ec5f44"/><stop offset=".67" stop-color="#f57950"/><stop offset="1" stop-color="#fc9661"/></linearGradient><linearGradient id="hd83" x1="0" y1="0" x2="0" y2="1"><stop offset="0" stop-color="#e34b34"/><stop offset=".33" stop-color="#ec5f43"/><stop offset=".67" stop-color="#f57850"/><stop offset="1" stop-color="#fc9561"/></linearGradient><linearGradient id="hd84" x1="0" y1="0" x2="0" y2="1"><stop offset="0" stop-color="#e34a33"/><stop offset=".33" stop-color="#ec5f43"/><stop offset=".67" stop-color="#f57850"/><stop offset="1" stop-color="#fc9561"/></linearGradient><linearGradient id="hd85" x1="0" y1="0" x2="0" y2="1"><stop offset="0" stop-color="#e34b34"/><stop offset=".33" stop-color="#ed6044"/><stop offset=".67" stop-color="#f67951"/><stop offset="1" stop-color="#fc9762"/></linearGradient><linearGradient id="hd86" x1="0" y1="0" x2="0" y2="1"><stop offset="0" stop-color="#e34b34"/><stop offset=".33" stop-color="#ec5f43"/><stop offset=".67" stop-color="#f67951"/><stop offset="1" stop-color="#fc9662"/></linearGradient><linearGradient id="hd87" x1="0" y1="0" x2="0" y2="1"><stop offset="0" stop-color="#e34a33"/><stop offset=".33" stop-color="#ec5f43"/><stop offset=".67" stop-color="#f57950"/><stop offset="1" stop-color="#fc9661"/></linearGradient><linearGradient id="hd88" x1="0" y1="0" x2="0" y2="1"><stop offset="0" stop-color="#e24933"/><stop offset=".33" stop-color="#ec5e42"/><stop offset=".67" stop-color="#f57850"/><stop offset="1" stop-color="#fc9561"/></linearGradient><linearGradient id="hd89" x1="0" y1="0" x2="0" y2="1"><stop offset="0" stop-color="#e8573d"/><stop offset=".33" stop-color="#f16c4b"/><stop offset=".67" stop-color="#fb8a58"/><stop offset="1" stop-color="#fdad77"/></linearGradient><linearGradient id="hd90" x1="0" y1="0" x2="0" y2="1"><stop offset="0" stop-color="#e8563c"/><stop offset=".33" stop-color="#f16b4b"/><stop offset=".67" stop-color="#fb8957"/><stop offset="1" stop-color="#fdac76"/></linearGradient><linearGradient id="hd91" x1="0" y1="0" x2="0" y2="1"><stop offset="0" stop-color="#e8553b"/><stop offset=".33" stop-color="#f16b4a"/><stop offset=".67" stop-color="#fb8957"/><stop offset="1" stop-color="#fdab75"/></linearGradient><linearGradient id="hd92" x1="0" y1="0" x2="0" y2="1"><stop offset="0" stop-color="#e7543b"/><stop offset=".33" stop-color="#f16a4a"/><stop offset=".67" stop-color="#fa8857"/><stop offset="1" stop-color="#fdab75"/></linearGradient><linearGradient id="hd93" x1="0" y1="0" x2="0" y2="1"><stop offset="0" stop-color="#e54f37"/><stop offset=".33" stop-color="#ef6548"/><stop offset=".67" stop-color="#f88154"/><stop offset="1" stop-color="#fca26d"/></linearGradient><linearGradient id="hd94" x1="0" y1="0" x2="0" y2="1"><stop offset="0" stop-color="#e44e36"/><stop offset=".33" stop-color="#ef6448"/><stop offset=".67" stop-color="#f88154"/><stop offset="1" stop-color="#fca16c"/></linearGradient><linearGradient id="hd95" x1="0" y1="0" x2="0" y2="1"><stop offset="0" stop-color="#e44d35"/><stop offset=".33" stop-color="#ee6447"/><stop offset=".67" stop-color="#f88053"/><stop offset="1" stop-color="#fca06b"/></linearGradient><linearGradient id="hd96" x1="0" y1="0" x2="0" y2="1"><stop offset="0" stop-color="#dc3a27"/><stop offset=".33" stop-color="#e44c35"/><stop offset=".67" stop-color="#f06849"/><stop offset="1" stop-color="#f88254"/></linearGradient><linearGradient id="hd97" x1="0" y1="0" x2="0" y2="1"><stop offset="0" stop-color="#db3a27"/><stop offset=".33" stop-color="#e44c35"/><stop offset=".67" stop-color="#f06749"/><stop offset="1" stop-color="#f88254"/></linearGradient><linearGradient id="hd98" x1="0" y1="0" x2="0" y2="1"><stop offset="0" stop-color="#dc3a27"/><stop offset=".33" stop-color="#e44c35"/><stop offset=".67" stop-color="#f06849"/><stop offset="1" stop-color="#f98254"/></linearGradient><linearGradient id="hd99" x1="0" y1="0" x2="0" y2="1"><stop offset="0" stop-color="#dc3b27"/><stop offset=".33" stop-color="#e44d35"/><stop offset=".67" stop-color="#f06849"/><stop offset="1" stop-color="#f98355"/></linearGradient><linearGradient id="hd100" x1="0" y1="0" x2="0" y2="1"><stop offset="0" stop-color="#e44d36"/><stop offset=".33" stop-color="#ef6447"/><stop offset=".67" stop-color="#f88154"/><stop offset="1" stop-color="#fca16c"/></linearGradient><linearGradient id="hd101" x1="0" y1="0" x2="0" y2="1"><stop offset="0" stop-color="#e54e36"/><stop offset=".33" stop-color="#ef6548"/><stop offset=".67" stop-color="#f88154"/><stop offset="1" stop-color="#fca26c"/></linearGradient><linearGradient id="hd102" x1="0" y1="0" x2="0" y2="1"><stop offset="0" stop-color="#e54e36"/><stop offset=".33" stop-color="#ef6548"/><stop offset=".67" stop-color="#f88154"/><stop offset="1" stop-color="#fca26d"/></linearGradient><linearGradient id="hd103" x1="0" y1="0" x2="0" y2="1"><stop offset="0" stop-color="#e54f37"/><stop offset=".33" stop-color="#ef6548"/><stop offset=".67" stop-color="#f88254"/><stop offset="1" stop-color="#fca36d"/></linearGradient><linearGradient id="hd104" x1="0" y1="0" x2="0" y2="1"><stop offset="0" stop-color="#e8563c"/><stop offset=".33" stop-color="#f16c4b"/><stop offset=".67" stop-color="#fb8b58"/><stop offset="1" stop-color="#fdae78"/></linearGradient><linearGradient id="hd105" x1="0" y1="0" x2="0" y2="1"><stop offset="0" stop-color="#e8563d"/><stop offset=".33" stop-color="#f16c4b"/><stop offset=".67" stop-color="#fb8b58"/><stop offset="1" stop-color="#fdaf79"/></linearGradient><linearGradient id="hd106" x1="0" y1="0" x2="0" y2="1"><stop offset="0" stop-color="#e8573d"/><stop offset=".33" stop-color="#f16d4b"/><stop offset=".67" stop-color="#fb8b58"/><stop offset="1" stop-color="#fdaf79"/></linearGradient><linearGradient id="hd107" x1="0" y1="0" x2="0" y2="1"><stop offset="0" stop-color="#db3825"/><stop offset=".33" stop-color="#e34a33"/><stop offset=".67" stop-color="#ee6447"/><stop offset="1" stop-color="#f77e52"/></linearGradient><linearGradient id="hd108" x1="0" y1="0" x2="0" y2="1"><stop offset="0" stop-color="#db3825"/><stop offset=".33" stop-color="#e24932"/><stop offset=".67" stop-color="#ee6347"/><stop offset="1" stop-color="#f77d52"/></linearGradient><linearGradient id="hd109" x1="0" y1="0" x2="0" y2="1"><stop offset="0" stop-color="#e44d36"/><stop offset=".33" stop-color="#ef6447"/><stop offset=".67" stop-color="#f88054"/><stop offset="1" stop-color="#fca16c"/></linearGradient><linearGradient id="hd110" x1="0" y1="0" x2="0" y2="1"><stop offset="0" stop-color="#df412c"/><stop offset=".33" stop-color="#e8553c"/><stop offset=".67" stop-color="#f3714d"/><stop offset="1" stop-color="#fc8c59"/></linearGradient><linearGradient id="hd111" x1="0" y1="0" x2="0" y2="1"><stop offset="0" stop-color="#de402c"/><stop offset=".33" stop-color="#e7543b"/><stop offset=".67" stop-color="#f3704d"/><stop offset="1" stop-color="#fc8c58"/></linearGradient><linearGradient id="hd112" x1="0" y1="0" x2="0" y2="1"><stop offset="0" stop-color="#e54e36"/><stop offset=".33" stop-color="#ef6648"/><stop offset=".67" stop-color="#f98355"/><stop offset="1" stop-color="#fda46f"/></linearGradient><linearGradient id="hd113" x1="0" y1="0" x2="0" y2="1"><stop offset="0" stop-color="#e54f37"/><stop offset=".33" stop-color="#f06749"/><stop offset=".67" stop-color="#f98455"/><stop offset="1" stop-color="#fda570"/></linearGradient><linearGradient id="hd114" x1="0" y1="0" x2="0" y2="1"><stop offset="0" stop-color="#e54f37"/><stop offset=".33" stop-color="#f06749"/><stop offset=".67" stop-color="#f98455"/><stop offset="1" stop-color="#fda670"/></linearGradient><linearGradient id="hd115" x1="0" y1="0" x2="0" y2="1"><stop offset="0" stop-color="#e55038"/><stop offset=".33" stop-color="#f06849"/><stop offset=".67" stop-color="#f98556"/><stop offset="1" stop-color="#fda771"/></linearGradient><linearGradient id="hd116" x1="0" y1="0" x2="0" y2="1"><stop offset="0" stop-color="#df422d"/><stop offset=".33" stop-color="#e9583e"/><stop offset=".67" stop-color="#f3724e"/><stop offset="1" stop-color="#fc8e5a"/></linearGradient><linearGradient id="hd117" x1="0" y1="0" x2="0" y2="1"><stop offset="0" stop-color="#df422d"/><stop offset=".33" stop-color="#e9593e"/><stop offset=".67" stop-color="#f4734e"/><stop offset="1" stop-color="#fc8f5b"/></linearGradient><linearGradient id="hd118" x1="0" y1="0" x2="0" y2="1"><stop offset="0" stop-color="#df432d"/><stop offset=".33" stop-color="#ea5a3f"/><stop offset=".67" stop-color="#f4744e"/><stop offset="1" stop-color="#fc905c"/></linearGradient><linearGradient id="hd119" x1="0" y1="0" x2="0" y2="1"><stop offset="0" stop-color="#e9573d"/><stop offset=".33" stop-color="#f2704d"/><stop offset=".67" stop-color="#fc8f5b"/><stop offset="1" stop-color="#fdb37c"/></linearGradient><linearGradient id="hd120" x1="0" y1="0" x2="0" y2="1"><stop offset="0" stop-color="#e9573d"/><stop offset=".33" stop-color="#f3704d"/><stop offset=".67" stop-color="#fc8f5b"/><stop offset="1" stop-color="#fdb37d"/></linearGradient><linearGradient id="hd121" x1="0" y1="0" x2="0" y2="1"><stop offset="0" stop-color="#dc3b28"/><stop offset=".33" stop-color="#e65138"/><stop offset=".67" stop-color="#f16a4a"/><stop offset="1" stop-color="#f98455"/></linearGradient><linearGradient id="hd122" x1="0" y1="0" x2="0" y2="1"><stop offset="0" stop-color="#dc3c28"/><stop offset=".33" stop-color="#e65239"/><stop offset=".67" stop-color="#f16a4a"/><stop offset="1" stop-color="#f98455"/></linearGradient><linearGradient id="hd123" x1="0" y1="0" x2="0" y2="1"><stop offset="0" stop-color="#dd3d29"/><stop offset=".33" stop-color="#e7523a"/><stop offset=".67" stop-color="#f16b4a"/><stop offset="1" stop-color="#f98555"/></linearGradient><linearGradient id="hd124" x1="0" y1="0" x2="0" y2="1"><stop offset="0" stop-color="#dd3d29"/><stop offset=".33" stop-color="#e7533a"/><stop offset=".67" stop-color="#f16b4b"/><stop offset="1" stop-color="#f98556"/></linearGradient><linearGradient id="hd125" x1="0" y1="0" x2="0" y2="1"><stop offset="0" stop-color="#e54f37"/><stop offset=".33" stop-color="#f06849"/><stop offset=".67" stop-color="#f98355"/><stop offset="1" stop-color="#fca36d"/></linearGradient></defs>
<line x1="48.5" y1="18.5" x2="48.5" y2="71.6" stroke="#333" stroke-width="0.9" />
<line x1="48" y1="71.1" x2="258.8" y2="71.1" stroke="#333" stroke-width="0.9" />
<line x1="48.5" y1="71.1" x2="48.5" y2="73.9" stroke="#333" stroke-width="0.8" />
<line x1="82.1" y1="71.1" x2="82.1" y2="73.9" stroke="#333" stroke-width="0.8" />
<line x1="115.7" y1="71.1" x2="115.7" y2="73.9" stroke="#333" stroke-width="0.8" />
<line x1="149.2" y1="71.1" x2="149.2" y2="73.9" stroke="#333" stroke-width="0.8" />
<line x1="182.8" y1="71.1" x2="182.8" y2="73.9" stroke="#333" stroke-width="0.8" />
<line x1="216.4" y1="71.1" x2="216.4" y2="73.9" stroke="#333" stroke-width="0.8" />
<line x1="250" y1="71.1" x2="250" y2="73.9" stroke="#333" stroke-width="0.8" />
<line x1="45.5" y1="69.4" x2="48.5" y2="69.4" stroke="#333" stroke-width="0.8" />
<text x="43.3" y="72.4" font-size="8.8" text-anchor="end" fill="#222" >0</text>
<line x1="45.5" y1="50.9" x2="48.5" y2="50.9" stroke="#333" stroke-width="0.8" />
<text x="43.3" y="53.9" font-size="8.8" text-anchor="end" fill="#222" >0.5</text>
<line x1="45.5" y1="32.4" x2="48.5" y2="32.4" stroke="#333" stroke-width="0.8" />
<text x="43.3" y="35.4" font-size="8.8" text-anchor="end" fill="#222" >1.0</text>
<line x1="48.5" y1="85.3" x2="48.5" y2="140" stroke="#333" stroke-width="0.9" />
<line x1="48" y1="139.5" x2="258.8" y2="139.5" stroke="#333" stroke-width="0.9" />
<line x1="48.5" y1="139.5" x2="48.5" y2="142.3" stroke="#333" stroke-width="0.8" />
<line x1="82.1" y1="139.5" x2="82.1" y2="142.3" stroke="#333" stroke-width="0.8" />
<line x1="115.7" y1="139.5" x2="115.7" y2="142.3" stroke="#333" stroke-width="0.8" />
<line x1="149.2" y1="139.5" x2="149.2" y2="142.3" stroke="#333" stroke-width="0.8" />
<line x1="182.8" y1="139.5" x2="182.8" y2="142.3" stroke="#333" stroke-width="0.8" />
<line x1="216.4" y1="139.5" x2="216.4" y2="142.3" stroke="#333" stroke-width="0.8" />
<line x1="250" y1="139.5" x2="250" y2="142.3" stroke="#333" stroke-width="0.8" />
<line x1="45.5" y1="136.5" x2="48.5" y2="136.5" stroke="#333" stroke-width="0.8" />
<text x="43.3" y="139.5" font-size="8.8" text-anchor="end" fill="#222" >0</text>
<line x1="45.5" y1="107.4" x2="48.5" y2="107.4" stroke="#333" stroke-width="0.8" />
<text x="43.3" y="110.4" font-size="8.8" text-anchor="end" fill="#222" >5</text>
<line x1="48.5" y1="153.3" x2="48.5" y2="207" stroke="#333" stroke-width="0.9" />
<line x1="48" y1="206.5" x2="258.8" y2="206.5" stroke="#333" stroke-width="0.9" />
<line x1="48.5" y1="206.5" x2="48.5" y2="209.3" stroke="#333" stroke-width="0.8" />
<line x1="82.1" y1="206.5" x2="82.1" y2="209.3" stroke="#333" stroke-width="0.8" />
<line x1="115.7" y1="206.5" x2="115.7" y2="209.3" stroke="#333" stroke-width="0.8" />
<line x1="149.2" y1="206.5" x2="149.2" y2="209.3" stroke="#333" stroke-width="0.8" />
<line x1="182.8" y1="206.5" x2="182.8" y2="209.3" stroke="#333" stroke-width="0.8" />
<line x1="216.4" y1="206.5" x2="216.4" y2="209.3" stroke="#333" stroke-width="0.8" />
<line x1="250" y1="206.5" x2="250" y2="209.3" stroke="#333" stroke-width="0.8" />
<line x1="45.5" y1="186.6" x2="48.5" y2="186.6" stroke="#333" stroke-width="0.8" />
<text x="43.3" y="189.6" font-size="8.8" text-anchor="end" fill="#222" >0.4</text>
<line x1="45.5" y1="159.8" x2="48.5" y2="159.8" stroke="#333" stroke-width="0.8" />
<text x="43.3" y="162.8" font-size="8.8" text-anchor="end" fill="#222" >0.6</text>
<line x1="48.5" y1="220.2" x2="48.5" y2="274.5" stroke="#333" stroke-width="0.9" />
<line x1="48" y1="274" x2="258.8" y2="274" stroke="#333" stroke-width="0.9" />
<line x1="48.5" y1="274" x2="48.5" y2="276.8" stroke="#333" stroke-width="0.8" />
<line x1="82.1" y1="274" x2="82.1" y2="276.8" stroke="#333" stroke-width="0.8" />
<line x1="115.7" y1="274" x2="115.7" y2="276.8" stroke="#333" stroke-width="0.8" />
<line x1="149.2" y1="274" x2="149.2" y2="276.8" stroke="#333" stroke-width="0.8" />
<line x1="182.8" y1="274" x2="182.8" y2="276.8" stroke="#333" stroke-width="0.8" />
<line x1="216.4" y1="274" x2="216.4" y2="276.8" stroke="#333" stroke-width="0.8" />
<line x1="250" y1="274" x2="250" y2="276.8" stroke="#333" stroke-width="0.8" />
<line x1="45.5" y1="269.3" x2="48.5" y2="269.3" stroke="#333" stroke-width="0.8" />
<text x="43.3" y="272.3" font-size="8.8" text-anchor="end" fill="#222" >0</text>
<line x1="45.5" y1="247.1" x2="48.5" y2="247.1" stroke="#333" stroke-width="0.8" />
<text x="43.3" y="250.1" font-size="8.8" text-anchor="end" fill="#222" >0.5</text>
<line x1="45.5" y1="224.9" x2="48.5" y2="224.9" stroke="#333" stroke-width="0.8" />
<text x="43.3" y="227.9" font-size="8.8" text-anchor="end" fill="#222" >1.0</text>
<line x1="48.5" y1="287.6" x2="48.5" y2="341.2" stroke="#333" stroke-width="0.9" />
<line x1="48" y1="340.7" x2="258.8" y2="340.7" stroke="#333" stroke-width="0.9" />
<line x1="48.5" y1="340.7" x2="48.5" y2="343.5" stroke="#333" stroke-width="0.8" />
<line x1="82.1" y1="340.7" x2="82.1" y2="343.5" stroke="#333" stroke-width="0.8" />
<line x1="115.7" y1="340.7" x2="115.7" y2="343.5" stroke="#333" stroke-width="0.8" />
<line x1="149.2" y1="340.7" x2="149.2" y2="343.5" stroke="#333" stroke-width="0.8" />
<line x1="182.8" y1="340.7" x2="182.8" y2="343.5" stroke="#333" stroke-width="0.8" />
<line x1="216.4" y1="340.7" x2="216.4" y2="343.5" stroke="#333" stroke-width="0.8" />
<line x1="250" y1="340.7" x2="250" y2="343.5" stroke="#333" stroke-width="0.8" />
<line x1="45.5" y1="340.1" x2="48.5" y2="340.1" stroke="#333" stroke-width="0.8" />
<text x="43.3" y="343.1" font-size="8.8" text-anchor="end" fill="#222" >0</text>
<line x1="45.5" y1="312.3" x2="48.5" y2="312.3" stroke="#333" stroke-width="0.8" />
<text x="43.3" y="315.3" font-size="8.8" text-anchor="end" fill="#222" >20</text>
<line x1="48.5" y1="354.5" x2="48.5" y2="409.2" stroke="#333" stroke-width="0.9" />
<line x1="48" y1="408.7" x2="258.8" y2="408.7" stroke="#333" stroke-width="0.9" />
<line x1="48.5" y1="408.7" x2="48.5" y2="411.5" stroke="#333" stroke-width="0.8" />
<line x1="82.1" y1="408.7" x2="82.1" y2="411.5" stroke="#333" stroke-width="0.8" />
<line x1="115.7" y1="408.7" x2="115.7" y2="411.5" stroke="#333" stroke-width="0.8" />
<line x1="149.2" y1="408.7" x2="149.2" y2="411.5" stroke="#333" stroke-width="0.8" />
<line x1="182.8" y1="408.7" x2="182.8" y2="411.5" stroke="#333" stroke-width="0.8" />
<line x1="216.4" y1="408.7" x2="216.4" y2="411.5" stroke="#333" stroke-width="0.8" />
<line x1="250" y1="408.7" x2="250" y2="411.5" stroke="#333" stroke-width="0.8" />
<line x1="45.5" y1="408.7" x2="48.5" y2="408.7" stroke="#333" stroke-width="0.8" />
<text x="43.3" y="411.7" font-size="8.8" text-anchor="end" fill="#222" >1</text>
<line x1="45.5" y1="378.6" x2="48.5" y2="378.6" stroke="#333" stroke-width="0.8" />
<text x="43.3" y="381.6" font-size="8.8" text-anchor="end" fill="#222" >2</text>
<text x="48.5" y="421.5" font-size="8.8" text-anchor="middle" fill="#222" >0</text>
<text x="82.1" y="421.5" font-size="8.8" text-anchor="middle" fill="#222" >1</text>
<text x="115.7" y="421.5" font-size="8.8" text-anchor="middle" fill="#222" >2</text>
<text x="149.2" y="421.5" font-size="8.8" text-anchor="middle" fill="#222" >3</text>
<text x="182.8" y="421.5" font-size="8.8" text-anchor="middle" fill="#222" >4</text>
<text x="216.4" y="421.5" font-size="8.8" text-anchor="middle" fill="#222" >5</text>
<text x="250" y="421.5" font-size="8.8" text-anchor="middle" fill="#222" >6</text>
<text x="151.5" y="432.9" font-size="8.8" text-anchor="middle" fill="#222" >Time (s)</text>
<text transform="translate(10.9,50.3) rotate(-90)" font-size="8.8" text-anchor="middle" fill="#222">Plasma current</text>
<text transform="translate(21,50.3) rotate(-90)" font-size="8.8" text-anchor="middle" fill="#222">(MA)</text>
<text transform="translate(10.9,117) rotate(-90)" font-size="8.8" text-anchor="middle" fill="#222">Beam power</text>
<text transform="translate(21,117) rotate(-90)" font-size="8.8" text-anchor="middle" fill="#222">(MW)</text>
<text transform="translate(10.9,187.1) rotate(-90)" font-size="8.8" text-anchor="middle" fill="#222">Top</text>
<text transform="translate(21,187.1) rotate(-90)" font-size="8.8" text-anchor="middle" fill="#222">triangularity</text>
<text transform="translate(10.9,246.5) rotate(-90)" font-size="8.8" text-anchor="middle" fill="#222">Predicted</text>
<text transform="translate(21,246.5) rotate(-90)" font-size="8.8" text-anchor="middle" fill="#222">tearability</text>
<text transform="translate(10.9,313) rotate(-90)" font-size="8.8" text-anchor="middle" fill="#222">Magnetic</text>
<text transform="translate(21,313) rotate(-90)" font-size="8.8" text-anchor="middle" fill="#222">fluctuation (G)</text>
<text transform="translate(7.9,384.2) rotate(-90)" font-size="8.8" text-anchor="middle" fill="#222">Normalized</text>
<text transform="translate(18.0,384.2) rotate(-90)" font-size="8.8" text-anchor="middle" fill="#222">plasma</text>
<text transform="translate(28.2,384.2) rotate(-90)" font-size="8.8" text-anchor="middle" fill="#222">pressure, <tspan font-style="italic">β</tspan><tspan font-size="6.2" dy="1.8">N</tspan></text>
<text x="2.6" y="9.9" font-size="12.5" font-weight="bold" fill="#000">a</text>
<text x="155.5" y="10.3" font-size="8.8" text-anchor="middle" fill="#222" >Dependence on threshold (<tspan font-style="italic">k</tspan>)</text>
<line x1="106.6" y1="34.9" x2="125.1" y2="34.9" stroke="#5f5f5f" stroke-width="1.3" />
<text x="129.1" y="38" font-size="8.8" text-anchor="start" fill="#222" >193277 (<tspan font-style="italic">k</tspan> = 0.2)</text>
<line x1="106.6" y1="46.2" x2="125.1" y2="46.2" stroke="#3a64e2" stroke-width="1.3" />
<text x="129.1" y="49.4" font-size="8.8" text-anchor="start" fill="#222" >193280 (<tspan font-style="italic">k</tspan> = 0.5)</text>
<line x1="106.6" y1="57.6" x2="125.1" y2="57.6" stroke="#e0173f" stroke-width="1.3" />
<text x="129.1" y="60.7" font-size="8.8" text-anchor="start" fill="#222" >193281 (<tspan font-style="italic">k</tspan> = 0.7)</text>
<text x="55.4" y="256" font-size="8.8" text-anchor="start" fill="#222" >Thresholds</text>
<text x="54.2" y="332.6" font-size="8.8" text-anchor="start" fill="#222" >(<tspan font-style="italic">n</tspan> = 1)</text>
<text x="165.5" y="404.6" font-size="8.8" text-anchor="start" fill="#222" >Destabilized</text>
<text x="208.5" y="371.9" font-size="8.8" text-anchor="start" fill="#222" >Best</text>
<g shape-rendering="crispEdges">
<rect x="350" y="27.4" width="90" height="92.4" fill="url(#hb0)"/>
<rect x="440" y="27.4" width="1" height="92.4" fill="url(#hb1)"/>
<rect x="441" y="27.4" width="1" height="92.4" fill="url(#hb2)"/>
<rect x="442" y="27.4" width="2" height="92.4" fill="url(#hb3)"/>
<rect x="444" y="27.4" width="1" height="92.4" fill="url(#hb2)"/>
<rect x="445" y="27.4" width="1" height="92.4" fill="url(#hb1)"/>
<rect x="446" y="27.4" width="21" height="92.4" fill="url(#hb0)"/>
<rect x="467" y="27.4" width="1" height="92.4" fill="url(#hb4)"/>
<rect x="468" y="27.4" width="1" height="92.4" fill="url(#hb5)"/>
<rect x="469" y="27.4" width="2" height="92.4" fill="url(#hb6)"/>
<rect x="471" y="27.4" width="1" height="92.4" fill="url(#hb5)"/>
<rect x="472" y="27.4" width="1" height="92.4" fill="url(#hb4)"/>
<rect x="473" y="27.4" width="35" height="92.4" fill="url(#hb0)"/>
<rect x="508" y="27.4" width="1" height="92.4" fill="url(#hb7)"/>
<rect x="509" y="27.4" width="1" height="92.4" fill="url(#hb8)"/>
<rect x="510" y="27.4" width="1" height="92.4" fill="url(#hb9)"/>
<rect x="511" y="27.4" width="1" height="92.4" fill="url(#hb10)"/>
<rect x="512" y="27.4" width="1" height="92.4" fill="url(#hb11)"/>
<rect x="513" y="27.4" width="1" height="92.4" fill="url(#hb12)"/>
<rect x="514" y="27.4" width="1" height="92.4" fill="url(#hb13)"/>
<rect x="515" y="27.4" width="1" height="92.4" fill="url(#hb14)"/>
<rect x="516" y="27.4" width="2" height="92.4" fill="url(#hb15)"/>
<rect x="518" y="27.4" width="2" height="92.4" fill="url(#hb16)"/>
<rect x="520" y="27.4" width="1" height="92.4" fill="url(#hb17)"/>
<rect x="521" y="27.4" width="1" height="92.4" fill="url(#hb18)"/>
<rect x="522" y="27.4" width="1" height="92.4" fill="url(#hb19)"/>
<rect x="523" y="27.4" width="1" height="92.4" fill="url(#hb20)"/>
<rect x="524" y="27.4" width="1" height="92.4" fill="url(#hb21)"/>
<rect x="525" y="27.4" width="1" height="92.4" fill="url(#hb22)"/>
<rect x="526" y="27.4" width="1" height="92.4" fill="url(#hb23)"/>
<rect x="527" y="27.4" width="1" height="92.4" fill="url(#hb24)"/>
<rect x="528" y="27.4" width="1" height="92.4" fill="url(#hb25)"/>
<rect x="529" y="27.4" width="1" height="92.4" fill="url(#hb26)"/>
<rect x="530" y="27.4" width="1" height="92.4" fill="url(#hb27)"/>
<rect x="531" y="27.4" width="1" height="92.4" fill="url(#hb28)"/>
<rect x="532" y="27.4" width="1" height="92.4" fill="url(#hb29)"/>
<rect x="533" y="27.4" width="1" height="92.4" fill="url(#hb30)"/>
<rect x="534" y="27.4" width="1" height="92.4" fill="url(#hb31)"/>
<rect x="535" y="27.4" width="1" height="92.4" fill="url(#hb32)"/>
<rect x="536" y="27.4" width="1" height="92.4" fill="url(#hb33)"/>
<rect x="537" y="27.4" width="1" height="92.4" fill="url(#hb34)"/>
<rect x="538" y="27.4" width="1" height="92.4" fill="url(#hb35)"/>
<rect x="539" y="27.4" width="1" height="92.4" fill="url(#hb36)"/>
<rect x="540" y="27.4" width="1" height="92.4" fill="url(#hb37)"/>
<rect x="541" y="27.4" width="1" height="92.4" fill="url(#hb38)"/>
<rect x="542" y="27.4" width="1" height="92.4" fill="url(#hb39)"/>
<rect x="543" y="27.4" width="1" height="92.4" fill="url(#hb40)"/>
<rect x="544" y="27.4" width="1" height="92.4" fill="url(#hb41)"/>
<rect x="545" y="27.4" width="1" height="92.4" fill="url(#hb42)"/>
<rect x="546" y="27.4" width="1" height="92.4" fill="url(#hb43)"/>
<rect x="547" y="27.4" width="1" height="92.4" fill="url(#hb44)"/>
<rect x="548" y="27.4" width="1" height="92.4" fill="url(#hb45)"/>
<rect x="549" y="27.4" width="1" height="92.4" fill="url(#hb46)"/>
<rect x="550" y="27.4" width="1" height="92.4" fill="url(#hb47)"/>
<rect x="551" y="27.4" width="1" height="92.4" fill="url(#hb48)"/>
<rect x="552" y="27.4" width="1" height="92.4" fill="url(#hb49)"/>
<rect x="553" y="27.4" width="1" height="92.4" fill="url(#hb50)"/>
<rect x="554" y="27.4" width="1" height="92.4" fill="url(#hb51)"/>
<rect x="555" y="27.4" width="1" height="92.4" fill="url(#hb52)"/>
<rect x="556" y="27.4" width="1" height="92.4" fill="url(#hb53)"/>
<rect x="557" y="27.4" width="1" height="92.4" fill="url(#hb54)"/>
<rect x="558" y="27.4" width="1" height="92.4" fill="url(#hb55)"/>
<rect x="559" y="27.4" width="1" height="92.4" fill="url(#hb56)"/>
<rect x="560" y="27.4" width="1" height="92.4" fill="url(#hb57)"/>
<rect x="561" y="27.4" width="1" height="92.4" fill="url(#hb58)"/>
<rect x="562" y="27.4" width="1" height="92.4" fill="url(#hb59)"/>
<rect x="563" y="27.4" width="1" height="92.4" fill="url(#hb60)"/>
<rect x="564" y="27.4" width="1" height="92.4" fill="url(#hb61)"/>
<rect x="565" y="27.4" width="1" height="92.4" fill="url(#hb62)"/>
<rect x="566" y="27.4" width="1" height="92.4" fill="url(#hb63)"/>
<rect x="567" y="27.4" width="1" height="92.4" fill="url(#hb64)"/>
<rect x="568" y="27.4" width="1" height="92.4" fill="url(#hb65)"/>
<rect x="569" y="27.4" width="1" height="92.4" fill="url(#hb66)"/>
<rect x="570" y="27.4" width="1" height="92.4" fill="url(#hb67)"/>
<rect x="571" y="27.4" width="1" height="92.4" fill="url(#hb68)"/>
<rect x="572" y="27.4" width="1" height="92.4" fill="url(#hb69)"/>
<rect x="573" y="27.4" width="1" height="92.4" fill="url(#hb70)"/>
<rect x="574" y="27.4" width="1" height="92.4" fill="url(#hb71)"/>
<rect x="575" y="27.4" width="10" height="92.4" fill="url(#hb72)"/>
<rect x="585" y="27.4" width="1" height="92.4" fill="url(#hb73)"/>
<rect x="586" y="27.4" width="1" height="92.4" fill="url(#hb74)"/>
<rect x="587" y="27.4" width="1" height="92.4" fill="url(#hb75)"/>
<rect x="588" y="27.4" width="1" height="92.4" fill="url(#hb76)"/>
<rect x="589" y="27.4" width="1" height="92.4" fill="url(#hb77)"/>
<rect x="590" y="27.4" width="1" height="92.4" fill="url(#hb78)"/>
<rect x="591" y="27.4" width="1" height="92.4" fill="url(#hb79)"/>
<rect x="592" y="27.4" width="1" height="92.4" fill="url(#hb80)"/>
<rect x="593" y="27.4" width="1" height="92.4" fill="url(#hb81)"/>
<rect x="594" y="27.4" width="1" height="92.4" fill="url(#hb82)"/>
<rect x="595" y="27.4" width="1" height="92.4" fill="url(#hb83)"/>
<rect x="596" y="27.4" width="1" height="92.4" fill="url(#hb84)"/>
<rect x="597" y="27.4" width="1" height="92.4" fill="url(#hb85)"/>
<rect x="598" y="27.4" width="1" height="92.4" fill="url(#hb86)"/>
<rect x="599" y="27.4" width="1" height="92.4" fill="url(#hb87)"/>
<rect x="600" y="27.4" width="1" height="92.4" fill="url(#hb88)"/>
<rect x="601" y="27.4" width="1" height="92.4" fill="url(#hb89)"/>
<rect x="602" y="27.4" width="1" height="92.4" fill="url(#hb90)"/>
<rect x="603" y="27.4" width="1" height="92.4" fill="url(#hb91)"/>
<rect x="604" y="27.4" width="1" height="92.4" fill="url(#hb92)"/>
<rect x="605" y="27.4" width="0.5" height="92.4" fill="url(#hb93)"/>
</g>
<rect x="605.5" y="27.4" width="18.5" height="92.4" fill="#9c9088"/>
<rect x="624" y="27.4" width="11.5" height="92.4" fill="#959595"/>
<text transform="translate(622.2,76.5) rotate(-90)" font-size="8.7" text-anchor="middle" fill="#222">Disrupted</text>
<rect x="350.5" y="27.4" width="285.0" height="92.4" fill="none" stroke="#333" stroke-width="0.9"/>
<line x1="350.5" y1="119.8" x2="350.5" y2="122.6" stroke="#333" stroke-width="0.8" />
<text x="350.5" y="133" font-size="8.8" text-anchor="middle" fill="#222" >0</text>
<line x1="396.4" y1="119.8" x2="396.4" y2="122.6" stroke="#333" stroke-width="0.8" />
<text x="396.4" y="133" font-size="8.8" text-anchor="middle" fill="#222" >1</text>
<line x1="442.3" y1="119.8" x2="442.3" y2="122.6" stroke="#333" stroke-width="0.8" />
<text x="442.3" y="133" font-size="8.8" text-anchor="middle" fill="#222" >2</text>
<line x1="488.3" y1="119.8" x2="488.3" y2="122.6" stroke="#333" stroke-width="0.8" />
<text x="488.3" y="133" font-size="8.8" text-anchor="middle" fill="#222" >3</text>
<line x1="534.2" y1="119.8" x2="534.2" y2="122.6" stroke="#333" stroke-width="0.8" />
<text x="534.2" y="133" font-size="8.8" text-anchor="middle" fill="#222" >4</text>
<line x1="580.1" y1="119.8" x2="580.1" y2="122.6" stroke="#333" stroke-width="0.8" />
<text x="580.1" y="133" font-size="8.8" text-anchor="middle" fill="#222" >5</text>
<line x1="626" y1="119.8" x2="626" y2="122.6" stroke="#333" stroke-width="0.8" />
<text x="626" y="133" font-size="8.8" text-anchor="middle" fill="#222" >6</text>
<line x1="347.5" y1="119.8" x2="350.5" y2="119.8" stroke="#333" stroke-width="0.8" />
<text x="343.3" y="122.8" font-size="8.8" text-anchor="end" fill="#222" >0</text>
<line x1="347.5" y1="89" x2="350.5" y2="89" stroke="#333" stroke-width="0.8" />
<text x="343.3" y="92" font-size="8.8" text-anchor="end" fill="#222" >5</text>
<line x1="347.5" y1="58.2" x2="350.5" y2="58.2" stroke="#333" stroke-width="0.8" />
<text x="343.3" y="61.2" font-size="8.8" text-anchor="end" fill="#222" >10</text>
<line x1="347.5" y1="27.4" x2="350.5" y2="27.4" stroke="#333" stroke-width="0.8" />
<text x="343.3" y="30.4" font-size="8.8" text-anchor="end" fill="#222" >15</text>
<text x="489.3" y="145.2" font-size="8.8" text-anchor="middle" fill="#222" >Time (s)</text>
<text transform="translate(324.2,73) rotate(-90)" font-size="8.8" text-anchor="middle" fill="#222">Beam power (MW)</text>
<text x="314.6" y="9.9" font-size="12.5" font-weight="bold" fill="#000">b</text>
<text x="492.3" y="22.1" font-size="8.8" text-anchor="middle" fill="#222" >Shot 193277 (<tspan font-style="italic">k</tspan> = 0.2)</text>
<line x1="358.3" y1="37.7" x2="375.3" y2="37.7" stroke="#111" stroke-width="1.0" />
<text x="380.4" y="40.8" font-size="8.8" text-anchor="start" fill="#222" >Controlled power</text>
<line x1="358.3" y1="48.7" x2="375.3" y2="48.7" stroke="#111" stroke-width="1.1" stroke-dasharray="6.2,3.6"/>
<text x="380.4" y="51.8" font-size="8.8" text-anchor="start" fill="#222" >Threshold line</text>
<rect x="652.5" y="28.2" width="6.1" height="91.6" fill="url(#cmap)" stroke="#333" stroke-width="0.8"/>
<line x1="658.6" y1="28.2" x2="661.1" y2="28.2" stroke="#333" stroke-width="0.8" />
<line x1="658.6" y1="119.8" x2="661.1" y2="119.8" stroke="#333" stroke-width="0.8" />
<text x="664.3" y="31.4" font-size="8.8" text-anchor="start" fill="#222" >1</text>
<text x="664.3" y="123.2" font-size="8.8" text-anchor="start" fill="#222" >0</text>
<line x1="647.2" y1="100.7" x2="665.5" y2="100.7" stroke="#111" stroke-width="0.9" stroke-dasharray="3,2.2"/>
<text x="642.1" y="103.3" font-size="8.7" text-anchor="middle" font-style="italic" fill="#222">k</text>
<text transform="translate(683.3,78.7) rotate(-90)" font-size="8.8" text-anchor="middle" fill="#222">Tearability</text>
<g shape-rendering="crispEdges">
<rect x="350" y="169.1" width="102" height="92.5" fill="url(#hc0)"/>
<rect x="452" y="169.1" width="1" height="92.5" fill="url(#hc1)"/>
<rect x="453" y="169.1" width="1" height="92.5" fill="url(#hc2)"/>
<rect x="454" y="169.1" width="1" height="92.5" fill="url(#hc3)"/>
<rect x="455" y="169.1" width="2" height="92.5" fill="url(#hc4)"/>
<rect x="457" y="169.1" width="1" height="92.5" fill="url(#hc3)"/>
<rect x="458" y="169.1" width="1" height="92.5" fill="url(#hc2)"/>
<rect x="459" y="169.1" width="1" height="92.5" fill="url(#hc1)"/>
<rect x="460" y="169.1" width="1" height="92.5" fill="url(#hc5)"/>
<rect x="461" y="169.1" width="1" height="92.5" fill="url(#hc6)"/>
<rect x="462" y="169.1" width="1" height="92.5" fill="url(#hc7)"/>
<rect x="463" y="169.1" width="1" height="92.5" fill="url(#hc8)"/>
<rect x="464" y="169.1" width="1" height="92.5" fill="url(#hc9)"/>
<rect x="465" y="169.1" width="1" height="92.5" fill="url(#hc10)"/>
<rect x="466" y="169.1" width="1" height="92.5" fill="url(#hc11)"/>
<rect x="467" y="169.1" width="1" height="92.5" fill="url(#hc12)"/>
<rect x="468" y="169.1" width="1" height="92.5" fill="url(#hc13)"/>
<rect x="469" y="169.1" width="1" height="92.5" fill="url(#hc8)"/>
<rect x="470" y="169.1" width="1" height="92.5" fill="url(#hc14)"/>
<rect x="471" y="169.1" width="1" height="92.5" fill="url(#hc15)"/>
<rect x="472" y="169.1" width="1" height="92.5" fill="url(#hc16)"/>
<rect x="473" y="169.1" width="1" height="92.5" fill="url(#hc5)"/>
<rect x="474" y="169.1" width="1" height="92.5" fill="url(#hc17)"/>
<rect x="475" y="169.1" width="1" height="92.5" fill="url(#hc18)"/>
<rect x="476" y="169.1" width="1" height="92.5" fill="url(#hc19)"/>
<rect x="477" y="169.1" width="1" height="92.5" fill="url(#hc20)"/>
<rect x="478" y="169.1" width="1" height="92.5" fill="url(#hc21)"/>
<rect x="479" y="169.1" width="1" height="92.5" fill="url(#hc22)"/>
<rect x="480" y="169.1" width="1" height="92.5" fill="url(#hc23)"/>
<rect x="481" y="169.1" width="1" height="92.5" fill="url(#hc24)"/>
<rect x="482" y="169.1" width="1" height="92.5" fill="url(#hc25)"/>
<rect x="483" y="169.1" width="1" height="92.5" fill="url(#hc26)"/>
<rect x="484" y="169.1" width="1" height="92.5" fill="url(#hc27)"/>
<rect x="485" y="169.1" width="1" height="92.5" fill="url(#hc28)"/>
<rect x="486" y="169.1" width="1" height="92.5" fill="url(#hc29)"/>
<rect x="487" y="169.1" width="1" height="92.5" fill="url(#hc30)"/>
<rect x="488" y="169.1" width="1" height="92.5" fill="url(#hc31)"/>
<rect x="489" y="169.1" width="1" height="92.5" fill="url(#hc32)"/>
<rect x="490" y="169.1" width="1" height="92.5" fill="url(#hc33)"/>
<rect x="491" y="169.1" width="1" height="92.5" fill="url(#hc34)"/>
<rect x="492" y="169.1" width="1" height="92.5" fill="url(#hc35)"/>
<rect x="493" y="169.1" width="1" height="92.5" fill="url(#hc36)"/>
<rect x="494" y="169.1" width="1" height="92.5" fill="url(#hc37)"/>
<rect x="495" y="169.1" width="1" height="92.5" fill="url(#hc38)"/>
<rect x="496" y="169.1" width="1" height="92.5" fill="url(#hc39)"/>
<rect x="497" y="169.1" width="1" height="92.5" fill="url(#hc40)"/>
<rect x="498" y="169.1" width="1" height="92.5" fill="url(#hc41)"/>
<rect x="499" y="169.1" width="1" height="92.5" fill="url(#hc42)"/>
<rect x="500" y="169.1" width="1" height="92.5" fill="url(#hc43)"/>
<rect x="501" y="169.1" width="1" height="92.5" fill="url(#hc44)"/>
<rect x="502" y="169.1" width="1" height="92.5" fill="url(#hc45)"/>
<rect x="503" y="169.1" width="1" height="92.5" fill="url(#hc46)"/>
<rect x="504" y="169.1" width="1" height="92.5" fill="url(#hc47)"/>
<rect x="505" y="169.1" width="1" height="92.5" fill="url(#hc48)"/>
<rect x="506" y="169.1" width="1" height="92.5" fill="url(#hc49)"/>
<rect x="507" y="169.1" width="1" height="92.5" fill="url(#hc50)"/>
<rect x="508" y="169.1" width="1" height="92.5" fill="url(#hc51)"/>
<rect x="509" y="169.1" width="1" height="92.5" fill="url(#hc52)"/>
<rect x="510" y="169.1" width="1" height="92.5" fill="url(#hc53)"/>
<rect x="511" y="169.1" width="1" height="92.5" fill="url(#hc54)"/>
<rect x="512" y="169.1" width="1" height="92.5" fill="url(#hc55)"/>
<rect x="513" y="169.1" width="1" height="92.5" fill="url(#hc56)"/>
<rect x="514" y="169.1" width="1" height="92.5" fill="url(#hc57)"/>
<rect x="515" y="169.1" width="1" height="92.5" fill="url(#hc58)"/>
<rect x="516" y="169.1" width="1" height="92.5" fill="url(#hc59)"/>
<rect x="517" y="169.1" width="1" height="92.5" fill="url(#hc60)"/>
<rect x="518" y="169.1" width="1" height="92.5" fill="url(#hc61)"/>
<rect x="519" y="169.1" width="1" height="92.5" fill="url(#hc62)"/>
<rect x="520" y="169.1" width="1" height="92.5" fill="url(#hc63)"/>
<rect x="521" y="169.1" width="1" height="92.5" fill="url(#hc64)"/>
<rect x="522" y="169.1" width="1" height="92.5" fill="url(#hc65)"/>
<rect x="523" y="169.1" width="1" height="92.5" fill="url(#hc66)"/>
<rect x="524" y="169.1" width="1" height="92.5" fill="url(#hc67)"/>
<rect x="525" y="169.1" width="1" height="92.5" fill="url(#hc68)"/>
<rect x="526" y="169.1" width="1" height="92.5" fill="url(#hc69)"/>
<rect x="527" y="169.1" width="1" height="92.5" fill="url(#hc70)"/>
<rect x="528" y="169.1" width="1" height="92.5" fill="url(#hc71)"/>
<rect x="529" y="169.1" width="1" height="92.5" fill="url(#hc72)"/>
<rect x="530" y="169.1" width="1" height="92.5" fill="url(#hc73)"/>
<rect x="531" y="169.1" width="1" height="92.5" fill="url(#hc74)"/>
<rect x="532" y="169.1" width="1" height="92.5" fill="url(#hc75)"/>
<rect x="533" y="169.1" width="1" height="92.5" fill="url(#hc76)"/>
<rect x="534" y="169.1" width="1" height="92.5" fill="url(#hc77)"/>
<rect x="535" y="169.1" width="1" height="92.5" fill="url(#hc78)"/>
<rect x="536" y="169.1" width="1" height="92.5" fill="url(#hc79)"/>
<rect x="537" y="169.1" width="1" height="92.5" fill="url(#hc80)"/>
<rect x="538" y="169.1" width="2" height="92.5" fill="url(#hc81)"/>
<rect x="540" y="169.1" width="1" height="92.5" fill="url(#hc82)"/>
<rect x="541" y="169.1" width="1" height="92.5" fill="url(#hc83)"/>
<rect x="542" y="169.1" width="1" height="92.5" fill="url(#hc84)"/>
<rect x="543" y="169.1" width="1" height="92.5" fill="url(#hc85)"/>
<rect x="544" y="169.1" width="1" height="92.5" fill="url(#hc86)"/>
<rect x="545" y="169.1" width="1" height="92.5" fill="url(#hc87)"/>
<rect x="546" y="169.1" width="1" height="92.5" fill="url(#hc88)"/>
<rect x="547" y="169.1" width="1" height="92.5" fill="url(#hc89)"/>
<rect x="548" y="169.1" width="1" height="92.5" fill="url(#hc90)"/>
<rect x="549" y="169.1" width="1" height="92.5" fill="url(#hc91)"/>
<rect x="550" y="169.1" width="1" height="92.5" fill="url(#hc92)"/>
<rect x="551" y="169.1" width="2" height="92.5" fill="url(#hc93)"/>
<rect x="553" y="169.1" width="1" height="92.5" fill="url(#hc94)"/>
<rect x="554" y="169.1" width="2" height="92.5" fill="url(#hc95)"/>
<rect x="556" y="169.1" width="1" height="92.5" fill="url(#hc96)"/>
<rect x="557" y="169.1" width="1" height="92.5" fill="url(#hc97)"/>
<rect x="558" y="169.1" width="2" height="92.5" fill="url(#hc98)"/>
<rect x="560" y="169.1" width="1" height="92.5" fill="url(#hc99)"/>
<rect x="561" y="169.1" width="2" height="92.5" fill="url(#hc100)"/>
<rect x="563" y="169.1" width="5" height="92.5" fill="url(#hc101)"/>
<rect x="568" y="169.1" width="2" height="92.5" fill="url(#hc102)"/>
<rect x="570" y="169.1" width="1" height="92.5" fill="url(#hc103)"/>
<rect x="571" y="169.1" width="1" height="92.5" fill="url(#hc104)"/>
<rect x="572" y="169.1" width="1" height="92.5" fill="url(#hc105)"/>
<rect x="573" y="169.1" width="1" height="92.5" fill="url(#hc106)"/>
<rect x="574" y="169.1" width="1" height="92.5" fill="url(#hc107)"/>
<rect x="575" y="169.1" width="1" height="92.5" fill="url(#hc108)"/>
<rect x="576" y="169.1" width="1" height="92.5" fill="url(#hc109)"/>
<rect x="577" y="169.1" width="1" height="92.5" fill="url(#hc110)"/>
<rect x="578" y="169.1" width="1" height="92.5" fill="url(#hc111)"/>
<rect x="579" y="169.1" width="1" height="92.5" fill="url(#hc112)"/>
<rect x="580" y="169.1" width="1" height="92.5" fill="url(#hc113)"/>
<rect x="581" y="169.1" width="1" height="92.5" fill="url(#hc114)"/>
<rect x="582" y="169.1" width="1" height="92.5" fill="url(#hc115)"/>
<rect x="583" y="169.1" width="1" height="92.5" fill="url(#hc116)"/>
<rect x="584" y="169.1" width="1" height="92.5" fill="url(#hc117)"/>
<rect x="585" y="169.1" width="1" height="92.5" fill="url(#hc118)"/>
<rect x="586" y="169.1" width="1" height="92.5" fill="url(#hc119)"/>
<rect x="587" y="169.1" width="1" height="92.5" fill="url(#hc120)"/>
<rect x="588" y="169.1" width="1" height="92.5" fill="url(#hc121)"/>
<rect x="589" y="169.1" width="1" height="92.5" fill="url(#hc122)"/>
<rect x="590" y="169.1" width="1" height="92.5" fill="url(#hc123)"/>
<rect x="591" y="169.1" width="1" height="92.5" fill="url(#hc124)"/>
<rect x="592" y="169.1" width="4" height="92.5" fill="url(#hc125)"/>
<rect x="596" y="169.1" width="5" height="92.5" fill="url(#hc126)"/>
<rect x="601" y="169.1" width="1" height="92.5" fill="url(#hc127)"/>
<rect x="602" y="169.1" width="1" height="92.5" fill="url(#hc128)"/>
<rect x="603" y="169.1" width="1" height="92.5" fill="url(#hc129)"/>
<rect x="604" y="169.1" width="1" height="92.5" fill="url(#hc130)"/>
<rect x="605" y="169.1" width="1" height="92.5" fill="url(#hc131)"/>
<rect x="606" y="169.1" width="1" height="92.5" fill="url(#hc132)"/>
<rect x="607" y="169.1" width="1" height="92.5" fill="url(#hc133)"/>
<rect x="608" y="169.1" width="1" height="92.5" fill="url(#hc134)"/>
<rect x="609" y="169.1" width="2" height="92.5" fill="url(#hc135)"/>
<rect x="611" y="169.1" width="1" height="92.5" fill="url(#hc136)"/>
<rect x="612" y="169.1" width="1" height="92.5" fill="url(#hc137)"/>
<rect x="613" y="169.1" width="1" height="92.5" fill="url(#hc138)"/>
<rect x="614" y="169.1" width="1" height="92.5" fill="url(#hc139)"/>
<rect x="615" y="169.1" width="1" height="92.5" fill="url(#hc140)"/>
<rect x="616" y="169.1" width="1" height="92.5" fill="url(#hc141)"/>
<rect x="617" y="169.1" width="1" height="92.5" fill="url(#hc142)"/>
<rect x="618" y="169.1" width="1" height="92.5" fill="url(#hc143)"/>
<rect x="619" y="169.1" width="1" height="92.5" fill="url(#hc144)"/>
<rect x="620" y="169.1" width="1" height="92.5" fill="url(#hc145)"/>
<rect x="621" y="169.1" width="1" height="92.5" fill="url(#hc146)"/>
<rect x="622" y="169.1" width="0.5" height="92.5" fill="url(#hc147)"/>
</g>
<rect x="350.5" y="169.1" width="285.0" height="92.5" fill="none" stroke="#333" stroke-width="0.9"/>
<line x1="350.5" y1="261.6" x2="350.5" y2="264.4" stroke="#333" stroke-width="0.8" />
<text x="350.5" y="276.9" font-size="8.8" text-anchor="middle" fill="#222" >0</text>
<line x1="396.4" y1="261.6" x2="396.4" y2="264.4" stroke="#333" stroke-width="0.8" />
<text x="396.4" y="276.9" font-size="8.8" text-anchor="middle" fill="#222" >1</text>
<line x1="442.3" y1="261.6" x2="442.3" y2="264.4" stroke="#333" stroke-width="0.8" />
<text x="442.3" y="276.9" font-size="8.8" text-anchor="middle" fill="#222" >2</text>
<line x1="488.3" y1="261.6" x2="488.3" y2="264.4" stroke="#333" stroke-width="0.8" />
<text x="488.3" y="276.9" font-size="8.8" text-anchor="middle" fill="#222" >3</text>
<line x1="534.2" y1="261.6" x2="534.2" y2="264.4" stroke="#333" stroke-width="0.8" />
<text x="534.2" y="276.9" font-size="8.8" text-anchor="middle" fill="#222" >4</text>
<line x1="580.1" y1="261.6" x2="580.1" y2="264.4" stroke="#333" stroke-width="0.8" />
<text x="580.1" y="276.9" font-size="8.8" text-anchor="middle" fill="#222" >5</text>
<line x1="626" y1="261.6" x2="626" y2="264.4" stroke="#333" stroke-width="0.8" />
<text x="626" y="276.9" font-size="8.8" text-anchor="middle" fill="#222" >6</text>
<line x1="347.5" y1="261.6" x2="350.5" y2="261.6" stroke="#333" stroke-width="0.8" />
<text x="343.3" y="264.6" font-size="8.8" text-anchor="end" fill="#222" >0</text>
<line x1="347.5" y1="230.8" x2="350.5" y2="230.8" stroke="#333" stroke-width="0.8" />
<text x="343.3" y="233.8" font-size="8.8" text-anchor="end" fill="#222" >5</text>
<line x1="347.5" y1="199.9" x2="350.5" y2="199.9" stroke="#333" stroke-width="0.8" />
<text x="343.3" y="202.9" font-size="8.8" text-anchor="end" fill="#222" >10</text>
<line x1="347.5" y1="169.1" x2="350.5" y2="169.1" stroke="#333" stroke-width="0.8" />
<text x="343.3" y="172.1" font-size="8.8" text-anchor="end" fill="#222" >15</text>
<text x="489.3" y="287.6" font-size="8.8" text-anchor="middle" fill="#222" >Time (s)</text>
<text transform="translate(324.2,214.8) rotate(-90)" font-size="8.8" text-anchor="middle" fill="#222">Beam power (MW)</text>
<text x="314.6" y="163.1" font-size="12.5" font-weight="bold" fill="#000">c</text>
<text x="492.3" y="164.2" font-size="8.8" text-anchor="middle" fill="#222" >Shot 193280 (<tspan font-style="italic">k</tspan> = 0.5)</text>
<line x1="358.3" y1="180.3" x2="375.3" y2="180.3" stroke="#111" stroke-width="1.0" />
<text x="380.4" y="183.4" font-size="8.8" text-anchor="start" fill="#222" >Controlled power</text>
<line x1="358.3" y1="191.3" x2="375.3" y2="191.3" stroke="#111" stroke-width="1.1" stroke-dasharray="6.2,3.6"/>
<text x="380.4" y="194.4" font-size="8.8" text-anchor="start" fill="#222" >Threshold line</text>
<rect x="652.5" y="169.9" width="6.1" height="91.7" fill="url(#cmap)" stroke="#333" stroke-width="0.8"/>
<line x1="658.6" y1="169.9" x2="661.1" y2="169.9" stroke="#333" stroke-width="0.8" />
<line x1="658.6" y1="261.6" x2="661.1" y2="261.6" stroke="#333" stroke-width="0.8" />
<text x="664.3" y="173.1" font-size="8.8" text-anchor="start" fill="#222" >1</text>
<text x="664.3" y="265" font-size="8.8" text-anchor="start" fill="#222" >0</text>
<line x1="647.2" y1="214.9" x2="665.5" y2="214.9" stroke="#111" stroke-width="0.9" stroke-dasharray="3,2.2"/>
<text x="642.1" y="217.5" font-size="8.7" text-anchor="middle" font-style="italic" fill="#222">k</text>
<text transform="translate(683.3,220.5) rotate(-90)" font-size="8.8" text-anchor="middle" fill="#222">Tearability</text>
<g shape-rendering="crispEdges">
<rect x="350" y="316.1" width="93" height="92.3" fill="url(#hd0)"/>
<rect x="443" y="316.1" width="1" height="92.3" fill="url(#hd1)"/>
<rect x="444" y="316.1" width="1" height="92.3" fill="url(#hd2)"/>
<rect x="445" y="316.1" width="1" height="92.3" fill="url(#hd3)"/>
<rect x="446" y="316.1" width="2" height="92.3" fill="url(#hd4)"/>
<rect x="448" y="316.1" width="1" height="92.3" fill="url(#hd3)"/>
<rect x="449" y="316.1" width="1" height="92.3" fill="url(#hd2)"/>
<rect x="450" y="316.1" width="1" height="92.3" fill="url(#hd1)"/>
<rect x="451" y="316.1" width="1" height="92.3" fill="url(#hd5)"/>
<rect x="452" y="316.1" width="1" height="92.3" fill="url(#hd6)"/>
<rect x="453" y="316.1" width="1" height="92.3" fill="url(#hd7)"/>
<rect x="454" y="316.1" width="1" height="92.3" fill="url(#hd8)"/>
<rect x="455" y="316.1" width="1" height="92.3" fill="url(#hd9)"/>
<rect x="456" y="316.1" width="1" height="92.3" fill="url(#hd10)"/>
<rect x="457" y="316.1" width="1" height="92.3" fill="url(#hd11)"/>
<rect x="458" y="316.1" width="1" height="92.3" fill="url(#hd12)"/>
<rect x="459" y="316.1" width="1" height="92.3" fill="url(#hd13)"/>
<rect x="460" y="316.1" width="1" height="92.3" fill="url(#hd14)"/>
<rect x="461" y="316.1" width="2" height="92.3" fill="url(#hd15)"/>
<rect x="463" y="316.1" width="1" height="92.3" fill="url(#hd14)"/>
<rect x="464" y="316.1" width="1" height="92.3" fill="url(#hd13)"/>
<rect x="465" y="316.1" width="1" height="92.3" fill="url(#hd12)"/>
<rect x="466" y="316.1" width="42" height="92.3" fill="url(#hd0)"/>
<rect x="508" y="316.1" width="1" height="92.3" fill="url(#hd16)"/>
<rect x="509" y="316.1" width="1" height="92.3" fill="url(#hd17)"/>
<rect x="510" y="316.1" width="1" height="92.3" fill="url(#hd18)"/>
<rect x="511" y="316.1" width="1" height="92.3" fill="url(#hd19)"/>
<rect x="512" y="316.1" width="1" height="92.3" fill="url(#hd20)"/>
<rect x="513" y="316.1" width="1" height="92.3" fill="url(#hd21)"/>
<rect x="514" y="316.1" width="1" height="92.3" fill="url(#hd22)"/>
<rect x="515" y="316.1" width="1" height="92.3" fill="url(#hd23)"/>
<rect x="516" y="316.1" width="1" height="92.3" fill="url(#hd24)"/>
<rect x="517" y="316.1" width="1" height="92.3" fill="url(#hd25)"/>
<rect x="518" y="316.1" width="1" height="92.3" fill="url(#hd26)"/>
<rect x="519" y="316.1" width="1" height="92.3" fill="url(#hd27)"/>
<rect x="520" y="316.1" width="1" height="92.3" fill="url(#hd28)"/>
<rect x="521" y="316.1" width="1" height="92.3" fill="url(#hd29)"/>
<rect x="522" y="316.1" width="1" height="92.3" fill="url(#hd30)"/>
<rect x="523" y="316.1" width="1" height="92.3" fill="url(#hd31)"/>
<rect x="524" y="316.1" width="1" height="92.3" fill="url(#hd32)"/>
<rect x="525" y="316.1" width="1" height="92.3" fill="url(#hd33)"/>
<rect x="526" y="316.1" width="1" height="92.3" fill="url(#hd34)"/>
<rect x="527" y="316.1" width="1" height="92.3" fill="url(#hd35)"/>
<rect x="528" y="316.1" width="1" height="92.3" fill="url(#hd36)"/>
<rect x="529" y="316.1" width="2" height="92.3" fill="url(#hd37)"/>
<rect x="531" y="316.1" width="1" height="92.3" fill="url(#hd38)"/>
<rect x="532" y="316.1" width="1" height="92.3" fill="url(#hd39)"/>
<rect x="533" y="316.1" width="1" height="92.3" fill="url(#hd40)"/>
<rect x="534" y="316.1" width="1" height="92.3" fill="url(#hd41)"/>
<rect x="535" y="316.1" width="1" height="92.3" fill="url(#hd42)"/>
<rect x="536" y="316.1" width="1" height="92.3" fill="url(#hd43)"/>
<rect x="537" y="316.1" width="1" height="92.3" fill="url(#hd44)"/>
<rect x="538" y="316.1" width="1" height="92.3" fill="url(#hd45)"/>
<rect x="539" y="316.1" width="1" height="92.3" fill="url(#hd46)"/>
<rect x="540" y="316.1" width="1" height="92.3" fill="url(#hd47)"/>
<rect x="541" y="316.1" width="1" height="92.3" fill="url(#hd48)"/>
<rect x="542" y="316.1" width="1" height="92.3" fill="url(#hd49)"/>
<rect x="543" y="316.1" width="1" height="92.3" fill="url(#hd50)"/>
<rect x="544" y="316.1" width="1" height="92.3" fill="url(#hd51)"/>
<rect x="545" y="316.1" width="1" height="92.3" fill="url(#hd52)"/>
<rect x="546" y="316.1" width="1" height="92.3" fill="url(#hd53)"/>
<rect x="547" y="316.1" width="1" height="92.3" fill="url(#hd54)"/>
<rect x="548" y="316.1" width="1" height="92.3" fill="url(#hd55)"/>
<rect x="549" y="316.1" width="1" height="92.3" fill="url(#hd56)"/>
<rect x="550" y="316.1" width="1" height="92.3" fill="url(#hd57)"/>
<rect x="551" y="316.1" width="1" height="92.3" fill="url(#hd58)"/>
<rect x="552" y="316.1" width="1" height="92.3" fill="url(#hd59)"/>
<rect x="553" y="316.1" width="1" height="92.3" fill="url(#hd60)"/>
<rect x="554" y="316.1" width="1" height="92.3" fill="url(#hd61)"/>
<rect x="555" y="316.1" width="1" height="92.3" fill="url(#hd62)"/>
<rect x="556" y="316.1" width="1" height="92.3" fill="url(#hd63)"/>
<rect x="557" y="316.1" width="1" height="92.3" fill="url(#hd64)"/>
<rect x="558" y="316.1" width="1" height="92.3" fill="url(#hd65)"/>
<rect x="559" y="316.1" width="1" height="92.3" fill="url(#hd66)"/>
<rect x="560" y="316.1" width="1" height="92.3" fill="url(#hd67)"/>
<rect x="561" y="316.1" width="1" height="92.3" fill="url(#hd68)"/>
<rect x="562" y="316.1" width="1" height="92.3" fill="url(#hd69)"/>
<rect x="563" y="316.1" width="1" height="92.3" fill="url(#hd70)"/>
<rect x="564" y="316.1" width="1" height="92.3" fill="url(#hd71)"/>
<rect x="565" y="316.1" width="1" height="92.3" fill="url(#hd72)"/>
<rect x="566" y="316.1" width="1" height="92.3" fill="url(#hd73)"/>
<rect x="567" y="316.1" width="1" height="92.3" fill="url(#hd74)"/>
<rect x="568" y="316.1" width="1" height="92.3" fill="url(#hd75)"/>
<rect x="569" y="316.1" width="1" height="92.3" fill="url(#hd76)"/>
<rect x="570" y="316.1" width="1" height="92.3" fill="url(#hd77)"/>
<rect x="571" y="316.1" width="1" height="92.3" fill="url(#hd78)"/>
<rect x="572" y="316.1" width="1" height="92.3" fill="url(#hd79)"/>
<rect x="573" y="316.1" width="1" height="92.3" fill="url(#hd80)"/>
<rect x="574" y="316.1" width="1" height="92.3" fill="url(#hd81)"/>
<rect x="575" y="316.1" width="1" height="92.3" fill="url(#hd82)"/>
<rect x="576" y="316.1" width="1" height="92.3" fill="url(#hd83)"/>
<rect x="577" y="316.1" width="1" height="92.3" fill="url(#hd84)"/>
<rect x="578" y="316.1" width="1" height="92.3" fill="url(#hd85)"/>
<rect x="579" y="316.1" width="1" height="92.3" fill="url(#hd86)"/>
<rect x="580" y="316.1" width="1" height="92.3" fill="url(#hd87)"/>
<rect x="581" y="316.1" width="1" height="92.3" fill="url(#hd88)"/>
<rect x="582" y="316.1" width="1" height="92.3" fill="url(#hd89)"/>
<rect x="583" y="316.1" width="1" height="92.3" fill="url(#hd90)"/>
<rect x="584" y="316.1" width="1" height="92.3" fill="url(#hd91)"/>
<rect x="585" y="316.1" width="1" height="92.3" fill="url(#hd92)"/>
<rect x="586" y="316.1" width="1" height="92.3" fill="url(#hd93)"/>
<rect x="587" y="316.1" width="1" height="92.3" fill="url(#hd94)"/>
<rect x="588" y="316.1" width="1" height="92.3" fill="url(#hd95)"/>
<rect x="589" y="316.1" width="1" height="92.3" fill="url(#hd96)"/>
<rect x="590" y="316.1" width="1" height="92.3" fill="url(#hd97)"/>
<rect x="591" y="316.1" width="1" height="92.3" fill="url(#hd98)"/>
<rect x="592" y="316.1" width="1" height="92.3" fill="url(#hd99)"/>
<rect x="593" y="316.1" width="1" height="92.3" fill="url(#hd100)"/>
<rect x="594" y="316.1" width="1" height="92.3" fill="url(#hd101)"/>
<rect x="595" y="316.1" width="1" height="92.3" fill="url(#hd102)"/>
<rect x="596" y="316.1" width="1" height="92.3" fill="url(#hd103)"/>
<rect x="597" y="316.1" width="1" height="92.3" fill="url(#hd104)"/>
<rect x="598" y="316.1" width="1" height="92.3" fill="url(#hd105)"/>
<rect x="599" y="316.1" width="2" height="92.3" fill="url(#hd106)"/>
<rect x="601" y="316.1" width="1" height="92.3" fill="url(#hd105)"/>
<rect x="602" y="316.1" width="1" height="92.3" fill="url(#hd107)"/>
<rect x="603" y="316.1" width="1" height="92.3" fill="url(#hd108)"/>
<rect x="604" y="316.1" width="1" height="92.3" fill="url(#hd101)"/>
<rect x="605" y="316.1" width="1" height="92.3" fill="url(#hd94)"/>
<rect x="606" y="316.1" width="1" height="92.3" fill="url(#hd109)"/>
<rect x="607" y="316.1" width="1" height="92.3" fill="url(#hd110)"/>
<rect x="608" y="316.1" width="1" height="92.3" fill="url(#hd37)"/>
<rect x="609" y="316.1" width="1" height="92.3" fill="url(#hd111)"/>
<rect x="610" y="316.1" width="1" height="92.3" fill="url(#hd112)"/>
<rect x="611" y="316.1" width="1" height="92.3" fill="url(#hd113)"/>
<rect x="612" y="316.1" width="1" height="92.3" fill="url(#hd114)"/>
<rect x="613" y="316.1" width="1" height="92.3" fill="url(#hd115)"/>
<rect x="614" y="316.1" width="1" height="92.3" fill="url(#hd116)"/>
<rect x="615" y="316.1" width="1" height="92.3" fill="url(#hd117)"/>
<rect x="616" y="316.1" width="1" height="92.3" fill="url(#hd118)"/>
<rect x="617" y="316.1" width="1" height="92.3" fill="url(#hd119)"/>
<rect x="618" y="316.1" width="1" height="92.3" fill="url(#hd120)"/>
<rect x="619" y="316.1" width="1" height="92.3" fill="url(#hd121)"/>
<rect x="620" y="316.1" width="1" height="92.3" fill="url(#hd122)"/>
<rect x="621" y="316.1" width="1" height="92.3" fill="url(#hd123)"/>
<rect x="622" y="316.1" width="1" height="92.3" fill="url(#hd124)"/>
<rect x="623" y="316.1" width="1" height="92.3" fill="url(#hd125)"/>
</g>
<rect x="350.5" y="316.1" width="285.0" height="92.3" fill="none" stroke="#333" stroke-width="0.9"/>
<line x1="350.5" y1="408.4" x2="350.5" y2="411.2" stroke="#333" stroke-width="0.8" />
<text x="350.5" y="423.9" font-size="8.8" text-anchor="middle" fill="#222" >0</text>
<line x1="396.4" y1="408.4" x2="396.4" y2="411.2" stroke="#333" stroke-width="0.8" />
<text x="396.4" y="423.9" font-size="8.8" text-anchor="middle" fill="#222" >1</text>
<line x1="442.3" y1="408.4" x2="442.3" y2="411.2" stroke="#333" stroke-width="0.8" />
<text x="442.3" y="423.9" font-size="8.8" text-anchor="middle" fill="#222" >2</text>
<line x1="488.3" y1="408.4" x2="488.3" y2="411.2" stroke="#333" stroke-width="0.8" />
<text x="488.3" y="423.9" font-size="8.8" text-anchor="middle" fill="#222" >3</text>
<line x1="534.2" y1="408.4" x2="534.2" y2="411.2" stroke="#333" stroke-width="0.8" />
<text x="534.2" y="423.9" font-size="8.8" text-anchor="middle" fill="#222" >4</text>
<line x1="580.1" y1="408.4" x2="580.1" y2="411.2" stroke="#333" stroke-width="0.8" />
<text x="580.1" y="423.9" font-size="8.8" text-anchor="middle" fill="#222" >5</text>
<line x1="626" y1="408.4" x2="626" y2="411.2" stroke="#333" stroke-width="0.8" />
<text x="626" y="423.9" font-size="8.8" text-anchor="middle" fill="#222" >6</text>
<line x1="347.5" y1="408.4" x2="350.5" y2="408.4" stroke="#333" stroke-width="0.8" />
<text x="343.3" y="411.4" font-size="8.8" text-anchor="end" fill="#222" >0</text>
<line x1="347.5" y1="377.6" x2="350.5" y2="377.6" stroke="#333" stroke-width="0.8" />
<text x="343.3" y="380.6" font-size="8.8" text-anchor="end" fill="#222" >5</text>
<line x1="347.5" y1="346.9" x2="350.5" y2="346.9" stroke="#333" stroke-width="0.8" />
<text x="343.3" y="349.9" font-size="8.8" text-anchor="end" fill="#222" >10</text>
<line x1="347.5" y1="316.1" x2="350.5" y2="316.1" stroke="#333" stroke-width="0.8" />
<text x="343.3" y="319.1" font-size="8.8" text-anchor="end" fill="#222" >15</text>
<text x="489.3" y="434.7" font-size="8.8" text-anchor="middle" fill="#222" >Time (s)</text>
<text transform="translate(324.2,361.6) rotate(-90)" font-size="8.8" text-anchor="middle" fill="#222">Beam power (MW)</text>
<text x="314.6" y="310.3" font-size="12.5" font-weight="bold" fill="#000">d</text>
<text x="492.3" y="311.2" font-size="8.8" text-anchor="middle" fill="#222" >Shot 193281 (<tspan font-style="italic">k</tspan> = 0.7)</text>
<line x1="358.3" y1="327.3" x2="375.3" y2="327.3" stroke="#111" stroke-width="1.0" />
<text x="380.4" y="330.4" font-size="8.8" text-anchor="start" fill="#222" >Controlled power</text>
<line x1="358.3" y1="338.3" x2="375.3" y2="338.3" stroke="#111" stroke-width="1.1" stroke-dasharray="6.2,3.6"/>
<text x="380.4" y="341.4" font-size="8.8" text-anchor="start" fill="#222" >Threshold line</text>
<rect x="652.5" y="316.9" width="6.1" height="91.5" fill="url(#cmap)" stroke="#333" stroke-width="0.8"/>
<line x1="658.6" y1="316.9" x2="661.1" y2="316.9" stroke="#333" stroke-width="0.8" />
<line x1="658.6" y1="408.4" x2="661.1" y2="408.4" stroke="#333" stroke-width="0.8" />
<text x="664.3" y="320.1" font-size="8.8" text-anchor="start" fill="#222" >1</text>
<text x="664.3" y="411.8" font-size="8.8" text-anchor="start" fill="#222" >0</text>
<line x1="647.2" y1="343.6" x2="665.5" y2="343.6" stroke="#111" stroke-width="0.9" stroke-dasharray="3,2.2"/>
<text x="642.1" y="346.2" font-size="8.7" text-anchor="middle" font-style="italic" fill="#222">k</text>
<text transform="translate(683.3,367.4) rotate(-90)" font-size="8.8" text-anchor="middle" fill="#222">Tearability</text>
<g fill="none" stroke-width="1.1">
<line x1="273.8" y1="93.6" x2="304" y2="93.6" stroke="#8a8a8a"/>
<polyline points="273.8,107.9 293.2,107.9 293.2,210 304,210" stroke="#7f9ff0"/>
<polyline points="273.8,123.9 284.3,123.9 284.3,360.7 304,360.7" stroke="#e5506e"/>
</g>
<polygon points="307,93.6 301.5,90.9 302.8,93.6 301.5,96.3" fill="#8a8a8a"/>
<polygon points="307,210 301.5,207.3 302.8,210 301.5,212.7" fill="#3a66e0"/>
<polygon points="307.2,360.7 301.7,358 303,360.7 301.7,363.4" fill="#e0173f"/>
<polyline points="48.5,69.4 51.3,55.2 52.7,53.8 55.6,52 57.5,50.6 84,25.4 85.4,25.7 86.8,23.2 88.2,21.1 150,21 234.9,21.1 234.9,71.1" fill="none" stroke="#5f5f5f" stroke-width="1.0" stroke-linejoin="round" />
<polyline points="48.5,69.4 51.3,55.2 52.7,53.8 55.6,52 57.5,50.6 84,25.4 85.4,25.7 86.8,23.2 88.2,21.1 150,21 258.8,21.2" fill="none" stroke="#3a64e2" stroke-width="1.0" stroke-linejoin="round" />
<polyline points="48.5,69.4 51.3,55.2 52.7,53.8 55.6,52 57.5,50.6 84,25.4 85.4,25.7 86.8,23.2 88.2,21.1 150,21 258.8,21.2" fill="none" stroke="#e0173f" stroke-width="1.35" stroke-linejoin="round" />
<polyline points="48.5,136.5 58.6,136.5 59.3,132.9 60.8,132.9 61.5,136.5 61.5,136.5 62.2,132.9 63.7,132.9 64.4,136.5 64.4,136.5 65.2,132.9 66.6,132.9 67.4,136.5 67.4,136.5 68.1,132.9 69.5,132.9 70.3,136.5 70.3,136.5 71,132.9 72.5,132.9 73.2,136.5 73.2,136.5 73.9,132.9 75.4,132.9 76.1,136.5 76.1,136.5 76.9,132.9 78.3,132.9 79,136.5 79,136.5 79.8,132.9 81.2,132.9 82,136.5 82,136.5 82.7,132.9 84.1,132.9 84.9,136.5 84.9,136.5 85.6,132.9 87.1,132.9 87.8,136.5 89.8,136.5" fill="none" stroke="#5f5f5f" stroke-width="1.1" stroke-linejoin="round" />
<polyline points="89.7,135.8 91.6,114.2 97.6,114.2 98.6,116.5 100.8,116.5 102.3,112 104.6,105.3 106.8,100.8 108.3,111.2 109.3,114.2 110.5,91.9 111.5,102.3 112.4,111.2 113.5,94.9 114.5,100.8 115.7,103.8 117.2,115.7 118.7,121.7 129.9,122.4 131.3,114.2 133.6,117.2 137.3,123.2 165.6,102.3 166.1,103 166.9,119.1 169.2,120.6 218.2,119.1 222.1,116 223.6,119.1 235.1,119.1 236.6,136.4 258.1,136.4" fill="none" stroke="#5f5f5f" stroke-width="1.3" stroke-linejoin="round" />
<path d="M117.5 116.9v1.9M118.5 120.9v1.9M119.5 121.7v1.9M120.5 121.8v1.9M121.5 121.9v1.9M122.5 121.9v1.9M123.5 122.0v1.9M124.5 122.1v1.9M125.5 122.1v1.9M126.5 122.2v1.9M127.5 122.3v1.9M128.5 122.3v1.9M129.5 122.4v1.9M130.5 118.8v1.9M131.5 114.4v1.9M132.5 115.8v1.9M133.5 117.1v1.9M134.5 118.7v1.9M135.5 120.3v1.9M136.5 121.9v1.9M137.5 123.0v1.9M138.5 122.3v1.9M139.5 121.5v1.9M140.5 120.8v1.9M141.5 120.1v1.9M142.5 119.3v1.9M143.5 118.6v1.9M144.5 117.8v1.9M145.5 117.1v1.9M146.5 116.4v1.9M147.5 115.6v1.9M148.5 114.9v1.9M149.5 114.2v1.9M150.5 113.4v1.9M151.5 112.7v1.9M152.5 111.9v1.9M153.5 111.2v1.9M154.5 110.5v1.9M155.5 109.7v1.9M156.5 109.0v1.9M157.5 108.3v1.9M158.5 107.5v1.9M159.5 106.8v1.9M160.5 106.1v1.9M161.5 105.3v1.9M162.5 104.6v1.9M163.5 103.8v1.9M164.5 103.1v1.9M165.5 102.4v1.9M166.5 110.7v1.9M167.5 119.5v1.9M168.5 120.2v1.9M169.5 120.6v1.9M170.5 120.6v1.9M171.5 120.5v1.9M172.5 120.5v1.9M173.5 120.5v1.9M174.5 120.5v1.9M175.5 120.4v1.9M176.5 120.4v1.9M177.5 120.4v1.9M178.5 120.3v1.9M179.5 120.3v1.9M180.5 120.3v1.9M181.5 120.2v1.9M182.5 120.2v1.9M183.5 120.2v1.9M184.5 120.1v1.9M185.5 120.1v1.9M186.5 120.1v1.9M187.5 120.0v1.9M188.5 120.0v1.9M189.5 120.0v1.9M190.5 120.0v1.9M191.5 119.9v1.9M192.5 119.9v1.9M193.5 119.9v1.9M194.5 119.8v1.9M195.5 119.8v1.9M196.5 119.8v1.9M197.5 119.7v1.9M198.5 119.7v1.9M199.5 119.7v1.9M200.5 119.6v1.9M201.5 119.6v1.9M202.5 119.6v1.9M203.5 119.5v1.9M204.5 119.5v1.9M205.5 119.5v1.9M206.5 119.5v1.9M207.5 119.4v1.9M208.5 119.4v1.9M209.5 119.4v1.9M210.5 119.3v1.9M211.5 119.3v1.9M212.5 119.3v1.9M213.5 119.2v1.9M214.5 119.2v1.9M215.5 119.2v1.9M216.5 119.1v1.9M217.5 119.1v1.9M218.5 118.9v1.9M219.5 118.1v1.9M220.5 117.3v1.9M221.5 116.5v1.9M222.5 116.9v1.9M223.5 118.9v1.9M224.5 119.1v1.9M225.5 119.1v1.9M226.5 119.1v1.9M227.5 119.1v1.9M228.5 119.1v1.9M229.5 119.1v1.9M230.5 119.1v1.9M231.5 119.1v1.9M232.5 119.1v1.9M233.5 119.1v1.9M234.5 119.1v1.9" stroke="#5f5f5f" stroke-width="0.85" fill="none" opacity="1"/>
<path d="M117.5 116.9v3.2M119.5 121.7v3.2M121.5 121.9v3.2M123.5 122.0v3.2M125.5 122.1v3.2M127.5 122.3v3.2M129.5 122.4v3.2M131.5 114.4v3.2M133.5 117.1v3.2M135.5 120.3v3.2M137.5 123.0v3.2M139.5 121.5v3.2M141.5 120.1v3.2M143.5 118.6v3.2M145.5 117.1v3.2M147.5 115.6v3.2M149.5 114.2v3.2M151.5 112.7v3.2M153.5 111.2v3.2M155.5 109.7v3.2M157.5 108.3v3.2M159.5 106.8v3.2M161.5 105.3v3.2M163.5 103.8v3.2M165.5 102.4v3.2M167.5 119.5v3.2M169.5 120.6v3.2M171.5 120.5v3.2M173.5 120.5v3.2M175.5 120.4v3.2M177.5 120.4v3.2M179.5 120.3v3.2M181.5 120.2v3.2M183.5 120.2v3.2M185.5 120.1v3.2M187.5 120.0v3.2M189.5 120.0v3.2M191.5 119.9v3.2M193.5 119.9v3.2M195.5 119.8v3.2M197.5 119.7v3.2M199.5 119.7v3.2M201.5 119.6v3.2M203.5 119.5v3.2M205.5 119.5v3.2M207.5 119.4v3.2M209.5 119.4v3.2M211.5 119.3v3.2M213.5 119.2v3.2M215.5 119.2v3.2M217.5 119.1v3.2M219.5 118.1v3.2M221.5 116.5v3.2M223.5 118.9v3.2M225.5 119.1v3.2M227.5 119.1v3.2M229.5 119.1v3.2M231.5 119.1v3.2M233.5 119.1v3.2" stroke="#5f5f5f" stroke-width="0.9" fill="none" opacity="1"/>
<polyline points="89.7,135.8 91.6,114.2 97.6,114.2 98.6,116.5 100.8,115.7 102.3,112 104.6,102.3 106.5,94.9 107.5,99.3 109,102.3 110.5,97.9 112,94.9 114.2,94.9 115.7,96.4 117.9,99.3 120.2,106.8 122.4,112.7 124.6,109.8 132.1,103.8 141.8,95.6 144,112.7 145.5,111.2 154.4,106 166.3,96.4 166.1,96.9 167.7,111.4 175.3,106.1 177.6,113 199.9,112.2 213.6,101.5 215.9,112.2 221.3,112.2 225.9,106.8 229,111.4 248.9,95.3 257.3,96.1 258.1,101.5" fill="none" stroke="#3a64e2" stroke-width="1.3" stroke-linejoin="round" />
<path d="M117.5 97.9v1.9M118.5 101.2v1.9M119.5 104.5v1.9M120.5 107.6v1.9M121.5 110.3v1.9M122.5 112.6v1.9M123.5 111.3v1.9M124.5 110.0v1.9M125.5 109.1v1.9M126.5 108.3v1.9M127.5 107.5v1.9M128.5 106.7v1.9M129.5 105.9v1.9M130.5 105.1v1.9M131.5 104.3v1.9M132.5 103.5v1.9M133.5 102.6v1.9M134.5 101.8v1.9M135.5 100.9v1.9M136.5 100.1v1.9M137.5 99.2v1.9M138.5 98.4v1.9M139.5 97.5v1.9M140.5 96.7v1.9M141.5 95.8v1.9M142.5 101.3v1.9M143.5 109.0v1.9M144.5 112.2v1.9M145.5 111.2v1.9M146.5 110.7v1.9M147.5 110.1v1.9M148.5 109.5v1.9M149.5 108.9v1.9M150.5 108.3v1.9M151.5 107.7v1.9M152.5 107.2v1.9M153.5 106.6v1.9M154.5 106.0v1.9M155.5 105.2v1.9M156.5 104.3v1.9M157.5 103.5v1.9M158.5 102.7v1.9M159.5 101.9v1.9M160.5 101.1v1.9M161.5 100.3v1.9M162.5 99.5v1.9M163.5 98.7v1.9M164.5 97.8v1.9M165.5 97.0v1.9M166.5 100.4v1.9M167.5 109.9v1.9M168.5 110.8v1.9M169.5 110.1v1.9M170.5 109.4v1.9M171.5 108.7v1.9M172.5 108.0v1.9M173.5 107.3v1.9M174.5 106.6v1.9M175.5 106.6v1.9M176.5 109.6v1.9M177.5 112.6v1.9M178.5 112.9v1.9M179.5 112.9v1.9M180.5 112.9v1.9M181.5 112.8v1.9M182.5 112.8v1.9M183.5 112.8v1.9M184.5 112.7v1.9M185.5 112.7v1.9M186.5 112.6v1.9M187.5 112.6v1.9M188.5 112.6v1.9M189.5 112.5v1.9M190.5 112.5v1.9M191.5 112.5v1.9M192.5 112.4v1.9M193.5 112.4v1.9M194.5 112.4v1.9M195.5 112.3v1.9M196.5 112.3v1.9M197.5 112.3v1.9M198.5 112.2v1.9M199.5 112.2v1.9M200.5 111.7v1.9M201.5 110.9v1.9M202.5 110.1v1.9M203.5 109.4v1.9M204.5 108.6v1.9M205.5 107.8v1.9M206.5 107.0v1.9M207.5 106.2v1.9M208.5 105.5v1.9M209.5 104.7v1.9M210.5 103.9v1.9M211.5 103.1v1.9M212.5 102.4v1.9M213.5 101.6v1.9M214.5 105.4v1.9M215.5 110.1v1.9M216.5 112.2v1.9M217.5 112.2v1.9M218.5 112.2v1.9M219.5 112.2v1.9M220.5 112.2v1.9M221.5 112.0v1.9M222.5 110.8v1.9M223.5 109.6v1.9M224.5 108.5v1.9M225.5 107.3v1.9M226.5 107.7v1.9M227.5 109.2v1.9M228.5 110.7v1.9M229.5 111.0v1.9M230.5 110.2v1.9M231.5 109.4v1.9M232.5 108.6v1.9M233.5 107.8v1.9M234.5 107.0v1.9M235.5 106.2v1.9M236.5 105.3v1.9M237.5 104.5v1.9M238.5 103.7v1.9M239.5 102.9v1.9M240.5 102.1v1.9M241.5 101.3v1.9M242.5 100.5v1.9M243.5 99.7v1.9M244.5 98.9v1.9M245.5 98.1v1.9M246.5 97.3v1.9M247.5 96.5v1.9M248.5 95.7v1.9M249.5 95.4v1.9M250.5 95.5v1.9M251.5 95.6v1.9M252.5 95.7v1.9M253.5 95.7v1.9M254.5 95.8v1.9M255.5 95.9v1.9M256.5 96.0v1.9M257.5 97.3v1.9" stroke="#3a64e2" stroke-width="0.85" fill="none" opacity="1"/>
<path d="M117.5 97.9v3.2M119.5 104.5v3.2M121.5 110.3v3.2M123.5 111.3v3.2M125.5 109.1v3.2M127.5 107.5v3.2M129.5 105.9v3.2M131.5 104.3v3.2M133.5 102.6v3.2M135.5 100.9v3.2M137.5 99.2v3.2M139.5 97.5v3.2M141.5 95.8v3.2M143.5 109.0v3.2M145.5 111.2v3.2M147.5 110.1v3.2M149.5 108.9v3.2M151.5 107.7v3.2M153.5 106.6v3.2M155.5 105.2v3.2M157.5 103.5v3.2M159.5 101.9v3.2M161.5 100.3v3.2M163.5 98.7v3.2M165.5 97.0v3.2M167.5 109.9v3.2M169.5 110.1v3.2M171.5 108.7v3.2M173.5 107.3v3.2M175.5 106.6v3.2M177.5 112.6v3.2M179.5 112.9v3.2M181.5 112.8v3.2M183.5 112.8v3.2M185.5 112.7v3.2M187.5 112.6v3.2M189.5 112.5v3.2M191.5 112.5v3.2M193.5 112.4v3.2M195.5 112.3v3.2M197.5 112.3v3.2M199.5 112.2v3.2M201.5 110.9v3.2M203.5 109.4v3.2M205.5 107.8v3.2M207.5 106.2v3.2M209.5 104.7v3.2M211.5 103.1v3.2M213.5 101.6v3.2M215.5 110.1v3.2M217.5 112.2v3.2M219.5 112.2v3.2M221.5 112.0v3.2M223.5 109.6v3.2M225.5 107.3v3.2M227.5 109.2v3.2M229.5 111.0v3.2M231.5 109.4v3.2M233.5 107.8v3.2M235.5 106.2v3.2M237.5 104.5v3.2M239.5 102.9v3.2M241.5 101.3v3.2M243.5 99.7v3.2M245.5 98.1v3.2M247.5 96.5v3.2M249.5 95.4v3.2M251.5 95.6v3.2M253.5 95.7v3.2M255.5 95.9v3.2M257.5 97.3v3.2" stroke="#3a64e2" stroke-width="0.9" fill="none" opacity="1"/>
<polyline points="48.5,136.5 58.6,136.5 59.3,132.9 60.8,132.9 61.5,136.5 61.5,136.5 62.2,132.9 63.7,132.9 64.4,136.5 64.4,136.5 65.2,132.9 66.6,132.9 67.4,136.5 67.4,136.5 68.1,132.9 69.5,132.9 70.3,136.5 70.3,136.5 71,132.9 72.5,132.9 73.2,136.5 73.2,136.5 73.9,132.9 75.4,132.9 76.1,136.5 76.1,136.5 76.9,132.9 78.3,132.9 79,136.5 79,136.5 79.8,132.9 81.2,132.9 82,136.5 82,136.5 82.7,132.9 84.1,132.9 84.9,136.5 84.9,136.5 85.6,132.9 87.1,132.9 87.8,136.5 89.8,136.5" fill="none" stroke="#e0173f" stroke-width="1.2" stroke-linejoin="round" />
<polyline points="89.7,135.8 91.6,113 97.9,113 98.6,115.7 100.8,115.7 102.3,111.2 103.8,108.3 105.3,97.9 107.2,86.7 108.3,91.9 109.3,105.3 110.5,102.3 111.5,94.9 112.7,102.3 113.9,99.3 115.7,95.6 117.9,94.9 120.2,94.9 126.1,94.1 126.9,94.9 128.4,111.2 130.6,109 132.8,107.5 134.3,105.3 135.8,109 137.3,112 138.8,109.8 142.5,107.5 147,104.6 151.4,102.3 155.9,100.8 160.4,99.3 163.3,98.6 166.3,98.6 166.1,99.2 167.7,113 175.3,113 178.4,111.4 183,113 187.6,108.4 189.9,113 195.3,109.1 198.3,113 201.4,110.7 206,113 219.8,104.5 222.1,113.7 224.4,113 228.2,110.7 230.5,113.7 258.1,113.7" fill="none" stroke="#e0173f" stroke-width="1.4" stroke-linejoin="round" />
<path d="M117.5 94.9v1.9M118.5 94.9v1.9M119.5 94.9v1.9M120.5 94.8v1.9M121.5 94.7v1.9M122.5 94.6v1.9M123.5 94.5v1.9M124.5 94.3v1.9M125.5 94.2v1.9M126.5 94.5v1.9M127.5 101.8v1.9M128.5 111.1v1.9M129.5 110.1v1.9M130.5 109.1v1.9M131.5 108.4v1.9M132.5 107.7v1.9M133.5 106.5v1.9M134.5 105.8v1.9M135.5 108.3v1.9M136.5 110.4v1.9M137.5 111.7v1.9M138.5 110.2v1.9M139.5 109.3v1.9M140.5 108.7v1.9M141.5 108.1v1.9M142.5 107.5v1.9M143.5 106.9v1.9M144.5 106.2v1.9M145.5 105.5v1.9M146.5 104.9v1.9M147.5 104.3v1.9M148.5 103.8v1.9M149.5 103.3v1.9M150.5 102.8v1.9M151.5 102.3v1.9M152.5 102.0v1.9M153.5 101.6v1.9M154.5 101.3v1.9M155.5 101.0v1.9M156.5 100.6v1.9M157.5 100.3v1.9M158.5 100.0v1.9M159.5 99.6v1.9M160.5 99.3v1.9M161.5 99.1v1.9M162.5 98.8v1.9M163.5 98.6v1.9M164.5 98.6v1.9M165.5 98.6v1.9M166.5 102.5v1.9M167.5 111.5v1.9M168.5 113.0v1.9M169.5 113.0v1.9M170.5 113.0v1.9M171.5 113.0v1.9M172.5 113.0v1.9M173.5 113.0v1.9M174.5 113.0v1.9M175.5 112.9v1.9M176.5 112.4v1.9M177.5 111.9v1.9M178.5 111.5v1.9M179.5 111.8v1.9M180.5 112.1v1.9M181.5 112.5v1.9M182.5 112.8v1.9M183.5 112.4v1.9M184.5 111.4v1.9M185.5 110.4v1.9M186.5 109.4v1.9M187.5 108.4v1.9M188.5 110.2v1.9M189.5 112.2v1.9M190.5 112.5v1.9M191.5 111.8v1.9M192.5 111.1v1.9M193.5 110.4v1.9M194.5 109.7v1.9M195.5 109.4v1.9M196.5 110.7v1.9M197.5 111.9v1.9M198.5 112.8v1.9M199.5 112.1v1.9M200.5 111.3v1.9M201.5 110.7v1.9M202.5 111.2v1.9M203.5 111.7v1.9M204.5 112.2v1.9M205.5 112.7v1.9M206.5 112.6v1.9M207.5 112.0v1.9M208.5 111.4v1.9M209.5 110.8v1.9M210.5 110.2v1.9M211.5 109.6v1.9M212.5 109.0v1.9M213.5 108.4v1.9M214.5 107.8v1.9M215.5 107.1v1.9M216.5 106.5v1.9M217.5 105.9v1.9M218.5 105.3v1.9M219.5 104.7v1.9M220.5 107.4v1.9M221.5 111.4v1.9M222.5 113.6v1.9M223.5 113.2v1.9M224.5 112.9v1.9M225.5 112.3v1.9M226.5 111.7v1.9M227.5 111.1v1.9M228.5 111.0v1.9M229.5 112.4v1.9M230.5 113.7v1.9M231.5 113.7v1.9M232.5 113.7v1.9M233.5 113.7v1.9M234.5 113.7v1.9M235.5 113.7v1.9M236.5 113.7v1.9M237.5 113.7v1.9M238.5 113.7v1.9M239.5 113.7v1.9M240.5 113.7v1.9M241.5 113.7v1.9M242.5 113.7v1.9M243.5 113.7v1.9M244.5 113.7v1.9M245.5 113.7v1.9M246.5 113.7v1.9M247.5 113.7v1.9M248.5 113.7v1.9M249.5 113.7v1.9M250.5 113.7v1.9M251.5 113.7v1.9M252.5 113.7v1.9M253.5 113.7v1.9M254.5 113.7v1.9M255.5 113.7v1.9M256.5 113.7v1.9M257.5 113.7v1.9" stroke="#e0173f" stroke-width="0.85" fill="none" opacity="1"/>
<path d="M117.5 94.9v3.2M119.5 94.9v3.2M121.5 94.7v3.2M123.5 94.5v3.2M125.5 94.2v3.2M127.5 101.8v3.2M129.5 110.1v3.2M131.5 108.4v3.2M133.5 106.5v3.2M135.5 108.3v3.2M137.5 111.7v3.2M139.5 109.3v3.2M141.5 108.1v3.2M143.5 106.9v3.2M145.5 105.5v3.2M147.5 104.3v3.2M149.5 103.3v3.2M151.5 102.3v3.2M153.5 101.6v3.2M155.5 101.0v3.2M157.5 100.3v3.2M159.5 99.6v3.2M161.5 99.1v3.2M163.5 98.6v3.2M165.5 98.6v3.2M167.5 111.5v3.2M169.5 113.0v3.2M171.5 113.0v3.2M173.5 113.0v3.2M175.5 112.9v3.2M177.5 111.9v3.2M179.5 111.8v3.2M181.5 112.5v3.2M183.5 112.4v3.2M185.5 110.4v3.2M187.5 108.4v3.2M189.5 112.2v3.2M191.5 111.8v3.2M193.5 110.4v3.2M195.5 109.4v3.2M197.5 111.9v3.2M199.5 112.1v3.2M201.5 110.7v3.2M203.5 111.7v3.2M205.5 112.7v3.2M207.5 112.0v3.2M209.5 110.8v3.2M211.5 109.6v3.2M213.5 108.4v3.2M215.5 107.1v3.2M217.5 105.9v3.2M219.5 104.7v3.2M221.5 111.4v3.2M223.5 113.2v3.2M225.5 112.3v3.2M227.5 111.1v3.2M229.5 112.4v3.2M231.5 113.7v3.2M233.5 113.7v3.2M235.5 113.7v3.2M237.5 113.7v3.2M239.5 113.7v3.2M241.5 113.7v3.2M243.5 113.7v3.2M245.5 113.7v3.2M247.5 113.7v3.2M249.5 113.7v3.2M251.5 113.7v3.2M253.5 113.7v3.2M255.5 113.7v3.2M257.5 113.7v3.2" stroke="#e0173f" stroke-width="0.9" fill="none" opacity="1"/>
<polyline points="56.2,205 57,201 57.8,205 58.7,201.8 59.5,205 61.1,204.2 61.9,201 62.7,204.2 65.9,194.6 67.5,187.3 69.9,187.3 70.7,189.8 71.5,194.3 77.1,194.6 83.5,195.1 88.4,195.9 91.6,194.9 93.2,194.6 93.7,188.5 94.5,194.6 95.3,188.5 96.1,194.6 96.9,188.5 99.6,188.5 100.4,194.6 106.8,194.6 107.3,188.1 108.9,188.1 109.6,194.6 110.8,194.6 111.2,188.1 120.5,188.1 121.8,182 130.9,182 131.7,176.1 137.3,176.1 138.1,168.9 138.9,174.5 139.7,168.9 143.8,168.9 144.6,163.3 145.4,168.9 146.5,163.3 147.8,168.9 148.6,163.3 150.2,168.9 151,163.3 151.7,163.1 153.4,169 155,163.1 166.8,163.1 167.6,169.8 176,169.8 176.9,176.5 179.4,173.2 180.2,176.5 181.9,169.8 191.1,169.8 192,176.5 203.7,176.5 204.6,183.3 209.6,183.3 210.4,169.8 215.5,169.8 216.3,163.9 221.3,163.9 222.2,169.8 223,163.9 227.2,163.9 228.1,169.8 232.3,169.8 233.1,163.9 233.9,176.5 234.6,176.5" fill="none" stroke="#5f5f5f" stroke-width="1.15" stroke-linejoin="round" />
<polyline points="56.2,205 57,202.3 57.8,205 58.7,201.8 59.5,205 61.1,205 62.7,204.2 65.9,194.6 67.5,187.3 71.5,187.3 72.3,190.1 73.1,194.3 77.1,194.6 83.5,195.1 88.4,195.9 91.6,194.9 93.2,194.6 93.5,188.5 101.2,188.5 102,194.6 106.8,194.6 107.6,189 108.9,194.6 110,188.1 111.6,194.6 112.4,188.1 122.1,188.1 123.7,188.1 124.5,182 131.7,182 132.5,176.1 137.3,176.1 138.1,168.9 151,168.9 151.7,164.8 153.4,169 155,163.9 156.7,169 158.4,163.9 160.1,169 160.9,163.9 166.8,163.9 167.6,169 168.5,163.9 169.3,169 170.1,163.9 171.8,169 172.7,163.9 175.2,169.8 183.6,169.8 184.4,176.5 194.5,176.5 195.3,183.3 209.6,183.3 210.4,176.5 218.8,176.5 219.7,183.3 223.9,183.3 224.7,176.5 233.9,176.5 234.8,169.8 241.5,169.8 242.3,163.9 245.4,163.9 246,169.8 247,163.9 257.4,163.9 259.1,171.5" fill="none" stroke="#3a64e2" stroke-width="1.2" stroke-linejoin="round" />
<polyline points="56.2,205 57,202.3 57.8,205 58.7,201.8 59.5,205 60.3,202.6 61.1,205 62.7,204.2 65.9,194.6 67.5,187.3 69.9,187.3 70.7,189.8 71.5,194.3 77.1,194.6 83.5,195.1 88.4,195.9 91.6,194.9 93.2,194.6 93.5,188.5 100.4,188.5 101.2,194.6 106.8,194.6 107.3,188.1 108.9,188.1 109.6,194.6 110.8,194.6 111.2,188.1 120.5,188.1 121.8,182 130.9,182 131.7,176.1 141,176.1 142.2,168.9 143,168.9 143.8,176.1 144.6,168.9 151,168.9 151.7,166.5 153.4,169.8 155,163.1 166.8,163.1 167.6,169.8 176,169.8 176.9,176.5 179.4,173.2 180.2,176.5 181.9,169.8 191.1,169.8 192,176.5 203.7,176.5 204.6,183.3 214.6,183.3 215.5,176.5 222.2,176.5 223,169.8 232.3,169.8 233.1,176.5 237.3,176.5 238.1,183.3 244.8,183.3 245.7,190 254.1,190 254.9,183.3 255.8,190 257.4,190 258.3,183.3 259.1,183.3" fill="none" stroke="#e0173f" stroke-width="1.25" stroke-linejoin="round" />
<line x1="48.5" y1="238.1" x2="257.7" y2="238.1" stroke="#e8566f" stroke-width="1.0" stroke-dasharray="3.2,2.2"/>
<line x1="48.5" y1="247.2" x2="257.7" y2="247.2" stroke="#8ea9ef" stroke-width="1.0" stroke-dasharray="3.2,2.2"/>
<line x1="48.5" y1="260.2" x2="257.7" y2="260.2" stroke="#666" stroke-width="1.0" stroke-dasharray="3.2,2.2"/>
<polyline points="48.4,268.8 98.6,268.8 106.3,268 114,267.7 117,267.4 124.7,267.6 130.8,267.2 140,268.3 140,268.7 140.8,268.3 141.6,269 142.4,268.9 143.2,268.4 144,268.6 144.8,268.5 145.6,268.7 146.4,268.8 147.2,268 148.1,268 148.9,268.7 149.7,268.3 150.5,268.6 151.3,267.8 152.1,268.2 152.9,268.5 153.7,268 154.5,268.6 155.3,268.6 156.1,267.7 156.9,267.6 157.7,268.1 158.5,268.5 159.3,267.9 160.1,267.7 160.9,267.9 161.7,267.5 162.5,267.6 163.3,267.8 164.2,267.8 165,267.6 165.8,267.5 166.6,267.8 167.5,265.8 168.5,264.3 169.4,256.7 170.4,249.2 171.3,249.9 172.3,251.1 173.2,250.1 174.2,250.1 175.1,253.3 176.1,255.8 177,257.8 178,259.6 178.9,260.2 179.9,260.5 180.8,257.9 181.8,255.8 182.7,260.6 183.7,264.3 184.6,264.2 185.5,263 186.5,262.8 187.4,262.4 188.4,263.4 189.3,264.1 190.3,265 191.2,265.3 192.2,265 193.1,265.1 194.1,264.8 195,264.3 196,264.5 196.9,265.2 197.9,265.9 198.8,265.9 199.8,266.3 200.7,266.1 201.7,266.2 202.6,266.2 203.6,266 204.5,266.5 205.5,267.3 206.4,267.2 207.4,265.9 208.3,264.7 209.3,265.6 210.2,267.2 211.2,267.5 212.1,267.9 213.1,268.1 214,268.1 215,267.9 215.9,267.9 216.9,267.9 217.8,267.8 218.8,267.7 219.7,267 220.7,266.5 221.6,266.2 222.6,265.8 223.5,265.3 224.5,261 225.4,257.7 226.4,253 227.3,249.2 228.3,245.6 229.2,241.6 230.1,238.3 231.1,234 232,234.1 233,234 233.9,249.2 234.9,266.2 235.8,266.6 236.8,267.2 237.7,267.8 238.7,269.1" fill="none" stroke="#5f5f5f" stroke-width="1.2" stroke-linejoin="round" />
<polyline points="48.4,268.8 114,268 121.6,268.3 124.7,267.6 130.8,266.8 133.9,266 137,266.8 141.6,267.6 142.6,266.4 143.7,264.3 144.7,261.5 145.7,259.3 146.6,258.7 147.6,259.3 148.5,261.5 149.5,258.8 150.4,254.9 151.4,258.1 152.3,260.5 153.3,261.3 154.2,261.5 155.2,261.2 156.1,261.5 157.1,262.3 158,263 159,263.4 159.9,263.8 160.9,263.3 161.8,264 162.8,264.3 163.7,264.1 164.7,264.6 165.6,265 166.6,264 167.5,262.1 168.5,258.7 169.4,257.3 170.4,255.8 171.3,249.2 172.3,255.2 173.2,261.5 174.2,256.8 175.1,253 176.1,250.1 177,250.7 178,253 178.9,251.2 179.9,251.1 180.8,249.1 181.8,247.3 182.7,247.4 183.7,248.2 184.6,249.4 185.5,251.1 186.5,250.3 187.4,248.2 188.4,250.6 189.3,253 190.3,249.7 191.2,246.3 192.2,246.8 193.1,248.2 194.1,247.8 195,249.2 196,250.3 196.9,252 197.9,249.5 198.8,248.2 199.8,247.3 200.7,246.3 201.7,248.6 202.6,249.2 203.6,252.3 204.5,254.9 205.5,253.3 206.4,253 207.4,252.7 208.3,251.1 209.3,252.5 210.2,253 211.2,252.9 212.1,252 213.1,252.3 214,251.1 215,248.7 215.9,245.4 216.9,244 217.8,241.6 218.8,243.7 219.7,246.3 220.7,246.7 221.6,245.4 222.6,248.1 223.5,249.2 224.5,249 225.4,250.1 226.4,248.2 227.3,245.4 228.3,246.7 229.2,247.3 230.1,246.7 231.1,246.3 232,249.7 233,253 233.9,250.6 234.9,248.2 235.8,249.9 236.8,250.1 237.7,252 238.7,253.9 239.6,253.6 240.6,252 241.5,250.3 242.5,249.2 243.4,251.7 244.4,253 245.3,253.2 246.3,252 247.2,252.9 248.2,254 249.1,254.9" fill="none" stroke="#3a64e2" stroke-width="1.3" stroke-linejoin="round" />
<polyline points="48.4,268.8 98.6,268.8 106.3,268 114,267.6 117,267.2 118.6,266 120.1,264.5 121.6,266 123.2,267.2 124.7,266.5 127.8,267.6 130.8,266.8 133.9,268 140,268.3 140,268.7 140.8,268.2 141.6,268.7 142.4,268.4 143.3,268.7 144.1,268.7 144.9,267.7 145.7,267.5 146.5,269 147.3,267.9 148.1,267.8 148.9,269.2 149.8,268.2 150.6,268.8 151.4,268.1 152.2,268.1 153.1,268.3 153.9,267.4 154.8,268.2 155.6,268.6 156.4,267.9 157.3,268.3 158.1,268.1 159,267.8 159.8,266.9 160.6,268.1 161.4,267.7 162.2,267.1 163,266.5 163.9,267.9 164.7,267.2 165.6,264.9 166.6,263.2 167.5,260.5 168.5,255.1 169.4,248.2 170.4,260.5 171.3,257.1 172.3,253 173.2,246.3 174.2,246.6 175.1,245.4 176.1,244.2 177,243.5 178,245 178.9,245.4 179.9,243.8 180.8,242.5 181.8,243.8 182.7,243.5 183.7,237.8 184.6,240.4 185.5,241.6 186.5,243.2 187.4,246.3 188.4,244.2 189.3,243.5 190.3,241.5 191.2,240.6 192.2,244.3 193.1,246.3 194.1,244.8 195,243.5 196,242.7 196.9,241.6 197.9,242.2 198.8,243.5 199.8,243 200.7,242.5 201.7,243.3 202.6,244.4 203.6,245.6 204.5,247.3 205.5,246.5 206.4,245.4 207.4,247.9 208.3,250.1 209.3,249.9 210.2,248.2 211.2,250 212.1,251.1 213.1,250.9 214,249.2 215,248.9 215.9,247.3 216.9,249.6 217.8,250.1 218.8,249 219.7,247.3 220.7,247.1 221.6,248.2 222.6,244.1 223.5,238.7 224.5,240.5 225.4,240.6 226.4,240.4 227.3,238.7 228.3,240.3 229.2,241.6 230.1,242.9 231.1,243.5 232,246.7 233,251.1 233.9,246.9 234.9,241.6 235.8,244.1 236.8,246.3 237.7,244.5 238.7,243.5 239.6,241.7 240.6,241.6 241.5,243.2 242.5,243.5 243.4,242.9 244.4,240.6 245.3,241.8 246.3,244.4 247.2,243.5 248.2,241.6 249.1,243.1" fill="none" stroke="#e0173f" stroke-width="1.4" stroke-linejoin="round" />
<line x1="258" y1="262.4" x2="258" y2="248" stroke="#e0173f" stroke-width="1.3" />
<polygon points="258,243.2 254.8,250.8 258,249.2 261.2,250.8" fill="#e0173f"/>
<polyline points="48.5,339.5 89,339.3" fill="none" stroke="#e0173f" stroke-width="1.3" stroke-linejoin="round" />
<polygon points="87,340.6 92,338.6 110,338 150,337 200,336.3 258.5,336 258.5,340.6" fill="#e0173f"/>
<path d="M88.4 340.3V339.2 M90.7 340.3V336.9 M95.3 340.3V332.5 M97.2 340.3V331.9 M99.4 340.3V331.9 M101.8 340.3V332.8 M104.0 340.3V333.1 M114.9 340.3V330.2 M117.5 340.3V329.4 M122.2 340.3V331.7 M126.6 340.3V331.6 M133.0 340.3V334.7 M135.2 340.3V334.2 M144.6 340.3V335.7 M146.6 340.3V336.0 M148.9 340.3V335.9 M153.1 340.3V336.3 M157.1 340.3V336.6 M159.6 340.3V336.0 M161.3 340.3V334.6 M165.1 340.3V335.5 M171.0 340.3V336.5 M177.5 340.3V335.3 M190.5 340.3V336.6 M194.6 340.3V335.3 M196.9 340.3V336.2 M198.6 340.3V335.6 M200.9 340.3V336.7 M202.7 340.3V336.2 M207.1 340.3V336.3 M211.6 340.3V336.9 M213.5 340.3V337.2 M217.8 340.3V336.1 M219.8 340.3V335.5 M222.1 340.3V337.1 M225.6 340.3V337.4 M235.5 340.3V336.5 M239.4 340.3V336.6 M241.5 340.3V336.1 M243.2 340.3V336.8 M245.1 340.3V336.1 M249.2 340.3V335.0 M251.4 340.3V335.1 M255.5 340.3V336.2 M257.4 340.3V336.4 M259.2 340.3V335.3" stroke="#3a64e2" stroke-width="1.0" fill="none"/>
<path d="M87.5 340.3V339.2 M89.8 340.3V336.5 M92.1 340.3V335.1 M94.2 340.3V333.8 M96.4 340.3V331.0 M98.5 340.3V333.1 M100.8 340.3V331.4 M102.9 340.3V332.4 M105.2 340.3V331.1 M107.4 340.3V329.8 M109.5 340.3V328.0 M111.6 340.3V329.7 M114.0 340.3V328.5 M116.3 340.3V330.4 M118.7 340.3V332.2 M121.2 340.3V331.9 M123.5 340.3V332.6 M125.6 340.3V332.7 M127.8 340.3V332.1 M130.0 340.3V332.7 M132.1 340.3V333.5 M134.4 340.3V333.5 M136.8 340.3V332.1 M139.2 340.3V334.4 M141.7 340.3V333.8 M143.7 340.3V334.6 M145.7 340.3V334.9 M147.8 340.3V333.2 M150.0 340.3V334.5 M152.2 340.3V334.3 M154.1 340.3V333.7 M156.1 340.3V335.1 M158.5 340.3V333.9 M160.2 340.3V334.1 M162.0 340.3V334.2 M164.2 340.3V334.4 M165.8 340.3V335.7 M168.2 340.3V335.1 M170.1 340.3V335.5 M172.2 340.3V334.5 M174.4 340.3V335.9 M176.6 340.3V335.4 M178.9 340.3V334.6 M181.1 340.3V335.9 M183.3 340.3V336.0 M185.2 340.3V335.4 M187.3 340.3V335.5 M189.6 340.3V336.0 M191.6 340.3V335.9 M193.5 340.3V335.7 M195.9 340.3V335.6 M197.8 340.3V336.1 M199.8 340.3V335.4 M201.8 340.3V335.3 M203.7 340.3V335.4 M206.0 340.3V335.8 M208.1 340.3V335.8 M210.3 340.3V335.2 M212.7 340.3V335.3 M214.3 340.3V336.2 M216.6 340.3V336.3 M218.9 340.3V335.2 M220.9 340.3V335.2 M222.9 340.3V336.1 M224.6 340.3V335.8 M226.7 340.3V335.9 M229.0 340.3V336.4 M230.8 340.3V336.4 M232.7 340.3V336.3 M234.3 340.3V336.4 M236.7 340.3V335.5 M238.3 340.3V335.1 M240.7 340.3V335.9 M242.4 340.3V336.0 M244.2 340.3V335.1 M246.1 340.3V336.1 M248.1 340.3V335.8 M250.4 340.3V335.4 M252.4 340.3V334.9 M254.5 340.3V334.9 M256.2 340.3V335.8 M257.9 340.3V334.5" stroke="#e0173f" stroke-width="1.1" fill="none"/>
<path d="M111.3 340V326.5" stroke="#5f5f5f" stroke-width="0.9"/>
<line x1="88" y1="340.2" x2="258.5" y2="340.2" stroke="#7a1020" stroke-width="0.9" />
<polyline points="151.6,287.5 151.6,315.9 210.3,315.9" fill="none" stroke="#777" stroke-width="0.9"/>
<line x1="149.6" y1="287.9" x2="151.6" y2="287.9" stroke="#777" stroke-width="0.8" />
<text x="148.3" y="290.9" font-size="8.8" text-anchor="end" fill="#333" >4</text>
<line x1="149.6" y1="301.4" x2="151.6" y2="301.4" stroke="#777" stroke-width="0.8" />
<text x="148.3" y="304.4" font-size="8.8" text-anchor="end" fill="#333" >2</text>
<line x1="149.6" y1="314.8" x2="151.6" y2="314.8" stroke="#777" stroke-width="0.8" />
<text x="148.3" y="317.8" font-size="8.8" text-anchor="end" fill="#333" >0</text>
<line x1="151.6" y1="315.9" x2="151.6" y2="317.8" stroke="#777" stroke-width="0.8" />
<text x="151.6" y="325.8" font-size="8.8" text-anchor="middle" fill="#333" >5.4</text>
<line x1="180" y1="315.9" x2="180" y2="317.8" stroke="#777" stroke-width="0.8" />
<text x="180" y="325.8" font-size="8.8" text-anchor="middle" fill="#333" >5.5</text>
<line x1="205.7" y1="315.9" x2="205.7" y2="317.8" stroke="#777" stroke-width="0.8" />
<text x="205.7" y="325.8" font-size="8.8" text-anchor="middle" fill="#333" >5.6</text>
<polyline points="151.8,314.6 152.9,313.8 154.2,313.7 155,313.7 156.1,314.5 157.2,310.7 158.2,311.6 159.2,313.8 160.1,314.5 161.2,312.1 162.4,311.6 163.7,314.3 165,313.9 165.9,313.9 167.2,314.3 168.1,311.7 169,310.6 169.8,314.3 170.7,314.1 171.7,313.9 172.5,314.6 173.7,314.6 174.9,310.7 175.7,311.6 177,310.2 178.2,314.3 179.2,313.8 180.1,313.8 181.3,309.7 182.1,310.6 183.4,309.8 184.5,311.3 185.4,311.7 186.5,314.4 187.3,314.1 188.3,310.6 189.5,314.2 190.2,313.5 191,303 192,296.5 193,300 193.9,302.4 195,297 195.8,293.2 196.6,300 197.2,313.5 198,314.3 198.8,314.6 199.9,314.5 201.2,314.2 202.4,313.4 203.3,314.4 204.4,314.1 205.8,314.3 207,314.4 208.1,313.4 209.5,314.2 210.6,313.7" fill="none" stroke="#707070" stroke-width="0.8" stroke-linejoin="round" />
<path d="M164.3,307 Q180,308 185.5,294.5" fill="none" stroke="#111" stroke-width="1.1"/>
<polygon points="186.6,291.2 183.3,296.2 185.4,295.4 187.7,297" fill="#111"/>
<polyline points="228.4,325.3 228.4,307.6 213,307.6" fill="none" stroke="#8a8a8a" stroke-width="0.9"/>
<polygon points="210.9,307.6 215.2,305.3 214.2,307.6 215.2,309.9" fill="#8a8a8a"/>
<ellipse cx="228.2" cy="337.7" rx="10.3" ry="12.7" fill="none" stroke="#8a8a8a" stroke-width="0.9" stroke-dasharray="3.2,2.2"/>
<polyline points="94.5,408.7 95.8,403.5 97.1,398.8 98.4,394.6 99.6,389.4 100.9,384.6 102.2,380.2 103.5,375.4 104.8,370.5 106.1,366.1 107.7,375.7 109.3,370.9 110.9,371.5 112.5,372.5 113.7,373.7 114.9,374.1 116.1,376.9 117.3,380.5 118.5,383.3 119.7,386.9 121,387.7 122.4,389.3 123.7,391 125,390.1 126.3,390.9 127.6,389.8 128.9,390.3 130.1,389.3 131.4,388.7 132.7,389.5 134,388.9 135.3,388.9 136.6,388.5 137.9,388.5 139.2,387.7 140.6,387.4 141.9,387.7 143.3,386.8 144.6,386.9 145.9,386.2 147.2,386.9 148.5,386.6 149.7,386 151,386.1 152.3,385.4 153.6,385 154.9,383.5 156.2,382.5 157.4,382.1 158.9,380.4 160.3,378.5 161.7,377.1 163.1,375.7 164.4,376.7 165.7,379.2 167.1,380.5 168.5,384.5 169.9,387.8 171.3,389 172.6,390.3 173.9,391.8 175.4,392 176.9,393.3 178.4,393.7 179.9,393.8 181.2,393.8 182.5,393 183.9,392.9 185.2,393.4 186.5,392.6 187.8,392.8 189.2,392.7 190.5,392 191.8,391.2 193.2,391.1 194.5,391.6 195.8,390.8 197,390.4 198.3,390.6 199.5,390.6 200.8,390 202,389.9 203.3,390.2 204.5,389.8 205.8,389.4 207,389.3 208.2,389.3 209.5,389.1 210.7,389 212,389.2 213.2,388.6 214.5,389.3 215.7,388.8 217.2,388.8 218.7,389 220.2,390.1 221.7,389.8 223,390.2 224.3,391.7 225.6,392.8 227.1,395.8 228.6,398.7 230.1,402.1 231.6,405.7 233.2,408.1" fill="none" stroke="#5f5f5f" stroke-width="1.2" stroke-linejoin="round" />
<polyline points="95.1,408.7 96.3,404.1 97.5,400.2 98.8,395.7 100,391.8 101.2,387.8 102.4,383.7 103.6,379 104.8,374.9 106.1,370.9 107.7,371.7 109.3,373.3 110.5,372.7 111.7,371 112.9,370.7 114.1,369.3 115.4,368.2 116.8,367.6 118.1,367.7 119.3,370 120.5,372.5 122.1,374.8 123.7,377.3 125.3,378.4 126.9,378.9 128.1,378.9 129.3,378.1 130.5,376.5 131.8,374.9 133,374.2 134.2,374.3 135.4,373.6 136.6,373.3 138.2,371 139.8,369.3 141.4,365.3 142.6,367.9 143.8,370.9 145,373.5 146.2,377.3 147.8,379.6 149.4,381.3 150.8,381.6 152.1,382.5 153.4,383.7 154.8,383.1 156.1,382.3 157.4,381.3 158.7,380.5 159.9,379.5 161.1,378.7 162.3,377.3 163.5,375 164.7,371.7 166.3,375.1 167.9,377.3 167,378.8 168.2,379 169.4,379.2 170.7,379.2 171.9,379.8 173.3,381.1 174.6,382.1 175.9,383.8 177.4,385.1 178.9,385.6 180.4,385.7 181.9,386.8 183.2,387.2 184.5,387.4 185.9,386.8 187.2,387.8 188.5,387.9 189.8,387.8 191.1,387.6 192.3,388.1 193.6,386.9 194.8,386.7 196.1,387.4 197.3,387.2 198.5,386.3 199.8,386.8 201.1,386.6 202.4,386.2 203.8,385.7 205.1,385 206.4,385.5 207.7,384.8 209,384 210.2,382.4 211.5,380.7 212.7,379.8 214.2,382.4 215.7,384.8 217.2,385.5 218.7,385.8 220.2,386.7 221.7,386.8 223,386.5 224.3,387.3 225.6,387.1 227,386.4 228.3,386.3 229.6,386.8 231.1,386.4 232.6,385.1 234.1,385 235.6,383.8 237.1,382.8 238.6,380.6 240.1,379.6 241.6,377.8 243.1,376 244.5,374.9 246,373 247.5,371.9 249,370.3 250.5,367.9 252,370.5 253.5,373.9 255.5,371.9 257,373.4 258.5,373.9" fill="none" stroke="#3a64e2" stroke-width="1.3" stroke-linejoin="round" />
<polyline points="95.1,408.7 96.3,404.5 97.5,399.4 98.8,395.7 100,391.6 101.2,387.2 102.4,382.4 103.6,378.2 104.8,373.5 106.1,369.3 107.7,370.9 109.3,369.3 110.5,370.5 111.7,371.7 112.9,369.6 114.1,368.5 115.3,368.3 116.5,367.8 117.7,367 118.9,366.9 120.5,366.3 122.1,366.1 123.3,365.5 124.5,364.5 126.1,365.3 127.7,370.9 129.3,375.7 130.5,376.8 131.8,378.1 133.4,379.1 135,378.9 136.6,380.3 138.2,380.5 139.8,380.1 141.4,378.9 142.6,378 143.8,377.6 145,377.4 146.2,377.3 147.4,375.9 148.6,375.1 149.8,374.1 151,372.5 152.2,371.4 153.4,370.2 154.6,369 155.8,367.7 157,366.5 158.3,366.5 159.5,365.5 160.7,365.3 162,365.2 163.3,364.7 164.7,365.3 165.9,369.1 167.1,372.5 169,375.9 170.4,379.8 171.9,382.8 173.3,383.6 174.6,385.6 175.9,386.8 177.2,386.6 178.6,387.3 179.9,387.4 181.2,388.6 182.5,388.7 183.9,388.8 185.2,389.1 186.5,388.1 187.8,388.6 189.2,388.4 190.5,388 191.8,387.8 193.2,388.5 194.5,388.3 195.8,388 197.1,388.7 198.5,388.6 199.8,388.8 201.1,388.4 202.4,388.9 203.8,388.2 205.1,388.7 206.4,388.9 207.7,388.8 209.2,387.7 210.7,388 212.2,386.8 213.7,386.8 215.2,386.5 216.7,385.6 218.2,384.7 219.7,384.8 221.2,386.4 222.7,386.8 224.2,387.8 225.6,389.8 226.9,389.5 228.1,390 229.4,389.9 230.6,390.3 231.9,390.4 233.1,390.6 234.3,390.7 235.6,390.8 236.9,390.7 238.2,390.8 239.6,391.5 240.9,391.4 242.2,391.6 243.5,391.8 244.9,392.3 246.2,391.3 247.5,391.7 248.9,392.1 250.2,391.6 251.5,392.2 252.9,392.4 254.3,391.9 255.7,391.7 257.1,391.5 258.5,391.8" fill="none" stroke="#e0173f" stroke-width="1.4" stroke-linejoin="round" />
<line x1="88.3" y1="387.4" x2="88.3" y2="372" stroke="#e0173f" stroke-width="1.3" />
<polygon points="88.3,366.8 85.0,374.6 88.3,372.9 91.6,374.6" fill="#e0173f"/>
<path d="M183.9,375.9 Q225,378 241.8,365.5" fill="none" stroke="#5b82ea" stroke-width="1.1"/>
<polygon points="243.6,362.7 238.6,365.3 241,365.9 241.2,368.4" fill="#3a66e0"/>
<g clip-path="url(#clipb)">
<polyline points="511,27 511.6,50 512.4,75 513.5,95 515,108 516.1,120" fill="none" stroke="#111" stroke-width="1.25" stroke-dasharray="4,1.8" stroke-linejoin="round"/>
<polyline points="524.6,120 526,110 528.3,96 529.9,91.7 531.2,100 532.8,116 533.5,120" fill="none" stroke="#111" stroke-width="1.25" stroke-dasharray="4,1.8" stroke-linejoin="round"/>
<polyline points="535.6,27 535.4,50 534.6,80 534.4,91.7 536.7,96 538.9,98.3 542.2,85 544.4,69.4 546.7,46.1 547.8,53.9 548.9,80.6 551.1,91.7 552.2,80.6 554.4,60.6 556.2,69.4 557.8,62.8 558.9,51.7 561.1,38.3 562.9,27" fill="none" stroke="#111" stroke-width="1.25" stroke-dasharray="4,1.8" stroke-linejoin="round"/>
<polyline points="564.4,27 563.8,42 563.2,60" fill="none" stroke="#111" stroke-width="1.25" stroke-dasharray="4,1.8" stroke-linejoin="round"/>
<polyline points="571.1,27 570.6,50 570,69.4" fill="none" stroke="#111" stroke-width="1.25" stroke-dasharray="4,1.8" stroke-linejoin="round"/>
<polyline points="585.6,27 586.5,31" fill="none" stroke="#111" stroke-width="1.25" stroke-dasharray="4,1.8" stroke-linejoin="round"/>
<polyline points="589.6,27 590,50 590.8,75 592.2,98.3 592.6,120" fill="none" stroke="#111" stroke-width="1.25" stroke-dasharray="4,1.8" stroke-linejoin="round"/>
<polyline points="530,116 531,105 532.2,102.8" fill="none" stroke="#111" stroke-width="1.25" stroke-dasharray="4,1.8" stroke-linejoin="round"/>
<line x1="605.4" y1="27" x2="605.4" y2="120" stroke="#222" stroke-width="1.0" stroke-dasharray="3.2,1.6"/>
<polyline points="350.5,119.7 364.4,119.7 365.4,116.5 367.4,116.5 368.4,119.7 368.4,119.7 369.4,116.5 371.3,116.5 372.3,119.7 372.3,119.7 373.3,116.5 375.3,116.5 376.3,119.7 376.3,119.7 377.3,116.5 379.3,116.5 380.3,119.7 380.3,119.7 381.3,116.5 383.3,116.5 384.2,119.7 384.2,119.7 385.2,116.5 387.2,116.5 388.2,119.7 388.2,119.7 389.2,116.5 391.2,116.5 392.2,119.7 392.2,119.7 393.2,116.5 395.2,116.5 396.2,119.7 396.2,119.7 397.2,116.5 399.1,116.5 400.1,119.7 400.1,119.7 401.1,116.5 403.1,116.5 404.1,119.7 406.1,119.7" fill="none" stroke="#111" stroke-width="0.9" stroke-linejoin="round" />
<polyline points="406.5,118.6 409.6,95.2 417.3,95.2 418.5,98.1 419.7,96.4 420.9,92.1 423.3,90.9 424.5,84.9 426.4,83.7 427.6,77.7 429.3,68.8 430.5,75.3 431.7,89.7 432.5,96.9 433.7,84.9 435.8,72.9 437,82.5 437.7,94.5 438.9,89.7 440.6,78.4 442.1,84.9 443.3,96.9 444.5,99.3 444.3,100.4 446.4,102.6 462,102.6 463.4,96.2 464.4,95.5 465.5,98.3 467,96.9 468.4,97.6 469.8,100.4 471.2,101.1 472.6,104 474,101.8 508.1,82.7 509.5,83.4 510.9,90.5 512.3,94.8 513.8,96.9 515.2,101.1 515.5,100.5 580.9,100.5 585.7,98.8 588.5,96.8 589.5,98 590.5,100.5 606.1,100.5 607.3,118.5 609.7,118.5" fill="none" stroke="#111" stroke-width="1.2" stroke-linejoin="round" />
<path d="M429.5 69.7v3.0M431.5 86.9v3.0M433.5 86.4v3.0M435.5 74.6v3.0M437.5 90.5v3.0M439.5 86.0v3.0M441.5 82.4v3.0M443.5 97.4v3.0M445.5 101.7v3.0M447.5 102.6v3.0M449.5 102.6v3.0M451.5 102.6v3.0M453.5 102.6v3.0M455.5 102.6v3.0M457.5 102.6v3.0M459.5 102.6v3.0M461.5 102.6v3.0M463.5 96.1v3.0M465.5 98.2v3.0M467.5 97.2v3.0M469.5 99.9v3.0M471.5 101.7v3.0M473.5 102.7v3.0M475.5 101.0v3.0M477.5 99.9v3.0M479.5 98.8v3.0M481.5 97.6v3.0M483.5 96.5v3.0M485.5 95.4v3.0M487.5 94.3v3.0M489.5 93.1v3.0M491.5 92.0v3.0M493.5 90.9v3.0M495.5 89.8v3.0M497.5 88.6v3.0M499.5 87.5v3.0M501.5 86.4v3.0M503.5 85.3v3.0M505.5 84.1v3.0M507.5 83.0v3.0M509.5 83.4v3.0M511.5 92.2v3.0M513.5 96.5v3.0M515.5 100.5v3.0M517.5 100.5v3.0M519.5 100.5v3.0M521.5 100.5v3.0M523.5 100.5v3.0M525.5 100.5v3.0M527.5 100.5v3.0M529.5 100.5v3.0M531.5 100.5v3.0M533.5 100.5v3.0M535.5 100.5v3.0M537.5 100.5v3.0M539.5 100.5v3.0M541.5 100.5v3.0M543.5 100.5v3.0M545.5 100.5v3.0M547.5 100.5v3.0M549.5 100.5v3.0M551.5 100.5v3.0M553.5 100.5v3.0M555.5 100.5v3.0M557.5 100.5v3.0M559.5 100.5v3.0M561.5 100.5v3.0M563.5 100.5v3.0M565.5 100.5v3.0M567.5 100.5v3.0M569.5 100.5v3.0M571.5 100.5v3.0M573.5 100.5v3.0M575.5 100.5v3.0M577.5 100.5v3.0M579.5 100.5v3.0M581.5 100.2v3.0M583.5 99.5v3.0M585.5 98.8v3.0M587.5 97.5v3.0M589.5 98.0v3.0M591.5 100.5v3.0M593.5 100.5v3.0M595.5 100.5v3.0M597.5 100.5v3.0M599.5 100.5v3.0M601.5 100.5v3.0M603.5 100.5v3.0M605.5 100.5v3.0" stroke="#111" stroke-width="1.0" fill="none" opacity="1"/>
</g>
<line x1="471.9" y1="92.6" x2="501.8" y2="71.9" stroke="#1a1aff" stroke-width="1.1"/>
<polygon points="505.3,69.5 502.6,74.4 502.0,71.8 499.8,70.3" fill="#1a1aff"/>
<line x1="511.8" y1="68.8" x2="520.0" y2="88.1" stroke="#1a1aff" stroke-width="1.1"/>
<polygon points="521.6,92.0 517.4,88.4 520.0,88.3 522.0,86.4" fill="#1a1aff"/>
<line x1="567.3" y1="96.1" x2="579.4" y2="87.8" stroke="#1a1aff" stroke-width="1.1"/>
<polygon points="582.9,85.4 580.2,90.3 579.6,87.7 577.4,86.2" fill="#1a1aff"/>
<line x1="586.0" y1="83.2" x2="590.8" y2="92.4" stroke="#1a1aff" stroke-width="1.1"/>
<polygon points="592.7,96.1 588.2,92.8 590.9,92.6 592.6,90.5" fill="#1a1aff"/>
<g clip-path="url(#clipc)">
<polyline points="489.6,169 489.4,180 489.8,194.7" fill="none" stroke="#111" stroke-width="1.25" stroke-dasharray="4,1.8" stroke-linejoin="round"/>
<polyline points="515.4,169 515.2,182 515.8,195.9" fill="none" stroke="#111" stroke-width="1.25" stroke-dasharray="4,1.8" stroke-linejoin="round"/>
<polyline points="517,169 517.3,180 517.6,194" fill="none" stroke="#111" stroke-width="1.25" stroke-dasharray="4,1.8" stroke-linejoin="round"/>
<polygon points="523.2,169 523.6,190 524.5,210 525.8,224.4 525.7,226.7 528,233.6 530.3,231.3 532.6,208.4 533.7,200.4 534.9,210.7 537.1,224.4 539,231.3 540.6,226.7 542.9,219.9 545.1,229 547.4,233.6 548.6,224.4 550.9,229 553.1,233.6 555.4,222.1 557.7,215.3 560,217.6 555,222.3 557.3,207.4 559.6,214.3 561.9,193.6 564.2,210.8 566.5,213.1 568.7,206.2 571,187.9 572.2,185.6 573.3,194.8 575.6,199.4 577.9,222.3 579.1,233.7 580.2,240.6 581.3,249.8 582.5,238.3 584.8,231.4 587.1,222.3 590.5,210.8 592.8,205.1 595.1,217.7 597.4,226.9 599.7,215.4 602,203.9 603.6,200.5 605.4,210.8 607.2,222.3 609.5,209.7 611.8,192.5 613.4,178.7 614.6,168.4 614.6,168.1 523.2,168.1" fill="#e4553a" opacity="0.6"/>
<polyline points="523.2,169 523.6,190 524.5,210 525.8,224.4 525.7,226.7 528,233.6 530.3,231.3 532.6,208.4 533.7,200.4 534.9,210.7 537.1,224.4 539,231.3 540.6,226.7 542.9,219.9 545.1,229 547.4,233.6 548.6,224.4 550.9,229 553.1,233.6 555.4,222.1 557.7,215.3 560,217.6 555,222.3 557.3,207.4 559.6,214.3 561.9,193.6 564.2,210.8 566.5,213.1 568.7,206.2 571,187.9 572.2,185.6 573.3,194.8 575.6,199.4 577.9,222.3 579.1,233.7 580.2,240.6 581.3,249.8 582.5,238.3 584.8,231.4 587.1,222.3 590.5,210.8 592.8,205.1 595.1,217.7 597.4,226.9 599.7,215.4 602,203.9 603.6,200.5 605.4,210.8 607.2,222.3 609.5,209.7 611.8,192.5 613.4,178.7 614.6,168.4" fill="none" stroke="#111" stroke-width="1.25" stroke-dasharray="4,1.8" stroke-linejoin="round"/>
<polyline points="616.9,168.4 616.4,183.3 615.7,199.4" fill="none" stroke="#111" stroke-width="1.25" stroke-dasharray="4,1.8" stroke-linejoin="round"/>
<polyline points="619.1,168.4 619.8,185.6 620.3,203.9" fill="none" stroke="#111" stroke-width="1.25" stroke-dasharray="4,1.8" stroke-linejoin="round"/>
<polyline points="622.6,168.4 622.1,183.3 621.4,199.4" fill="none" stroke="#111" stroke-width="1.25" stroke-dasharray="4,1.8" stroke-linejoin="round"/>
<polyline points="350.5,261.5 364.4,261.5 365.4,258.3 367.4,258.3 368.4,261.5 368.4,261.5 369.4,258.3 371.3,258.3 372.3,261.5 372.3,261.5 373.3,258.3 375.3,258.3 376.3,261.5 376.3,261.5 377.3,258.3 379.3,258.3 380.3,261.5 380.3,261.5 381.3,258.3 383.3,258.3 384.2,261.5 384.2,261.5 385.2,258.3 387.2,258.3 388.2,261.5 388.2,261.5 389.2,258.3 391.2,258.3 392.2,261.5 392.2,261.5 393.2,258.3 395.2,258.3 396.2,261.5 396.2,261.5 397.2,258.3 399.1,258.3 400.1,261.5 400.1,261.5 401.1,258.3 403.1,258.3 404.1,261.5 406.1,261.5" fill="none" stroke="#111" stroke-width="0.9" stroke-linejoin="round" />
<polyline points="405.6,260.1 408.3,239.9 410.1,238.1 412,237.2 417.5,237.2 418.4,239.9 419.3,238.1 420.2,234.5 422.1,234.1 423,238.1 423.9,239.6 425.7,229 426.6,224.4 427.5,217.1 428.8,218.9 430.3,218 432.1,219.8 433,223.5 434,226.2 434.9,223.5 435.8,219.8 437.3,218 438.5,218.9 439.5,217.1 441.3,218.9 443.1,221.6 444,219.8 445.9,219.8 447.7,218.9 448.6,223.5 450.4,232.6 451.4,236.3 452.3,235.4 477.9,218.9 479.7,219.8 481.6,234.5 483.4,233.5 483.4,232.4 485.7,231.3 488,233.6 489.1,234.7 513.1,219.4 515.4,233.6 516.6,235.9 517.7,233.6 523.4,230.1 525.7,229 526.9,233.6 528,234.7 537.1,233.6 539.4,235.4 546.3,232.4 548.6,234.7 555.4,234.7 555,233.7 576.8,225 577.9,230.3 580.2,232.6 582.5,233.7 584.8,234.9 587.1,233.7 589.4,231.4 592.8,230.3 595.1,231.4 596.2,236 598.5,232.6 623.7,218.8 627.2,218.2 630.6,220 634,218.8 637.5,218.8" fill="none" stroke="#111" stroke-width="1.2" stroke-linejoin="round" />
<path d="M426.5 225.4v3.0M428.5 218.4v3.0M430.5 218.2v3.0M432.5 221.3v3.0M434.5 224.6v3.0M436.5 218.9v3.0M438.5 218.9v3.0M440.5 218.1v3.0M442.5 220.7v3.0M444.5 219.8v3.0M446.5 219.5v3.0M448.5 222.9v3.0M450.5 232.9v3.0M452.5 235.2v3.0M454.5 233.9v3.0M456.5 232.6v3.0M458.5 231.4v3.0M460.5 230.1v3.0M462.5 228.8v3.0M464.5 227.5v3.0M466.5 226.2v3.0M468.5 224.9v3.0M470.5 223.6v3.0M472.5 222.4v3.0M474.5 221.1v3.0M476.5 219.8v3.0M478.5 219.2v3.0M480.5 225.8v3.0M482.5 234.0v3.0M484.5 231.9v3.0M486.5 232.1v3.0M488.5 234.1v3.0M490.5 233.8v3.0M492.5 232.6v3.0M494.5 231.3v3.0M496.5 230.0v3.0M498.5 228.7v3.0M500.5 227.5v3.0M502.5 226.2v3.0M504.5 224.9v3.0M506.5 223.6v3.0M508.5 222.4v3.0M510.5 221.1v3.0M512.5 219.8v3.0M514.5 227.8v3.0M516.5 235.7v3.0M518.5 233.1v3.0M520.5 231.9v3.0M522.5 230.7v3.0M524.5 229.6v3.0M526.5 232.1v3.0M528.5 234.7v3.0M530.5 234.4v3.0M532.5 234.2v3.0M534.5 233.9v3.0M536.5 233.7v3.0M538.5 234.7v3.0M540.5 234.9v3.0M542.5 234.1v3.0M544.5 233.2v3.0M546.5 232.6v3.0M548.5 234.6v3.0M550.5 234.7v3.0M552.5 234.7v3.0M554.5 234.7v3.0M556.5 233.1v3.0M558.5 232.3v3.0M560.5 231.5v3.0M562.5 230.7v3.0M564.5 229.9v3.0M566.5 229.1v3.0M568.5 228.3v3.0M570.5 227.5v3.0M572.5 226.7v3.0M574.5 225.9v3.0M576.5 225.1v3.0M578.5 230.9v3.0M580.5 232.7v3.0M582.5 233.7v3.0M584.5 234.7v3.0M586.5 234.0v3.0M588.5 232.3v3.0M590.5 231.1v3.0M592.5 230.4v3.0M594.5 231.1v3.0M596.5 235.6v3.0M598.5 232.6v3.0M600.5 231.5v3.0M602.5 230.4v3.0M604.5 229.3v3.0M606.5 228.2v3.0M608.5 227.1v3.0M610.5 226.1v3.0M612.5 225.0v3.0M614.5 223.9v3.0M616.5 222.8v3.0M618.5 221.7v3.0M620.5 220.6v3.0M622.5 219.5v3.0M624.5 218.7v3.0M626.5 218.3v3.0M628.5 218.9v3.0M630.5 219.9v3.0M632.5 219.3v3.0M634.5 218.8v3.0M636.5 218.8v3.0" stroke="#111" stroke-width="1.0" fill="none" opacity="1"/>
</g>
<line x1="481.1" y1="210.7" x2="486.4" y2="224.0" stroke="#1a1aff" stroke-width="1.1"/>
<polygon points="488.0,227.9 483.8,224.2 486.5,224.2 488.5,222.3" fill="#1a1aff"/>
<line x1="491.4" y1="224.0" x2="505.2" y2="214.3" stroke="#1a1aff" stroke-width="1.1"/>
<polygon points="508.6,211.9 505.9,216.8 505.3,214.2 503.1,212.7" fill="#1a1aff"/>
<line x1="510.9" y1="203.9" x2="520.4" y2="222.9" stroke="#1a1aff" stroke-width="1.1"/>
<polygon points="522.3,226.7 517.8,223.3 520.5,223.1 522.3,221.1" fill="#1a1aff"/>
<line x1="557.3" y1="230.3" x2="570.4" y2="221.2" stroke="#1a1aff" stroke-width="1.1"/>
<polygon points="573.8,218.8 571.1,223.7 570.5,221.1 568.3,219.6" fill="#1a1aff"/>
<line x1="577.9" y1="215.9" x2="582.5" y2="225.8" stroke="#1a1aff" stroke-width="1.1"/>
<polygon points="584.3,229.6 579.9,226.1 582.6,226.0 584.4,224.0" fill="#1a1aff"/>
<line x1="598.5" y1="227.3" x2="629.4" y2="207.4" stroke="#1a1aff" stroke-width="1.1"/>
<polygon points="632.9,205.1 630.1,209.9 629.5,207.3 627.3,205.7" fill="#1a1aff"/>
<g clip-path="url(#clipd)">
<polygon points="522.3,316.1 522.6,320.8 522.5,325.5 522.3,330.2 522,334.8 523,339.5 523.2,344.2 522.9,348.9 524.8,350.4 526.8,348.9 527.5,344.2 526.5,339.5 527.4,334.8 527.1,330.2 526.6,325.5 527,320.8 527.4,316.1" fill="#d33222" stroke="none"/>
<polyline points="522.3,316.1 522.6,320.8 522.5,325.5 522.3,330.2 522,334.8 523,339.5 523.2,344.2 522.9,348.9 524.8,350.4 526.8,348.9 527.5,344.2 526.5,339.5 527.4,334.8 527.1,330.2 526.6,325.5 527,320.8 527.4,316.1" fill="none" stroke="#111" stroke-width="1.25" stroke-dasharray="4,1.8" stroke-linejoin="round"/>
<polygon points="530.5,316.1 529.8,320.5 531.3,324.9 530.9,329.3 531.2,333.6 530.8,338 530,342.4 530.9,346.8 532,348.3 533.2,346.8 532.8,342.4 534,338 533,333.6 533.4,329.3 534.3,324.9 533,320.5 533.6,316.1" fill="#d33222" stroke="none"/>
<polyline points="530.5,316.1 529.8,320.5 531.3,324.9 530.9,329.3 531.2,333.6 530.8,338 530,342.4 530.9,346.8 532,348.3 533.2,346.8 532.8,342.4 534,338 533,333.6 533.4,329.3 534.3,324.9 533,320.5 533.6,316.1" fill="none" stroke="#111" stroke-width="1.25" stroke-dasharray="4,1.8" stroke-linejoin="round"/>
<polygon points="534.6,316.1 534.7,324.9 534.4,333.7 534.6,342.5 534.2,351.3 534.1,360.1 535.6,368.9 535.2,377.7 537.2,379.2 539.2,377.7 539.5,368.9 540,360.1 540.1,351.3 540.4,342.5 540.5,333.7 539.3,324.9 539.8,316.1" fill="#d33222" stroke="none"/>
<polyline points="534.6,316.1 534.7,324.9 534.4,333.7 534.6,342.5 534.2,351.3 534.1,360.1 535.6,368.9 535.2,377.7 537.2,379.2 539.2,377.7 539.5,368.9 540,360.1 540.1,351.3 540.4,342.5 540.5,333.7 539.3,324.9 539.8,316.1" fill="none" stroke="#111" stroke-width="1.25" stroke-dasharray="4,1.8" stroke-linejoin="round"/>
<polygon points="542.9,316.1 542.9,322.7 543.4,329.3 542.5,335.9 543.6,342.5 543.7,349.1 543,355.7 543.3,362.3 544.5,363.8 545.6,362.3 546.1,355.7 545.2,349.1 545.2,342.5 545.8,335.9 546.8,329.3 545.8,322.7 546,316.1" fill="#d33222" stroke="none"/>
<polyline points="542.9,316.1 542.9,322.7 543.4,329.3 542.5,335.9 543.6,342.5 543.7,349.1 543,355.7 543.3,362.3 544.5,363.8 545.6,362.3 546.1,355.7 545.2,349.1 545.2,342.5 545.8,335.9 546.8,329.3 545.8,322.7 546,316.1" fill="none" stroke="#111" stroke-width="1.25" stroke-dasharray="4,1.8" stroke-linejoin="round"/>
<polygon points="552,316.1 552,322.7 552.1,329.3 552.5,335.9 551.8,342.5 552.6,349.1 552.9,355.7 553.2,362.3 557.2,363.8 561.2,362.3 561.3,355.7 562.1,349.1 561.9,342.5 563,335.9 562.1,329.3 561.9,322.7 562.4,316.1" fill="#d33222" stroke="none"/>
<polyline points="552,316.1 552,322.7 552.1,329.3 552.5,335.9 551.8,342.5 552.6,349.1 552.9,355.7 553.2,362.3 557.2,363.8 561.2,362.3 561.3,355.7 562.1,349.1 561.9,342.5 563,335.9 562.1,329.3 561.9,322.7 562.4,316.1" fill="none" stroke="#111" stroke-width="1.25" stroke-dasharray="4,1.8" stroke-linejoin="round"/>
<polygon points="566.5,316.1 567,319.9 567,323.7 566.3,327.5 566.9,331.3 566.9,335.1 567.4,338.9 566.9,342.7 568,344.2 569.2,342.7 569.2,338.9 569.4,335.1 570.1,331.3 569.7,327.5 570.3,323.7 570.4,319.9 569.6,316.1" fill="#d33222" stroke="none"/>
<polyline points="566.5,316.1 567,319.9 567,323.7 566.3,327.5 566.9,331.3 566.9,335.1 567.4,338.9 566.9,342.7 568,344.2 569.2,342.7 569.2,338.9 569.4,335.1 570.1,331.3 569.7,327.5 570.3,323.7 570.4,319.9 569.6,316.1" fill="none" stroke="#111" stroke-width="1.25" stroke-dasharray="4,1.8" stroke-linejoin="round"/>
<polygon points="589.2,316.1 588.7,323.7 588.5,331.4 589.8,339 589.8,346.6 589.6,354.2 590.4,361.9 590.3,369.5 593.9,371 597.4,369.5 598.4,361.9 597.8,354.2 597.6,346.6 597.9,339 598.3,331.4 598.2,323.7 598.5,316.1" fill="#d33222" stroke="none"/>
<polyline points="589.2,316.1 588.7,323.7 588.5,331.4 589.8,339 589.8,346.6 589.6,354.2 590.4,361.9 590.3,369.5 593.9,371 597.4,369.5 598.4,361.9 597.8,354.2 597.6,346.6 597.9,339 598.3,331.4 598.2,323.7 598.5,316.1" fill="none" stroke="#111" stroke-width="1.25" stroke-dasharray="4,1.8" stroke-linejoin="round"/>
<polygon points="600.5,316.1 600.5,323.4 600.1,330.8 601.3,338.1 600.7,345.4 601.2,352.7 600.4,360.1 601.5,367.4 604.6,368.9 607.7,367.4 608.6,360.1 608.5,352.7 608.4,345.4 608.8,338.1 609.3,330.8 609.2,323.4 608.7,316.1" fill="#d33222" stroke="none"/>
<polyline points="600.5,316.1 600.5,323.4 600.1,330.8 601.3,338.1 600.7,345.4 601.2,352.7 600.4,360.1 601.5,367.4 604.6,368.9 607.7,367.4 608.6,360.1 608.5,352.7 608.4,345.4 608.8,338.1 609.3,330.8 609.2,323.4 608.7,316.1" fill="none" stroke="#111" stroke-width="1.25" stroke-dasharray="4,1.8" stroke-linejoin="round"/>
<polygon points="609.8,316.1 609.4,324 610.2,331.9 609.1,339.8 610.2,347.8 610.7,355.7 609.4,363.6 610.4,371.5 612.3,373 614.3,371.5 615.2,363.6 615.4,355.7 614.6,347.8 614.5,339.8 615,331.9 615.5,324 614.9,316.1" fill="#d33222" stroke="none"/>
<polyline points="609.8,316.1 609.4,324 610.2,331.9 609.1,339.8 610.2,347.8 610.7,355.7 609.4,363.6 610.4,371.5 612.3,373 614.3,371.5 615.2,363.6 615.4,355.7 614.6,347.8 614.5,339.8 615,331.9 615.5,324 614.9,316.1" fill="none" stroke="#111" stroke-width="1.25" stroke-dasharray="4,1.8" stroke-linejoin="round"/>
<polygon points="617,316.1 616.4,322.7 616.3,329.3 617,335.9 616.6,342.5 617.9,349.1 617.7,355.7 617.7,362.3 620.1,363.8 622.5,362.3 622.5,355.7 622.4,349.1 622.5,342.5 622.7,335.9 623.2,329.3 622.9,322.7 623.2,316.1" fill="#d33222" stroke="none"/>
<polyline points="617,316.1 616.4,322.7 616.3,329.3 617,335.9 616.6,342.5 617.9,349.1 617.7,355.7 617.7,362.3 620.1,363.8 622.5,362.3 622.5,355.7 622.4,349.1 622.5,342.5 622.7,335.9 623.2,329.3 622.9,322.7 623.2,316.1" fill="none" stroke="#111" stroke-width="1.25" stroke-dasharray="4,1.8" stroke-linejoin="round"/>
<polyline points="557,316.1 557.4,340 557.2,352" fill="none" stroke="#111" stroke-width="1.25" stroke-dasharray="4,1.8" stroke-linejoin="round"/>
<polyline points="350.5,408.3 364.4,408.3 365.4,405.1 367.4,405.1 368.4,408.3 368.4,408.3 369.4,405.1 371.3,405.1 372.3,408.3 372.3,408.3 373.3,405.1 375.3,405.1 376.3,408.3 376.3,408.3 377.3,405.1 379.3,405.1 380.3,408.3 380.3,408.3 381.3,405.1 383.3,405.1 384.2,408.3 384.2,408.3 385.2,405.1 387.2,405.1 388.2,408.3 388.2,408.3 389.2,405.1 391.2,405.1 392.2,408.3 392.2,408.3 393.2,405.1 395.2,405.1 396.2,408.3 396.2,408.3 397.2,405.1 399.1,405.1 400.1,408.3 400.1,408.3 401.1,405.1 403.1,405.1 404.1,408.3 406.1,408.3" fill="none" stroke="#111" stroke-width="0.9" stroke-linejoin="round" />
<polyline points="406.3,406.9 409.6,383.4 417.5,383.4 419,386.3 420.3,383.4 423.1,381.6 424.6,380.6 425.4,375 427.8,363.8 429.7,358.1 431.2,355.3 432.5,361.9 434,375 435.3,375.9 436.6,366.6 438.1,363.8 439.4,367.5 440.9,372.2 442.8,368.4 444.7,366.6 446.6,365.6 448.4,364.7 449.4,369.4 451.3,364.7 454.1,363.8 456.9,363.8 458.8,376.9 460.6,384.4 463.4,379.7 467.2,377.8 469.1,375.9 470.9,380.6 472.3,384.4 479.4,376.9 488.8,371.3 498.1,368.4 505.6,367.5 511.3,369.4 513.1,382.5 514,381.3 515.1,383.6 516.2,383.6 531.9,383.6 533,381.3 535.3,382.4 538.7,380.2 540.9,380.2 543.1,383.6 545.4,383.6 547.6,381.3 549.9,380.2 552.1,382.4 554.4,383.6 558.8,383.6 563.3,382.4 567.8,381.3 572.3,380.2 575,379.1 581.9,376.8 586.9,376 589.4,381.8 591.9,380.1 595.7,383.1 605.8,383.1 636,383.1 641.1,383.1" fill="none" stroke="#111" stroke-width="1.2" stroke-linejoin="round" />
<path d="M429.5 358.5v3.0M431.5 356.9v3.0M433.5 370.6v3.0M435.5 374.6v3.0M437.5 364.9v3.0M439.5 367.7v3.0M441.5 371.1v3.0M443.5 367.8v3.0M445.5 366.2v3.0M447.5 365.2v3.0M449.5 369.1v3.0M451.5 364.6v3.0M453.5 363.9v3.0M455.5 363.8v3.0M457.5 368.1v3.0M459.5 379.9v3.0M461.5 382.9v3.0M463.5 379.7v3.0M465.5 378.7v3.0M467.5 377.5v3.0M469.5 377.0v3.0M471.5 382.2v3.0M473.5 383.1v3.0M475.5 381.0v3.0M477.5 378.9v3.0M479.5 376.8v3.0M481.5 375.6v3.0M483.5 374.4v3.0M485.5 373.2v3.0M487.5 372.0v3.0M489.5 371.0v3.0M491.5 370.4v3.0M493.5 369.8v3.0M495.5 369.2v3.0M497.5 368.6v3.0M499.5 368.3v3.0M501.5 368.0v3.0M503.5 367.8v3.0M505.5 367.5v3.0M507.5 368.1v3.0M509.5 368.8v3.0M511.5 371.1v3.0M513.5 382.0v3.0M515.5 383.6v3.0M517.5 383.6v3.0M519.5 383.6v3.0M521.5 383.6v3.0M523.5 383.6v3.0M525.5 383.6v3.0M527.5 383.6v3.0M529.5 383.6v3.0M531.5 383.6v3.0M533.5 381.5v3.0M535.5 382.3v3.0M537.5 381.0v3.0M539.5 380.2v3.0M541.5 381.1v3.0M543.5 383.6v3.0M545.5 383.4v3.0M547.5 381.4v3.0M549.5 380.4v3.0M551.5 381.8v3.0M553.5 383.1v3.0M555.5 383.6v3.0M557.5 383.6v3.0M559.5 383.4v3.0M561.5 382.9v3.0M563.5 382.4v3.0M565.5 381.9v3.0M567.5 381.4v3.0M569.5 380.9v3.0M571.5 380.4v3.0M573.5 379.7v3.0M575.5 378.9v3.0M577.5 378.2v3.0M579.5 377.6v3.0M581.5 376.9v3.0M583.5 376.5v3.0M585.5 376.2v3.0M587.5 377.4v3.0M589.5 381.8v3.0M591.5 380.4v3.0M593.5 381.3v3.0M595.5 382.9v3.0M597.5 383.1v3.0M599.5 383.1v3.0M601.5 383.1v3.0M603.5 383.1v3.0M605.5 383.1v3.0M607.5 383.1v3.0M609.5 383.1v3.0M611.5 383.1v3.0M613.5 383.1v3.0M615.5 383.1v3.0M617.5 383.1v3.0M619.5 383.1v3.0M621.5 383.1v3.0M623.5 383.1v3.0M625.5 383.1v3.0M627.5 383.1v3.0M629.5 383.1v3.0M631.5 383.1v3.0M633.5 383.1v3.0M635.5 383.1v3.0M637.5 383.1v3.0M639.5 383.1v3.0" stroke="#111" stroke-width="1.0" fill="none" opacity="1"/>
</g>
<line x1="472.8" y1="372.8" x2="504.7" y2="354.9" stroke="#1a1aff" stroke-width="1.1"/>
<polygon points="508.4,352.9 505.3,357.5 504.9,354.9 502.8,353.2" fill="#1a1aff"/>
<line x1="512.1" y1="354.1" x2="521.0" y2="374.2" stroke="#1a1aff" stroke-width="1.1"/>
<polygon points="522.7,378.0 518.4,374.4 521.1,374.3 523.0,372.4" fill="#1a1aff"/>
<polyline points="531.5,378 540.3,371 544.8,376.8 553.4,371.8 557.4,377.5 576.8,365.4" fill="none" stroke="#1a1aff" stroke-width="1.1"/>
<line x1="557.4" y1="377.5" x2="576.5" y2="365.6" stroke="#1a1aff" stroke-width="1.1"/>
<polygon points="580.1,363.4 577.2,368.2 576.7,365.5 574.5,363.9" fill="#1a1aff"/>
<line x1="588.2" y1="362.9" x2="598.1" y2="374.8" stroke="#1a1aff" stroke-width="1.1"/>
<polygon points="600.8,378.0 595.7,375.8 598.2,374.9 599.5,372.6" fill="#1a1aff"/>
</svg></body></html>
